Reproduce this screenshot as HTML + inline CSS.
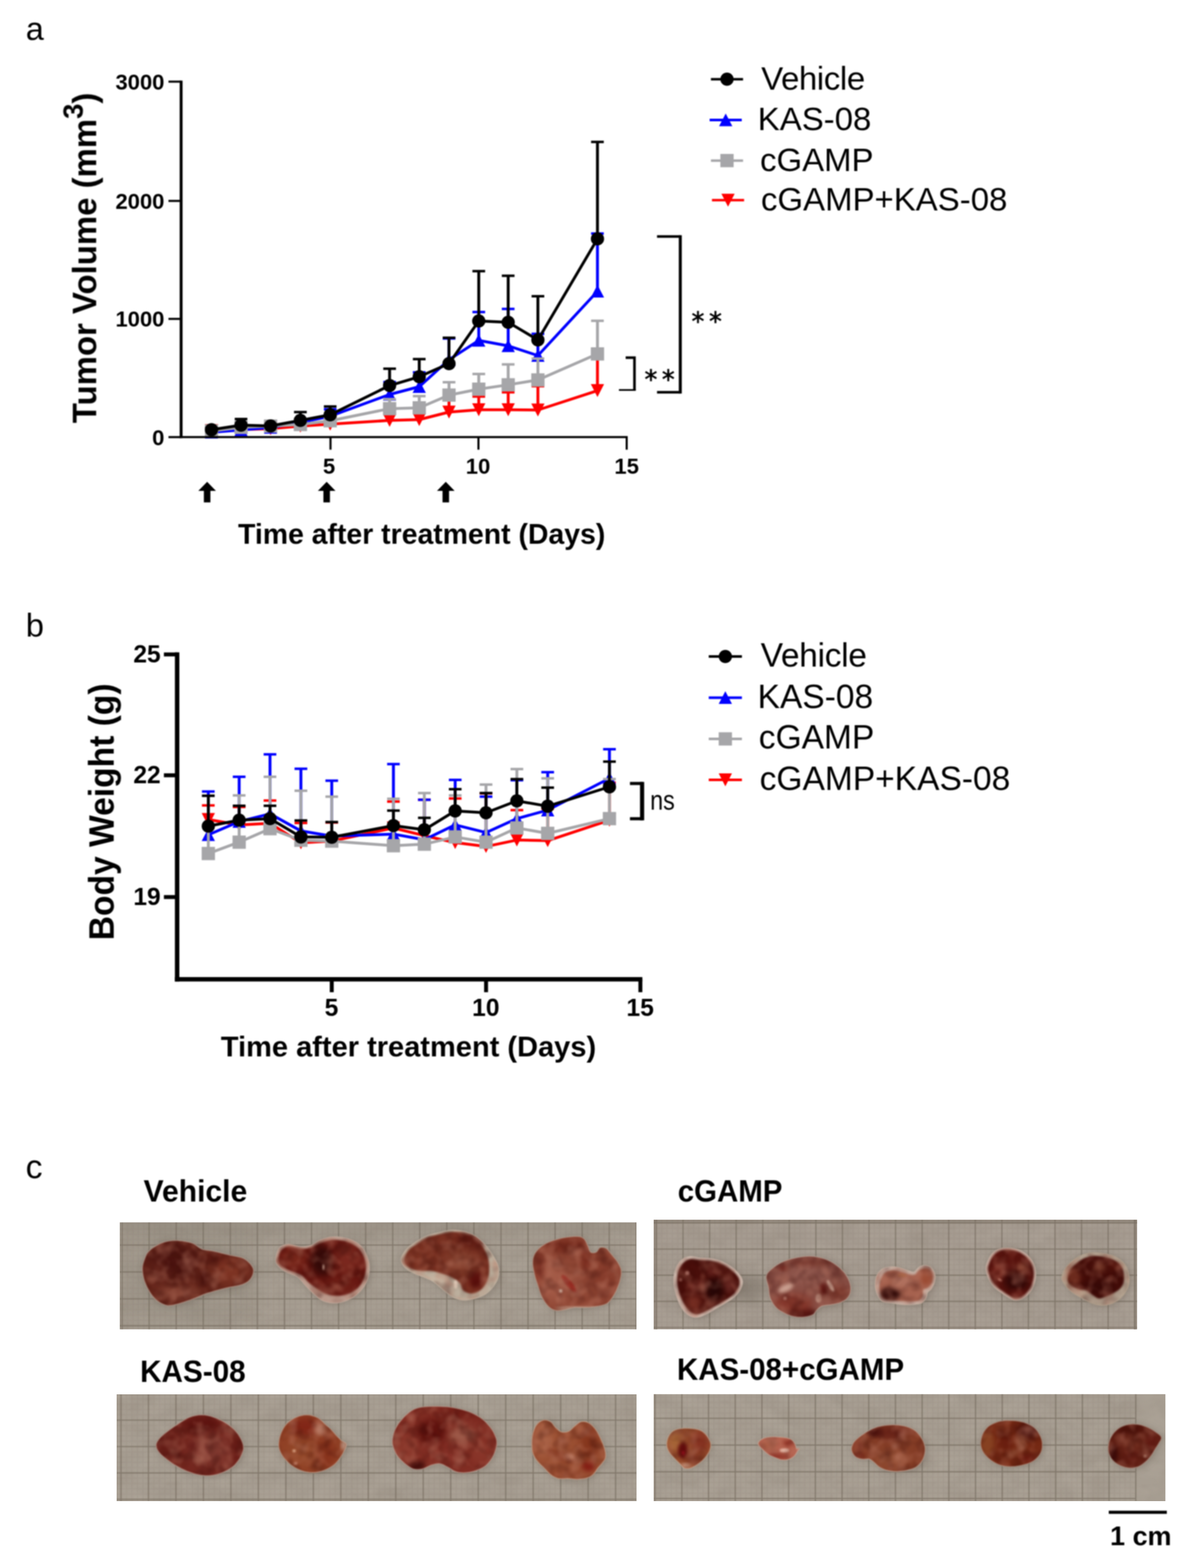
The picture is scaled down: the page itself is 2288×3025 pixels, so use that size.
<!DOCTYPE html>
<html lang="en">
<head>
<meta charset="utf-8">
<title>Figure: tumor volume, body weight and tumor images</title>
<style>
html,body{margin:0;padding:0;background:#fff;}
body{width:2288px;height:3025px;overflow:hidden;}
svg{display:block;font-family:"Liberation Sans",Arial,Helvetica,sans-serif;fill:#000;}
svg text{fill:#000;}
</style>
</head>
<body>
<svg width="2288" height="3025" viewBox="0 0 2288 3025">
<defs>
<filter id="soft" filterUnits="userSpaceOnUse" x="0" y="0" width="2288" height="3025" color-interpolation-filters="sRGB"><feGaussianBlur stdDeviation="0.9"/></filter>
<filter id="b1" color-interpolation-filters="sRGB" x="-5%" y="-5%" width="110%" height="110%"><feGaussianBlur stdDeviation="0.9"/></filter>
<filter id="b15" color-interpolation-filters="sRGB" x="-5%" y="-5%" width="110%" height="110%"><feGaussianBlur stdDeviation="1.4"/></filter>
<filter id="b2" color-interpolation-filters="sRGB" x="-10%" y="-10%" width="120%" height="120%"><feGaussianBlur stdDeviation="1.8"/></filter>
<filter id="b3" color-interpolation-filters="sRGB" x="-20%" y="-20%" width="140%" height="140%"><feGaussianBlur stdDeviation="3"/></filter>
<filter id="b4" color-interpolation-filters="sRGB" x="-30%" y="-30%" width="160%" height="160%"><feGaussianBlur stdDeviation="4.5"/></filter>
<filter id="b6" color-interpolation-filters="sRGB" x="-40%" y="-40%" width="180%" height="180%"><feGaussianBlur stdDeviation="7"/></filter>
<filter id="b10" color-interpolation-filters="sRGB" x="-60%" y="-60%" width="220%" height="220%"><feGaussianBlur stdDeviation="11"/></filter>
<filter id="b30" color-interpolation-filters="sRGB" x="-60%" y="-60%" width="220%" height="220%"><feGaussianBlur stdDeviation="30"/></filter>
<filter id="tex" x="-8%" y="-8%" width="116%" height="116%" color-interpolation-filters="sRGB">
<feTurbulence type="fractalNoise" baseFrequency="0.04" numOctaves="2" seed="7" result="n"/>
<feColorMatrix in="n" type="matrix" values="0 0 0 0 0.2  0 0 0 0 0.03  0 0 0 0 0.02  0.9 0 0 0 -0.38" result="dk"/>
<feColorMatrix in="n" type="matrix" values="0 0 0 0 0.74  0 0 0 0 0.48  0 0 0 0 0.4  0 1.1 0 0 -0.48" result="lt"/>
<feComposite in="dk" in2="SourceGraphic" operator="in" result="dk2"/>
<feComposite in="lt" in2="SourceGraphic" operator="in" result="lt2"/>
<feMerge result="m"><feMergeNode in="SourceGraphic"/><feMergeNode in="dk2"/><feMergeNode in="lt2"/></feMerge>
<feGaussianBlur in="m" stdDeviation="1.5"/>
</filter>
<filter id="paper" x="0" y="0" width="100%" height="100%" color-interpolation-filters="sRGB">
<feTurbulence type="fractalNoise" baseFrequency="0.02 0.03" numOctaves="3" seed="11" result="n"/>
<feColorMatrix in="n" type="matrix" values="0 0 0 0 0.5  0 0 0 0 0.45  0 0 0 0 0.4  1.6 0 0 0 -0.62" result="dk"/>
<feColorMatrix in="n" type="matrix" values="0 0 0 0 0.8  0 0 0 0 0.76  0 0 0 0 0.71  0 1.6 0 0 -0.62" result="lt"/>
<feMerge><feMergeNode in="dk"/><feMergeNode in="lt"/></feMerge>
</filter>
<clipPath id="pc1"><rect x="231" y="2358.3" width="996.5" height="206.19999999999982"/></clipPath>
<clipPath id="tc2"><path d="M275.0 2448.9C274.8 2440.5 277.8 2433.3 280.0 2427.3C282.3 2421.4 283.4 2417.8 288.6 2413.0C293.9 2408.2 303.2 2401.9 311.6 2398.6C320.0 2395.4 329.1 2393.6 338.9 2393.6C348.7 2393.6 362.1 2395.9 370.4 2398.6C378.8 2401.4 381.9 2407.5 389.1 2410.1C396.2 2412.8 404.6 2412.5 413.5 2414.4C422.3 2416.3 432.6 2419.2 442.1 2421.6C451.7 2424.0 463.2 2424.5 470.8 2428.8C478.5 2433.1 485.9 2441.2 488.1 2447.4C490.2 2453.6 487.1 2461.1 483.7 2466.1C480.4 2471.1 476.1 2474.4 468.0 2477.5C459.8 2480.7 446.4 2481.9 435.0 2484.7C423.5 2487.6 409.9 2491.2 399.1 2494.8C388.4 2498.4 380.5 2502.7 370.4 2506.2C360.4 2509.8 347.2 2514.4 338.9 2516.3C330.5 2518.2 326.9 2519.6 320.2 2517.7C313.5 2515.8 305.1 2511.5 298.7 2504.8C292.2 2498.1 285.4 2486.9 281.5 2477.5C277.5 2468.2 275.3 2457.2 275.0 2448.9Z"/></clipPath>
<clipPath id="tc3"><path d="M532.2 2430.3C532.4 2424.8 534.7 2413.6 538.6 2408.7C542.6 2403.8 548.9 2401.3 555.9 2400.8C562.8 2400.4 572.8 2405.5 580.3 2405.9C587.7 2406.2 594.1 2405.1 600.3 2403.0C606.6 2400.8 610.6 2395.7 617.5 2393.0C624.5 2390.2 633.1 2387.0 641.9 2386.5C650.8 2386.0 661.8 2387.3 670.6 2390.1C679.5 2392.8 688.8 2397.3 695.0 2403.0C701.2 2408.7 705.1 2417.1 707.9 2424.5C710.8 2431.9 712.5 2439.3 712.2 2447.5C712.0 2455.6 709.8 2465.6 706.5 2473.3C703.1 2480.9 698.1 2487.6 692.1 2493.4C686.2 2499.1 678.3 2504.4 670.6 2507.7C663.0 2511.1 654.1 2513.2 646.2 2513.5C638.4 2513.7 630.0 2512.0 623.3 2509.2C616.6 2506.3 611.8 2501.3 606.1 2496.2C600.3 2491.2 594.1 2484.5 588.9 2479.0C583.6 2473.5 580.7 2467.5 574.5 2463.2C568.3 2458.9 557.8 2456.8 551.6 2453.2C545.3 2449.6 540.4 2445.6 537.2 2441.7C534.0 2437.9 532.0 2435.8 532.2 2430.3Z"/></clipPath>
<clipPath id="tc4"><path d="M774.3 2428.9C775.1 2423.4 779.6 2415.7 784.4 2410.2C789.2 2404.7 796.3 2400.2 803.0 2395.9C809.7 2391.6 817.4 2387.3 824.6 2384.4C831.7 2381.5 838.2 2380.4 846.1 2378.6C854.0 2376.9 863.5 2374.0 871.9 2373.6C880.3 2373.3 888.6 2374.5 896.3 2376.5C903.9 2378.5 911.1 2381.4 917.8 2385.8C924.5 2390.2 931.0 2396.8 936.4 2403.0C941.9 2409.3 946.7 2416.4 950.8 2423.1C954.9 2429.8 959.2 2436.5 960.8 2443.2C962.5 2449.9 962.3 2457.1 960.8 2463.3C959.4 2469.5 956.3 2475.0 952.2 2480.5C948.2 2486.0 942.7 2492.2 936.4 2496.3C930.2 2500.3 922.3 2503.0 914.9 2504.9C907.5 2506.8 899.2 2508.5 892.0 2507.8C884.8 2507.0 878.4 2504.2 871.9 2500.6C865.4 2497.0 859.2 2491.0 853.2 2486.2C847.3 2481.5 842.0 2475.7 836.0 2471.9C830.1 2468.1 824.1 2466.2 817.4 2463.3C810.7 2460.4 802.1 2458.0 795.9 2454.7C789.6 2451.3 783.7 2447.5 780.1 2443.2C776.5 2438.9 773.6 2434.4 774.3 2428.9Z"/></clipPath>
<clipPath id="tc5"><path d="M1028.0 2434.6C1028.2 2427.6 1029.8 2422.6 1033.0 2417.3C1036.2 2412.1 1041.4 2407.1 1047.3 2403.0C1053.3 2398.9 1061.2 2395.6 1068.9 2393.0C1076.5 2390.3 1085.6 2388.4 1093.2 2387.2C1100.9 2386.0 1109.3 2385.3 1114.8 2385.8C1120.3 2386.3 1123.1 2387.2 1126.2 2390.1C1129.3 2393.0 1131.3 2398.7 1133.4 2403.0C1135.6 2407.3 1136.3 2413.8 1139.2 2415.9C1142.0 2418.1 1147.5 2417.3 1150.6 2415.9C1153.7 2414.5 1154.7 2408.5 1157.8 2407.3C1160.9 2406.1 1165.7 2406.6 1169.3 2408.7C1172.9 2410.9 1175.7 2415.9 1179.3 2420.2C1182.9 2424.5 1187.7 2429.5 1190.8 2434.6C1193.9 2439.6 1197.0 2444.8 1198.0 2450.3C1198.9 2455.8 1197.7 2461.8 1196.5 2467.5C1195.3 2473.3 1192.9 2479.5 1190.8 2484.8C1188.6 2490.0 1186.7 2494.3 1183.6 2499.1C1180.5 2503.9 1176.9 2510.1 1172.1 2513.5C1167.4 2516.8 1162.1 2517.8 1154.9 2519.2C1147.8 2520.6 1137.0 2521.6 1129.1 2522.1C1121.2 2522.5 1114.3 2521.3 1107.6 2522.1C1100.9 2522.8 1094.9 2525.4 1088.9 2526.4C1083.0 2527.3 1077.0 2529.0 1071.7 2527.8C1066.5 2526.6 1061.7 2523.5 1057.4 2519.2C1053.1 2514.9 1049.0 2508.2 1045.9 2502.0C1042.8 2495.8 1041.1 2489.1 1038.7 2481.9C1036.3 2474.7 1033.4 2466.8 1031.6 2458.9C1029.8 2451.1 1027.7 2441.5 1028.0 2434.6Z"/></clipPath>
<clipPath id="pc6"><rect x="225" y="2690" width="1003" height="206"/></clipPath>
<clipPath id="tc7"><path d="M301.5 2787.5C302.0 2782.7 305.8 2777.9 310.1 2773.1C314.4 2768.3 321.4 2763.3 327.3 2758.8C333.3 2754.2 339.5 2749.9 346.0 2745.9C352.4 2741.8 358.9 2737.0 366.1 2734.4C373.2 2731.8 381.4 2730.1 389.0 2730.1C396.7 2730.1 404.6 2732.0 412.0 2734.4C419.4 2736.8 426.8 2740.4 433.5 2744.4C440.2 2748.5 446.9 2753.3 452.1 2758.8C457.4 2764.3 462.2 2771.4 465.1 2777.4C467.9 2783.4 469.8 2788.7 469.4 2794.6C468.9 2800.6 465.5 2807.5 462.2 2813.3C458.8 2819.0 454.8 2824.5 449.3 2829.1C443.8 2833.6 436.4 2837.7 429.2 2840.5C422.0 2843.4 413.9 2845.6 406.2 2846.3C398.6 2847.0 390.9 2846.3 383.3 2844.8C375.6 2843.4 367.5 2840.5 360.3 2837.7C353.2 2834.8 346.7 2831.5 340.3 2827.6C333.8 2823.8 327.1 2819.0 321.6 2814.7C316.1 2810.4 310.6 2806.4 307.3 2801.8C303.9 2797.3 301.0 2792.2 301.5 2787.5Z"/></clipPath>
<clipPath id="tc8"><path d="M538.0 2787.5C538.0 2781.7 539.1 2774.1 541.6 2767.4C544.1 2760.7 548.1 2752.8 553.1 2747.3C558.1 2741.8 565.0 2737.3 571.7 2734.4C578.4 2731.5 586.3 2729.8 593.2 2730.1C600.2 2730.3 607.8 2733.0 613.3 2735.8C618.8 2738.7 622.2 2743.7 626.2 2747.3C630.3 2750.9 633.9 2753.5 637.7 2757.3C641.5 2761.2 645.8 2766.7 649.2 2770.3C652.5 2773.8 654.7 2776.2 657.8 2778.9C660.9 2781.5 666.9 2782.7 667.8 2786.0C668.8 2789.4 665.7 2794.4 663.5 2798.9C661.4 2803.5 658.3 2808.7 654.9 2813.3C651.6 2817.8 648.5 2822.4 643.5 2826.2C638.4 2830.0 631.3 2833.8 624.8 2836.2C618.4 2838.6 611.4 2840.3 604.7 2840.5C598.0 2840.8 591.1 2839.6 584.6 2837.7C578.2 2835.8 571.7 2832.9 566.0 2829.1C560.3 2825.2 554.3 2819.3 550.2 2814.7C546.1 2810.2 543.6 2806.4 541.6 2801.8C539.6 2797.3 538.0 2793.2 538.0 2787.5Z"/></clipPath>
<clipPath id="tc9"><path d="M757.2 2780.3C757.5 2774.6 758.9 2766.7 761.5 2760.3C764.1 2753.8 768.2 2747.6 773.0 2741.6C777.8 2735.6 784.2 2728.7 790.2 2724.4C796.2 2720.1 801.7 2717.6 808.9 2715.8C816.0 2714.0 824.4 2713.9 833.2 2713.6C842.1 2713.4 853.1 2713.5 861.9 2714.3C870.8 2715.2 878.4 2716.7 886.3 2718.6C894.2 2720.6 902.1 2722.7 909.3 2725.8C916.4 2728.9 923.4 2732.8 929.4 2737.3C935.3 2741.8 940.8 2747.6 945.1 2753.1C949.4 2758.6 953.0 2764.8 955.2 2770.3C957.3 2775.8 958.5 2780.1 958.1 2786.1C957.6 2792.1 955.2 2799.9 952.3 2806.2C949.4 2812.4 945.6 2818.6 940.8 2823.4C936.1 2828.2 930.3 2832.0 923.6 2834.8C916.9 2837.7 907.8 2839.9 900.7 2840.6C893.5 2841.3 886.6 2840.8 880.6 2839.2C874.6 2837.5 870.1 2833.2 864.8 2830.5C859.5 2827.9 854.5 2824.1 849.0 2823.4C843.5 2822.7 837.5 2824.6 831.8 2826.2C826.1 2827.9 820.3 2832.2 814.6 2833.4C808.9 2834.6 802.9 2835.1 797.4 2833.4C791.9 2831.7 786.6 2827.4 781.6 2823.4C776.6 2819.3 770.8 2813.8 767.3 2809.0C763.7 2804.2 761.8 2799.5 760.1 2794.7C758.4 2789.9 757.0 2786.1 757.2 2780.3Z"/></clipPath>
<clipPath id="tc10"><path d="M1026.5 2788.9C1026.4 2782.6 1026.4 2774.0 1028.0 2767.3C1029.5 2760.6 1032.4 2753.2 1035.9 2748.7C1039.3 2744.1 1044.5 2741.0 1048.8 2740.1C1053.1 2739.1 1057.9 2740.6 1061.7 2743.0C1065.5 2745.3 1068.1 2751.1 1071.7 2754.4C1075.3 2757.8 1078.9 2761.8 1083.2 2763.0C1087.5 2764.2 1093.2 2763.5 1097.5 2761.6C1101.9 2759.7 1105.0 2754.7 1109.0 2751.6C1113.1 2748.5 1117.4 2743.9 1121.9 2743.0C1126.5 2742.0 1131.7 2743.2 1136.3 2745.8C1140.8 2748.5 1145.4 2753.5 1149.2 2758.7C1153.0 2764.0 1156.4 2771.2 1159.2 2777.4C1162.1 2783.6 1165.0 2790.3 1166.4 2796.0C1167.8 2801.8 1168.8 2807.3 1167.8 2811.8C1166.9 2816.4 1163.3 2819.7 1160.7 2823.3C1158.0 2826.9 1154.7 2830.0 1152.1 2833.3C1149.4 2836.7 1148.0 2840.5 1144.9 2843.4C1141.8 2846.2 1138.4 2848.9 1133.4 2850.5C1128.4 2852.2 1121.0 2853.2 1114.8 2853.4C1108.5 2853.7 1102.3 2852.2 1096.1 2852.0C1089.9 2851.7 1083.0 2853.2 1077.5 2852.0C1072.0 2850.8 1067.7 2848.2 1063.1 2844.8C1058.6 2841.5 1054.5 2836.2 1050.2 2831.9C1045.9 2827.6 1040.9 2823.5 1037.3 2819.0C1033.7 2814.4 1030.5 2809.7 1028.7 2804.6C1026.9 2799.6 1026.7 2795.1 1026.5 2788.9Z"/></clipPath>
<clipPath id="pc11"><rect x="1261" y="2353" width="932.5" height="211.5"/></clipPath>
<clipPath id="tc12"><path d="M1300.1 2467.4C1300.5 2460.7 1302.0 2453.3 1304.4 2447.3C1306.8 2441.4 1310.2 2435.4 1314.5 2431.6C1318.8 2427.7 1324.3 2425.1 1330.3 2424.4C1336.2 2423.7 1343.2 2426.5 1350.3 2427.3C1357.5 2428.0 1366.1 2427.5 1373.3 2428.7C1380.5 2429.9 1387.2 2431.8 1393.4 2434.4C1399.6 2437.1 1405.3 2440.6 1410.6 2444.5C1415.8 2448.3 1421.3 2452.8 1424.9 2457.4C1428.5 2461.9 1431.6 2466.7 1432.1 2471.7C1432.6 2476.7 1430.4 2482.5 1427.8 2487.5C1425.2 2492.5 1421.1 2497.5 1416.3 2501.9C1411.5 2506.2 1404.8 2509.7 1399.1 2513.3C1393.4 2516.9 1387.6 2520.0 1381.9 2523.4C1376.2 2526.7 1370.4 2530.5 1364.7 2533.4C1358.9 2536.3 1352.7 2539.6 1347.5 2540.6C1342.2 2541.5 1337.9 2541.3 1333.1 2539.2C1328.3 2537.0 1322.8 2532.7 1318.8 2527.7C1314.7 2522.7 1311.5 2515.7 1308.7 2509.0C1306.0 2502.3 1303.7 2494.4 1302.3 2487.5C1300.8 2480.6 1299.8 2474.1 1300.1 2467.4Z"/></clipPath>
<clipPath id="tc13"><path d="M1478.7 2461.7C1479.9 2455.5 1485.4 2451.6 1490.2 2447.3C1494.9 2443.0 1501.2 2439.0 1507.4 2435.9C1513.6 2432.8 1520.3 2430.6 1527.5 2428.7C1534.6 2426.8 1543.0 2425.1 1550.4 2424.4C1557.8 2423.7 1564.8 2423.4 1571.9 2424.4C1579.1 2425.3 1586.8 2427.5 1593.5 2430.1C1600.1 2432.8 1606.4 2436.1 1612.1 2440.2C1617.8 2444.2 1623.6 2449.3 1627.9 2454.5C1632.2 2459.8 1635.8 2466.0 1637.9 2471.7C1640.1 2477.5 1641.3 2483.7 1640.8 2488.9C1640.3 2494.2 1638.2 2499.5 1635.1 2503.3C1631.9 2507.1 1627.2 2509.7 1622.1 2511.9C1617.1 2514.0 1610.9 2515.0 1604.9 2516.2C1599.0 2517.4 1591.1 2517.4 1586.3 2519.1C1581.5 2520.7 1579.3 2523.4 1576.2 2526.2C1573.1 2529.1 1571.9 2533.9 1567.6 2536.3C1563.3 2538.7 1556.6 2540.1 1550.4 2540.6C1544.2 2541.1 1536.8 2540.6 1530.3 2539.2C1523.9 2537.7 1517.4 2535.1 1511.7 2532.0C1505.9 2528.9 1500.2 2525.3 1495.9 2520.5C1491.6 2515.7 1488.0 2509.3 1485.9 2503.3C1483.7 2497.3 1484.2 2491.6 1483.0 2484.6C1481.8 2477.7 1477.5 2467.9 1478.7 2461.7Z"/></clipPath>
<clipPath id="tc14"><path d="M1688.7 2480.3C1688.5 2474.4 1689.4 2466.9 1691.6 2461.7C1693.7 2456.4 1697.3 2451.6 1701.6 2448.8C1705.9 2445.9 1711.9 2444.9 1717.4 2444.5C1722.9 2444.0 1728.9 2444.7 1734.6 2445.9C1740.3 2447.1 1747.0 2450.2 1751.8 2451.6C1756.6 2453.1 1759.9 2455.5 1763.3 2454.5C1766.6 2453.6 1768.5 2448.1 1771.9 2445.9C1775.2 2443.8 1779.3 2441.6 1783.4 2441.6C1787.4 2441.6 1792.9 2442.8 1796.3 2445.9C1799.6 2449.0 1802.5 2455.5 1803.5 2460.3C1804.4 2465.0 1803.2 2470.3 1802.0 2474.6C1800.8 2478.9 1798.4 2483.0 1796.3 2486.1C1794.1 2489.2 1790.8 2490.4 1789.1 2493.2C1787.4 2496.1 1788.2 2499.9 1786.2 2503.3C1784.3 2506.6 1781.9 2511.2 1777.6 2513.3C1773.3 2515.5 1766.6 2515.7 1760.4 2516.2C1754.2 2516.7 1747.0 2516.7 1740.3 2516.2C1733.6 2515.7 1726.5 2514.3 1720.3 2513.3C1714.0 2512.4 1707.6 2513.1 1703.0 2510.5C1698.5 2507.8 1695.4 2502.6 1693.0 2497.5C1690.6 2492.5 1688.9 2486.3 1688.7 2480.3Z"/></clipPath>
<clipPath id="tc15"><path d="M1902.3 2448.9C1901.8 2442.9 1903.9 2438.1 1905.9 2433.1C1907.9 2428.1 1910.9 2422.6 1914.5 2418.7C1918.1 2414.9 1922.6 2411.9 1927.4 2410.1C1932.2 2408.3 1937.7 2408.0 1943.2 2408.0C1948.7 2408.0 1954.9 2408.6 1960.4 2410.1C1965.9 2411.7 1971.4 2414.0 1976.2 2417.3C1981.0 2420.6 1985.8 2425.4 1989.1 2430.2C1992.5 2435.0 1994.8 2440.5 1996.3 2446.0C1997.7 2451.5 1998.2 2457.5 1997.7 2463.2C1997.2 2468.9 1995.6 2475.2 1993.4 2480.4C1991.3 2485.7 1988.4 2490.7 1984.8 2494.8C1981.2 2498.8 1976.4 2502.7 1971.9 2504.8C1967.4 2507.0 1962.1 2508.2 1957.5 2507.7C1953.0 2507.2 1948.9 2504.3 1944.6 2501.9C1940.3 2499.5 1936.0 2496.4 1931.7 2493.3C1927.4 2490.2 1922.6 2487.4 1918.8 2483.3C1915.0 2479.2 1911.5 2474.7 1908.8 2468.9C1906.0 2463.2 1902.8 2454.8 1902.3 2448.9Z"/></clipPath>
<clipPath id="tc16"><path d="M2048.8 2466.1C2048.3 2460.6 2051.4 2454.1 2054.5 2448.9C2057.6 2443.6 2062.4 2438.8 2067.4 2434.5C2072.4 2430.2 2078.2 2425.9 2084.6 2423.0C2091.1 2420.2 2098.7 2418.0 2106.2 2417.3C2113.6 2416.6 2121.7 2417.5 2129.1 2418.7C2136.5 2419.9 2144.2 2421.4 2150.6 2424.5C2157.1 2427.6 2163.5 2432.4 2167.8 2437.4C2172.1 2442.4 2174.8 2448.6 2176.4 2454.6C2178.1 2460.6 2178.6 2467.3 2177.9 2473.2C2177.2 2479.2 2175.0 2485.2 2172.1 2490.5C2169.3 2495.7 2165.5 2500.7 2160.7 2504.8C2155.9 2508.9 2149.4 2512.7 2143.5 2514.8C2137.5 2517.0 2131.0 2518.0 2124.8 2517.7C2118.6 2517.5 2112.1 2515.6 2106.2 2513.4C2100.2 2511.3 2094.7 2507.9 2088.9 2504.8C2083.2 2501.7 2077.0 2498.6 2071.7 2494.8C2066.5 2490.9 2061.2 2486.6 2057.4 2481.9C2053.6 2477.1 2049.3 2471.6 2048.8 2466.1Z"/></clipPath>
<clipPath id="pc17"><rect x="1261" y="2689.4" width="987.5" height="206.5999999999999"/></clipPath>
<clipPath id="tc18"><path d="M1286.5 2787.4C1286.3 2782.4 1287.9 2776.2 1290.1 2771.6C1292.4 2767.1 1295.6 2762.8 1300.2 2760.2C1304.7 2757.5 1311.4 2756.5 1317.4 2755.9C1323.4 2755.3 1330.3 2755.9 1336.0 2756.6C1341.8 2757.3 1347.3 2757.9 1351.8 2760.2C1356.4 2762.4 1360.2 2766.1 1363.3 2770.2C1366.4 2774.3 1369.5 2780.0 1370.5 2784.6C1371.4 2789.1 1370.2 2793.6 1369.0 2797.5C1367.8 2801.3 1365.7 2804.2 1363.3 2807.5C1360.9 2810.9 1358.0 2814.4 1354.7 2817.5C1351.3 2820.7 1347.0 2823.8 1343.2 2826.2C1339.4 2828.5 1335.6 2830.9 1331.7 2831.9C1327.9 2832.9 1323.6 2833.3 1320.3 2831.9C1316.9 2830.5 1314.8 2826.4 1311.6 2823.3C1308.5 2820.2 1304.9 2816.8 1301.6 2813.2C1298.3 2809.7 1294.1 2806.1 1291.6 2801.8C1289.0 2797.5 1286.8 2792.4 1286.5 2787.4Z"/></clipPath>
<clipPath id="tc19"><path d="M1463.0 2784.6C1463.5 2782.4 1465.7 2779.3 1468.8 2777.4C1471.9 2775.5 1476.9 2773.9 1481.7 2773.1C1486.5 2772.2 1492.2 2772.2 1497.5 2772.4C1502.7 2772.5 1508.5 2773.0 1513.2 2773.8C1518.0 2774.6 1522.8 2775.3 1526.2 2777.4C1529.5 2779.4 1531.7 2783.1 1533.3 2786.0C1535.0 2788.9 1534.8 2793.2 1536.2 2794.6C1537.6 2796.0 1541.7 2793.6 1541.9 2794.6C1542.2 2795.6 1539.3 2797.9 1537.6 2800.3C1536.0 2802.7 1534.5 2806.6 1531.9 2808.9C1529.3 2811.3 1525.7 2813.5 1521.9 2814.7C1518.0 2815.9 1513.2 2816.6 1508.9 2816.1C1504.6 2815.6 1500.3 2813.5 1496.0 2811.8C1491.7 2810.1 1486.9 2808.5 1483.1 2806.1C1479.3 2803.7 1475.9 2800.1 1473.1 2797.5C1470.2 2794.8 1467.6 2792.4 1465.9 2790.3C1464.2 2788.1 1462.6 2786.7 1463.0 2784.6Z"/></clipPath>
<clipPath id="tc20"><path d="M1643.0 2794.6C1643.3 2791.0 1644.9 2786.7 1647.3 2783.1C1649.7 2779.5 1653.3 2776.4 1657.4 2773.1C1661.4 2769.7 1666.5 2766.1 1671.7 2763.0C1677.0 2759.9 1682.7 2756.6 1688.9 2754.4C1695.2 2752.3 1702.3 2751.0 1709.0 2750.1C1715.7 2749.3 1722.7 2749.0 1729.1 2749.4C1735.6 2749.8 1741.8 2750.5 1747.8 2752.3C1753.7 2754.1 1760.2 2756.7 1765.0 2760.2C1769.8 2763.6 1773.3 2768.3 1776.4 2773.1C1779.6 2777.9 1782.4 2783.6 1783.6 2788.9C1784.8 2794.1 1784.6 2799.6 1783.6 2804.6C1782.7 2809.7 1780.8 2814.7 1777.9 2819.0C1775.0 2823.3 1771.2 2827.6 1766.4 2830.5C1761.6 2833.3 1755.4 2834.9 1749.2 2836.2C1743.0 2837.5 1735.3 2838.4 1729.1 2838.4C1722.9 2838.4 1717.2 2837.5 1711.9 2836.2C1706.6 2834.9 1701.9 2833.1 1697.5 2830.5C1693.2 2827.8 1689.4 2823.0 1686.1 2820.4C1682.7 2817.8 1681.1 2815.6 1677.5 2814.7C1673.9 2813.7 1668.6 2815.2 1664.6 2814.7C1660.5 2814.2 1656.2 2813.5 1653.1 2811.8C1650.0 2810.1 1647.6 2807.5 1645.9 2804.6C1644.2 2801.8 1642.8 2798.2 1643.0 2794.6Z"/></clipPath>
<clipPath id="tc21"><path d="M1892.4 2784.6C1892.5 2779.6 1893.7 2772.6 1895.9 2767.4C1898.2 2762.1 1901.7 2756.9 1906.0 2753.0C1910.3 2749.2 1916.0 2746.5 1921.8 2744.4C1927.5 2742.4 1934.0 2741.3 1940.4 2740.8C1946.9 2740.4 1954.0 2740.7 1960.5 2741.6C1967.0 2742.4 1973.4 2743.7 1979.2 2745.9C1984.9 2748.0 1990.6 2750.9 1994.9 2754.5C1999.2 2758.1 2002.5 2762.8 2005.0 2767.4C2007.5 2771.9 2009.3 2776.7 2010.0 2781.7C2010.7 2786.7 2010.6 2792.7 2009.3 2797.5C2008.0 2802.3 2005.5 2806.6 2002.1 2810.4C1998.8 2814.2 1994.2 2817.8 1989.2 2820.5C1984.2 2823.1 1978.0 2824.8 1972.0 2826.2C1966.0 2827.6 1959.5 2828.8 1953.3 2829.1C1947.1 2829.3 1940.7 2829.1 1934.7 2827.6C1928.7 2826.2 1922.7 2823.6 1917.5 2820.5C1912.2 2817.4 1906.8 2812.8 1903.1 2809.0C1899.4 2805.2 1897.0 2801.6 1895.2 2797.5C1893.4 2793.4 1892.2 2789.6 1892.4 2784.6Z"/></clipPath>
<clipPath id="tc22"><path d="M2138.3 2796.1C2138.1 2791.5 2138.6 2785.6 2140.4 2780.3C2142.2 2775.0 2145.2 2769.1 2149.0 2764.5C2152.9 2760.0 2158.1 2755.8 2163.4 2753.0C2168.6 2750.3 2174.8 2748.7 2180.6 2748.0C2186.3 2747.3 2192.1 2747.7 2197.8 2748.7C2203.5 2749.8 2209.8 2752.1 2215.0 2754.5C2220.3 2756.9 2225.2 2760.0 2229.4 2763.1C2233.5 2766.2 2239.2 2769.5 2240.1 2773.1C2241.1 2776.7 2237.1 2780.8 2235.1 2784.6C2233.1 2788.4 2230.3 2792.2 2227.9 2796.1C2225.5 2799.9 2223.6 2803.7 2220.8 2807.5C2217.9 2811.4 2214.8 2815.4 2210.7 2819.0C2206.6 2822.6 2201.6 2826.9 2196.4 2829.1C2191.1 2831.2 2184.9 2832.2 2179.2 2831.9C2173.4 2831.7 2167.0 2829.8 2161.9 2827.6C2156.9 2825.5 2152.5 2822.4 2149.0 2819.0C2145.6 2815.7 2142.9 2811.4 2141.1 2807.5C2139.3 2803.7 2138.4 2800.6 2138.3 2796.1Z"/></clipPath>
</defs>
<rect x="0" y="0" width="2288" height="3025" fill="#ffffff"/>
<g id="panel-a" filter="url(#soft)">
<line x1="408.0" y1="830.8" x2="408.0" y2="826.0" stroke="#ff0000" stroke-width="5.6" stroke-linecap="butt"/>
<line x1="395.8" y1="826.0" x2="420.2" y2="826.0" stroke="#ff0000" stroke-width="4.8" stroke-linecap="butt"/>
<line x1="465.0" y1="829.0" x2="465.0" y2="822.0" stroke="#ff0000" stroke-width="5.6" stroke-linecap="butt"/>
<line x1="452.8" y1="822.0" x2="477.2" y2="822.0" stroke="#ff0000" stroke-width="4.8" stroke-linecap="butt"/>
<line x1="522.0" y1="827.0" x2="522.0" y2="821.0" stroke="#ff0000" stroke-width="5.6" stroke-linecap="butt"/>
<line x1="509.8" y1="821.0" x2="534.2" y2="821.0" stroke="#ff0000" stroke-width="4.8" stroke-linecap="butt"/>
<line x1="579.5" y1="822.0" x2="579.5" y2="816.0" stroke="#ff0000" stroke-width="5.6" stroke-linecap="butt"/>
<line x1="567.2" y1="816.0" x2="591.8" y2="816.0" stroke="#ff0000" stroke-width="4.8" stroke-linecap="butt"/>
<line x1="637.0" y1="818.3" x2="637.0" y2="810.0" stroke="#ff0000" stroke-width="5.6" stroke-linecap="butt"/>
<line x1="624.8" y1="810.0" x2="649.2" y2="810.0" stroke="#ff0000" stroke-width="4.8" stroke-linecap="butt"/>
<line x1="751.6" y1="811.0" x2="751.6" y2="795.0" stroke="#ff0000" stroke-width="5.6" stroke-linecap="butt"/>
<line x1="739.4" y1="795.0" x2="763.9" y2="795.0" stroke="#ff0000" stroke-width="4.8" stroke-linecap="butt"/>
<line x1="808.8" y1="809.5" x2="808.8" y2="790.0" stroke="#ff0000" stroke-width="5.6" stroke-linecap="butt"/>
<line x1="796.5" y1="790.0" x2="821.0" y2="790.0" stroke="#ff0000" stroke-width="4.8" stroke-linecap="butt"/>
<line x1="866.2" y1="795.0" x2="866.2" y2="772.0" stroke="#ff0000" stroke-width="5.6" stroke-linecap="butt"/>
<line x1="854.0" y1="772.0" x2="878.5" y2="772.0" stroke="#ff0000" stroke-width="4.8" stroke-linecap="butt"/>
<line x1="923.6" y1="790.5" x2="923.6" y2="765.0" stroke="#ff0000" stroke-width="5.6" stroke-linecap="butt"/>
<line x1="911.4" y1="765.0" x2="935.9" y2="765.0" stroke="#ff0000" stroke-width="4.8" stroke-linecap="butt"/>
<line x1="980.4" y1="790.5" x2="980.4" y2="756.8" stroke="#ff0000" stroke-width="5.6" stroke-linecap="butt"/>
<line x1="968.1" y1="756.8" x2="992.6" y2="756.8" stroke="#ff0000" stroke-width="4.8" stroke-linecap="butt"/>
<line x1="1037.7" y1="791.0" x2="1037.7" y2="745.0" stroke="#ff0000" stroke-width="5.6" stroke-linecap="butt"/>
<line x1="1025.5" y1="745.0" x2="1050.0" y2="745.0" stroke="#ff0000" stroke-width="4.8" stroke-linecap="butt"/>
<line x1="1152.6" y1="753.6" x2="1152.6" y2="690.0" stroke="#ff0000" stroke-width="5.6" stroke-linecap="butt"/>
<line x1="1140.3" y1="690.0" x2="1164.8" y2="690.0" stroke="#ff0000" stroke-width="4.8" stroke-linecap="butt"/>
<polyline points="408.0,830.8 465.0,829.0 522.0,827.0 579.5,822.0 637.0,818.3 751.6,811.0 808.8,809.5 866.2,795.0 923.6,790.5 980.4,790.5 1037.7,791.0 1152.6,753.6" fill="none" stroke="#ff0000" stroke-width="5.5" stroke-linejoin="round"/>
<path d="M408.0 843.3 L420.8 818.3 L395.2 818.3 Z" fill="#ff0000"/>
<path d="M465.0 841.5 L477.8 816.5 L452.2 816.5 Z" fill="#ff0000"/>
<path d="M522.0 839.5 L534.8 814.5 L509.2 814.5 Z" fill="#ff0000"/>
<path d="M579.5 834.5 L592.3 809.5 L566.7 809.5 Z" fill="#ff0000"/>
<path d="M637.0 830.8 L649.8 805.8 L624.2 805.8 Z" fill="#ff0000"/>
<path d="M751.6 823.5 L764.4 798.5 L738.8 798.5 Z" fill="#ff0000"/>
<path d="M808.8 822.0 L821.6 797.0 L796.0 797.0 Z" fill="#ff0000"/>
<path d="M866.2 807.5 L879.0 782.5 L853.4 782.5 Z" fill="#ff0000"/>
<path d="M923.6 803.0 L936.4 778.0 L910.8 778.0 Z" fill="#ff0000"/>
<path d="M980.4 803.0 L993.2 778.0 L967.6 778.0 Z" fill="#ff0000"/>
<path d="M1037.7 803.5 L1050.5 778.5 L1024.9 778.5 Z" fill="#ff0000"/>
<path d="M1152.6 766.1 L1165.4 741.1 L1139.8 741.1 Z" fill="#ff0000"/>
<line x1="408.0" y1="834.0" x2="408.0" y2="826.0" stroke="#0000ff" stroke-width="5.6" stroke-linecap="butt"/>
<line x1="395.8" y1="826.0" x2="420.2" y2="826.0" stroke="#0000ff" stroke-width="4.8" stroke-linecap="butt"/>
<line x1="465.0" y1="829.5" x2="465.0" y2="820.0" stroke="#0000ff" stroke-width="5.6" stroke-linecap="butt"/>
<line x1="452.8" y1="820.0" x2="477.2" y2="820.0" stroke="#0000ff" stroke-width="4.8" stroke-linecap="butt"/>
<line x1="522.0" y1="824.7" x2="522.0" y2="819.0" stroke="#0000ff" stroke-width="5.6" stroke-linecap="butt"/>
<line x1="509.8" y1="819.0" x2="534.2" y2="819.0" stroke="#0000ff" stroke-width="4.8" stroke-linecap="butt"/>
<line x1="579.5" y1="815.0" x2="579.5" y2="809.0" stroke="#0000ff" stroke-width="5.6" stroke-linecap="butt"/>
<line x1="567.2" y1="809.0" x2="591.8" y2="809.0" stroke="#0000ff" stroke-width="4.8" stroke-linecap="butt"/>
<line x1="637.0" y1="803.0" x2="637.0" y2="789.6" stroke="#0000ff" stroke-width="5.6" stroke-linecap="butt"/>
<line x1="624.8" y1="789.6" x2="649.2" y2="789.6" stroke="#0000ff" stroke-width="4.8" stroke-linecap="butt"/>
<line x1="751.6" y1="761.0" x2="751.6" y2="737.0" stroke="#0000ff" stroke-width="5.6" stroke-linecap="butt"/>
<line x1="739.4" y1="737.0" x2="763.9" y2="737.0" stroke="#0000ff" stroke-width="4.8" stroke-linecap="butt"/>
<line x1="808.8" y1="746.0" x2="808.8" y2="718.3" stroke="#0000ff" stroke-width="5.6" stroke-linecap="butt"/>
<line x1="796.5" y1="718.3" x2="821.0" y2="718.3" stroke="#0000ff" stroke-width="4.8" stroke-linecap="butt"/>
<line x1="866.2" y1="694.0" x2="866.2" y2="653.0" stroke="#0000ff" stroke-width="5.6" stroke-linecap="butt"/>
<line x1="854.0" y1="653.0" x2="878.5" y2="653.0" stroke="#0000ff" stroke-width="4.8" stroke-linecap="butt"/>
<line x1="923.6" y1="656.7" x2="923.6" y2="602.0" stroke="#0000ff" stroke-width="5.6" stroke-linecap="butt"/>
<line x1="911.4" y1="602.0" x2="935.9" y2="602.0" stroke="#0000ff" stroke-width="4.8" stroke-linecap="butt"/>
<line x1="980.4" y1="667.2" x2="980.4" y2="596.0" stroke="#0000ff" stroke-width="5.6" stroke-linecap="butt"/>
<line x1="968.1" y1="596.0" x2="992.6" y2="596.0" stroke="#0000ff" stroke-width="4.8" stroke-linecap="butt"/>
<line x1="1037.7" y1="686.0" x2="1037.7" y2="644.0" stroke="#0000ff" stroke-width="5.6" stroke-linecap="butt"/>
<line x1="1025.5" y1="644.0" x2="1050.0" y2="644.0" stroke="#0000ff" stroke-width="4.8" stroke-linecap="butt"/>
<line x1="1152.6" y1="562.0" x2="1152.6" y2="450.5" stroke="#0000ff" stroke-width="5.6" stroke-linecap="butt"/>
<line x1="1140.3" y1="450.5" x2="1164.8" y2="450.5" stroke="#0000ff" stroke-width="4.8" stroke-linecap="butt"/>
<polyline points="408.0,834.0 465.0,829.5 522.0,824.7 579.5,815.0 637.0,803.0 751.6,761.0 808.8,746.0 866.2,694.0 923.6,656.7 980.4,667.2 1037.7,686.0 1152.6,562.0" fill="none" stroke="#0000ff" stroke-width="5.5" stroke-linejoin="round"/>
<path d="M408.0 821.5 L420.8 846.0 L395.2 846.0 Z" fill="#0000ff"/>
<path d="M465.0 817.0 L477.8 841.5 L452.2 841.5 Z" fill="#0000ff"/>
<path d="M522.0 812.2 L534.8 836.7 L509.2 836.7 Z" fill="#0000ff"/>
<path d="M579.5 802.5 L592.3 827.0 L566.7 827.0 Z" fill="#0000ff"/>
<path d="M637.0 790.5 L649.8 815.0 L624.2 815.0 Z" fill="#0000ff"/>
<path d="M751.6 748.5 L764.4 773.0 L738.8 773.0 Z" fill="#0000ff"/>
<path d="M808.8 733.5 L821.6 758.0 L796.0 758.0 Z" fill="#0000ff"/>
<path d="M866.2 681.5 L879.0 706.0 L853.4 706.0 Z" fill="#0000ff"/>
<path d="M923.6 644.2 L936.4 668.7 L910.8 668.7 Z" fill="#0000ff"/>
<path d="M980.4 654.7 L993.2 679.2 L967.6 679.2 Z" fill="#0000ff"/>
<path d="M1037.7 673.5 L1050.5 698.0 L1024.9 698.0 Z" fill="#0000ff"/>
<path d="M1152.6 549.5 L1165.4 574.0 L1139.8 574.0 Z" fill="#0000ff"/>
<line x1="408.0" y1="831.5" x2="408.0" y2="825.0" stroke="#a6a6a9" stroke-width="5.6" stroke-linecap="butt"/>
<line x1="395.8" y1="825.0" x2="420.2" y2="825.0" stroke="#a6a6a9" stroke-width="4.8" stroke-linecap="butt"/>
<line x1="465.0" y1="824.5" x2="465.0" y2="820.0" stroke="#a6a6a9" stroke-width="5.6" stroke-linecap="butt"/>
<line x1="452.8" y1="820.0" x2="477.2" y2="820.0" stroke="#a6a6a9" stroke-width="4.8" stroke-linecap="butt"/>
<line x1="522.0" y1="822.0" x2="522.0" y2="818.0" stroke="#a6a6a9" stroke-width="5.6" stroke-linecap="butt"/>
<line x1="509.8" y1="818.0" x2="534.2" y2="818.0" stroke="#a6a6a9" stroke-width="4.8" stroke-linecap="butt"/>
<line x1="579.5" y1="818.9" x2="579.5" y2="810.0" stroke="#a6a6a9" stroke-width="5.6" stroke-linecap="butt"/>
<line x1="567.2" y1="810.0" x2="591.8" y2="810.0" stroke="#a6a6a9" stroke-width="4.8" stroke-linecap="butt"/>
<line x1="637.0" y1="811.7" x2="637.0" y2="801.0" stroke="#a6a6a9" stroke-width="5.6" stroke-linecap="butt"/>
<line x1="624.8" y1="801.0" x2="649.2" y2="801.0" stroke="#a6a6a9" stroke-width="4.8" stroke-linecap="butt"/>
<line x1="751.6" y1="788.4" x2="751.6" y2="770.0" stroke="#a6a6a9" stroke-width="5.6" stroke-linecap="butt"/>
<line x1="739.4" y1="770.0" x2="763.9" y2="770.0" stroke="#a6a6a9" stroke-width="4.8" stroke-linecap="butt"/>
<line x1="808.8" y1="786.8" x2="808.8" y2="764.2" stroke="#a6a6a9" stroke-width="5.6" stroke-linecap="butt"/>
<line x1="796.5" y1="764.2" x2="821.0" y2="764.2" stroke="#a6a6a9" stroke-width="4.8" stroke-linecap="butt"/>
<line x1="866.2" y1="762.2" x2="866.2" y2="737.4" stroke="#a6a6a9" stroke-width="5.6" stroke-linecap="butt"/>
<line x1="854.0" y1="737.4" x2="878.5" y2="737.4" stroke="#a6a6a9" stroke-width="4.8" stroke-linecap="butt"/>
<line x1="923.6" y1="750.8" x2="923.6" y2="721.5" stroke="#a6a6a9" stroke-width="5.6" stroke-linecap="butt"/>
<line x1="911.4" y1="721.5" x2="935.9" y2="721.5" stroke="#a6a6a9" stroke-width="4.8" stroke-linecap="butt"/>
<line x1="980.4" y1="742.4" x2="980.4" y2="703.0" stroke="#a6a6a9" stroke-width="5.6" stroke-linecap="butt"/>
<line x1="968.1" y1="703.0" x2="992.6" y2="703.0" stroke="#a6a6a9" stroke-width="4.8" stroke-linecap="butt"/>
<line x1="1037.7" y1="733.0" x2="1037.7" y2="691.8" stroke="#a6a6a9" stroke-width="5.6" stroke-linecap="butt"/>
<line x1="1025.5" y1="691.8" x2="1050.0" y2="691.8" stroke="#a6a6a9" stroke-width="4.8" stroke-linecap="butt"/>
<line x1="1152.6" y1="682.8" x2="1152.6" y2="618.9" stroke="#a6a6a9" stroke-width="5.6" stroke-linecap="butt"/>
<line x1="1140.3" y1="618.9" x2="1164.8" y2="618.9" stroke="#a6a6a9" stroke-width="4.8" stroke-linecap="butt"/>
<polyline points="408.0,831.5 465.0,824.5 522.0,822.0 579.5,818.9 637.0,811.7 751.6,788.4 808.8,786.8 866.2,762.2 923.6,750.8 980.4,742.4 1037.7,733.0 1152.6,682.8" fill="none" stroke="#a6a6a9" stroke-width="5.5" stroke-linejoin="round"/>
<rect x="395.2" y="818.7" width="25.6" height="25.6" fill="#a6a6a9"/>
<rect x="452.2" y="811.7" width="25.6" height="25.6" fill="#a6a6a9"/>
<rect x="509.2" y="809.2" width="25.6" height="25.6" fill="#a6a6a9"/>
<rect x="566.7" y="806.1" width="25.6" height="25.6" fill="#a6a6a9"/>
<rect x="624.2" y="798.9" width="25.6" height="25.6" fill="#a6a6a9"/>
<rect x="738.8" y="775.6" width="25.6" height="25.6" fill="#a6a6a9"/>
<rect x="796.0" y="774.0" width="25.6" height="25.6" fill="#a6a6a9"/>
<rect x="853.4" y="749.4" width="25.6" height="25.6" fill="#a6a6a9"/>
<rect x="910.8" y="738.0" width="25.6" height="25.6" fill="#a6a6a9"/>
<rect x="967.6" y="729.6" width="25.6" height="25.6" fill="#a6a6a9"/>
<rect x="1024.9" y="720.2" width="25.6" height="25.6" fill="#a6a6a9"/>
<rect x="1139.8" y="670.0" width="25.6" height="25.6" fill="#a6a6a9"/>
<line x1="408.0" y1="829.0" x2="408.0" y2="826.0" stroke="#000000" stroke-width="5.6" stroke-linecap="butt"/>
<line x1="395.8" y1="826.0" x2="420.2" y2="826.0" stroke="#000000" stroke-width="4.8" stroke-linecap="butt"/>
<line x1="465.0" y1="820.3" x2="465.0" y2="808.4" stroke="#000000" stroke-width="5.6" stroke-linecap="butt"/>
<line x1="452.8" y1="808.4" x2="477.2" y2="808.4" stroke="#000000" stroke-width="4.8" stroke-linecap="butt"/>
<line x1="522.0" y1="821.7" x2="522.0" y2="819.0" stroke="#000000" stroke-width="5.6" stroke-linecap="butt"/>
<line x1="509.8" y1="819.0" x2="534.2" y2="819.0" stroke="#000000" stroke-width="4.8" stroke-linecap="butt"/>
<line x1="579.5" y1="811.0" x2="579.5" y2="795.0" stroke="#000000" stroke-width="5.6" stroke-linecap="butt"/>
<line x1="567.2" y1="795.0" x2="591.8" y2="795.0" stroke="#000000" stroke-width="4.8" stroke-linecap="butt"/>
<line x1="637.0" y1="800.2" x2="637.0" y2="784.2" stroke="#000000" stroke-width="5.6" stroke-linecap="butt"/>
<line x1="624.8" y1="784.2" x2="649.2" y2="784.2" stroke="#000000" stroke-width="4.8" stroke-linecap="butt"/>
<line x1="751.6" y1="743.8" x2="751.6" y2="711.3" stroke="#000000" stroke-width="5.6" stroke-linecap="butt"/>
<line x1="739.4" y1="711.3" x2="763.9" y2="711.3" stroke="#000000" stroke-width="4.8" stroke-linecap="butt"/>
<line x1="808.8" y1="726.8" x2="808.8" y2="692.8" stroke="#000000" stroke-width="5.6" stroke-linecap="butt"/>
<line x1="796.5" y1="692.8" x2="821.0" y2="692.8" stroke="#000000" stroke-width="4.8" stroke-linecap="butt"/>
<line x1="866.2" y1="701.5" x2="866.2" y2="651.6" stroke="#000000" stroke-width="5.6" stroke-linecap="butt"/>
<line x1="854.0" y1="651.6" x2="878.5" y2="651.6" stroke="#000000" stroke-width="4.8" stroke-linecap="butt"/>
<line x1="923.6" y1="619.3" x2="923.6" y2="523.1" stroke="#000000" stroke-width="5.6" stroke-linecap="butt"/>
<line x1="911.4" y1="523.1" x2="935.9" y2="523.1" stroke="#000000" stroke-width="4.8" stroke-linecap="butt"/>
<line x1="980.4" y1="621.7" x2="980.4" y2="532.0" stroke="#000000" stroke-width="5.6" stroke-linecap="butt"/>
<line x1="968.1" y1="532.0" x2="992.6" y2="532.0" stroke="#000000" stroke-width="4.8" stroke-linecap="butt"/>
<line x1="1037.7" y1="655.8" x2="1037.7" y2="571.5" stroke="#000000" stroke-width="5.6" stroke-linecap="butt"/>
<line x1="1025.5" y1="571.5" x2="1050.0" y2="571.5" stroke="#000000" stroke-width="4.8" stroke-linecap="butt"/>
<line x1="1152.6" y1="460.8" x2="1152.6" y2="273.8" stroke="#000000" stroke-width="5.6" stroke-linecap="butt"/>
<line x1="1140.3" y1="273.8" x2="1164.8" y2="273.8" stroke="#000000" stroke-width="4.8" stroke-linecap="butt"/>
<polyline points="408.0,829.0 465.0,820.3 522.0,821.7 579.5,811.0 637.0,800.2 751.6,743.8 808.8,726.8 866.2,701.5 923.6,619.3 980.4,621.7 1037.7,655.8 1152.6,460.8" fill="none" stroke="#000000" stroke-width="5.5" stroke-linejoin="round"/>
<circle cx="408.0" cy="829.0" r="12.8" fill="#000000"/>
<circle cx="465.0" cy="820.3" r="12.8" fill="#000000"/>
<circle cx="522.0" cy="821.7" r="12.8" fill="#000000"/>
<circle cx="579.5" cy="811.0" r="12.8" fill="#000000"/>
<circle cx="637.0" cy="800.2" r="12.8" fill="#000000"/>
<circle cx="751.6" cy="743.8" r="12.8" fill="#000000"/>
<circle cx="808.8" cy="726.8" r="12.8" fill="#000000"/>
<circle cx="866.2" cy="701.5" r="12.8" fill="#000000"/>
<circle cx="923.6" cy="619.3" r="12.8" fill="#000000"/>
<circle cx="980.4" cy="621.7" r="12.8" fill="#000000"/>
<circle cx="1037.7" cy="655.8" r="12.8" fill="#000000"/>
<circle cx="1152.6" cy="460.8" r="12.8" fill="#000000"/>
<line x1="349.4" y1="155.6" x2="349.4" y2="845.3" stroke="#000" stroke-width="5.6" stroke-linecap="butt"/>
<line x1="346.6" y1="843.3" x2="1211.0" y2="843.3" stroke="#000" stroke-width="4" stroke-linecap="butt"/>
<line x1="325.0" y1="157.5" x2="349.0" y2="157.5" stroke="#000" stroke-width="4" stroke-linecap="butt"/>
<text x="317.2" y="172.7" font-size="42.5" font-weight="bold" text-anchor="end" >3000</text>
<line x1="325.0" y1="387.6" x2="349.0" y2="387.6" stroke="#000" stroke-width="4" stroke-linecap="butt"/>
<text x="317.2" y="402.8" font-size="42.5" font-weight="bold" text-anchor="end" >2000</text>
<line x1="325.0" y1="615.2" x2="349.0" y2="615.2" stroke="#000" stroke-width="4" stroke-linecap="butt"/>
<text x="317.2" y="630.4" font-size="42.5" font-weight="bold" text-anchor="end" >1000</text>
<line x1="325.0" y1="843.3" x2="349.0" y2="843.3" stroke="#000" stroke-width="4" stroke-linecap="butt"/>
<text x="317.2" y="858.5" font-size="42.5" font-weight="bold" text-anchor="end" >0</text>
<line x1="637.6" y1="843.0" x2="637.6" y2="867.5" stroke="#000" stroke-width="4" stroke-linecap="butt"/>
<text x="634.8" y="913.6" font-size="42.5" font-weight="bold" text-anchor="middle" >5</text>
<line x1="923.0" y1="843.0" x2="923.0" y2="867.5" stroke="#000" stroke-width="4" stroke-linecap="butt"/>
<text x="922.2" y="913.6" font-size="42.5" font-weight="bold" text-anchor="middle" >10</text>
<line x1="1209.0" y1="843.0" x2="1209.0" y2="867.5" stroke="#000" stroke-width="4" stroke-linecap="butt"/>
<text x="1209.0" y="913.6" font-size="42.5" font-weight="bold" text-anchor="middle" >15</text>
<path d="M399.6 929.6 L416.6 947 L405.90000000000003 947 L405.90000000000003 969.3 L393.3 969.3 L393.3 947 L382.6 947 Z" fill="#000"/>
<path d="M630.2 929.6 L647.2 947 L636.5 947 L636.5 969.3 L623.9000000000001 969.3 L623.9000000000001 947 L613.2 947 Z" fill="#000"/>
<path d="M860 929.6 L877 947 L866.3 947 L866.3 969.3 L853.7 969.3 L853.7 947 L843 947 Z" fill="#000"/>
<text x="813.5" y="1048.8" font-size="54.8" font-weight="bold" text-anchor="middle" >Time after treatment (Days)</text>
<text transform="translate(185.5,497.5) rotate(-90) scale(0.985,1)" font-size="64.5" font-weight="bold" text-anchor="middle">Tumor Volume (mm<tspan dy="-26" font-size="54">3</tspan><tspan dy="26">)</tspan></text>
<line x1="1371.5" y1="152.8" x2="1433.5" y2="152.8" stroke="#000000" stroke-width="4.8" stroke-linecap="butt"/>
<circle cx="1402.5" cy="152.8" r="12.8" fill="#000000"/>
<text x="1468.5" y="172.8" font-size="63.6" font-weight="normal" text-anchor="start" textLength="200.5" lengthAdjust="spacing">Vehicle</text>
<line x1="1369.0" y1="231.5" x2="1431.0" y2="231.5" stroke="#0000ff" stroke-width="4.8" stroke-linecap="butt"/>
<path d="M1400.0 219.0 L1412.8 243.5 L1387.2 243.5 Z" fill="#0000ff"/>
<text x="1461.8" y="251.2" font-size="63.6" font-weight="normal" text-anchor="start" >KAS-08</text>
<line x1="1371.5" y1="309.8" x2="1433.5" y2="309.8" stroke="#a6a6a9" stroke-width="4.8" stroke-linecap="butt"/>
<rect x="1389.7" y="297.0" width="25.6" height="25.6" fill="#a6a6a9"/>
<text x="1466.2" y="329.6" font-size="63.6" font-weight="normal" text-anchor="start" >cGAMP</text>
<line x1="1373.5" y1="386.2" x2="1435.5" y2="386.2" stroke="#ff0000" stroke-width="4.8" stroke-linecap="butt"/>
<path d="M1404.5 398.7 L1417.3 373.7 L1391.7 373.7 Z" fill="#ff0000"/>
<text x="1468.0" y="406.2" font-size="63.6" font-weight="normal" text-anchor="start" >cGAMP+KAS-08</text>
<path d="M1267.5 456.3 H1312.5" fill="none" stroke="#000" stroke-width="5"/>
<path d="M1267.5 756.7 H1312.5" fill="none" stroke="#000" stroke-width="5"/>
<path d="M1312.4 453.8 V759.2" fill="none" stroke="#000" stroke-width="5.8"/>
<path d="M1207 690 H1224 V752.7" fill="none" stroke="#000" stroke-width="5"/>
<line x1="1194.0" y1="752.4" x2="1226.5" y2="752.4" stroke="#000" stroke-width="3.4" stroke-linecap="butt"/>
<text x="1334.2" y="636.5" font-size="49" font-weight="normal" text-anchor="start" font-family="DejaVu Sans, sans-serif" letter-spacing="9.2" stroke="#000" stroke-width="1.1">**</text>
<text x="1243.4" y="749.2" font-size="49" font-weight="normal" text-anchor="start" font-family="DejaVu Sans, sans-serif" letter-spacing="9.2" stroke="#000" stroke-width="1.1">**</text>
<text x="49.8" y="76.5" font-size="62.5" font-weight="normal" text-anchor="start" >a</text>
</g>
<g id="panel-b" filter="url(#soft)">
<line x1="401.9" y1="1581.0" x2="401.9" y2="1553.8" stroke="#ff0000" stroke-width="5.6" stroke-linecap="butt"/>
<line x1="389.6" y1="1553.8" x2="414.1" y2="1553.8" stroke="#ff0000" stroke-width="4.8" stroke-linecap="butt"/>
<line x1="461.4" y1="1591.5" x2="461.4" y2="1556.8" stroke="#ff0000" stroke-width="5.6" stroke-linecap="butt"/>
<line x1="449.1" y1="1556.8" x2="473.6" y2="1556.8" stroke="#ff0000" stroke-width="4.8" stroke-linecap="butt"/>
<line x1="520.9" y1="1588.3" x2="520.9" y2="1544.4" stroke="#ff0000" stroke-width="5.6" stroke-linecap="butt"/>
<line x1="508.6" y1="1544.4" x2="533.1" y2="1544.4" stroke="#ff0000" stroke-width="4.8" stroke-linecap="butt"/>
<line x1="580.5" y1="1626.0" x2="580.5" y2="1587.7" stroke="#ff0000" stroke-width="5.6" stroke-linecap="butt"/>
<line x1="568.2" y1="1587.7" x2="592.8" y2="1587.7" stroke="#ff0000" stroke-width="4.8" stroke-linecap="butt"/>
<line x1="640.0" y1="1622.5" x2="640.0" y2="1586.8" stroke="#ff0000" stroke-width="5.6" stroke-linecap="butt"/>
<line x1="627.8" y1="1586.8" x2="652.2" y2="1586.8" stroke="#ff0000" stroke-width="4.8" stroke-linecap="butt"/>
<line x1="759.0" y1="1597.3" x2="759.0" y2="1546.4" stroke="#ff0000" stroke-width="5.6" stroke-linecap="butt"/>
<line x1="746.8" y1="1546.4" x2="771.2" y2="1546.4" stroke="#ff0000" stroke-width="4.8" stroke-linecap="butt"/>
<line x1="818.6" y1="1612.2" x2="818.6" y2="1542.9" stroke="#ff0000" stroke-width="5.6" stroke-linecap="butt"/>
<line x1="806.4" y1="1542.9" x2="830.9" y2="1542.9" stroke="#ff0000" stroke-width="4.8" stroke-linecap="butt"/>
<line x1="878.1" y1="1625.6" x2="878.1" y2="1540.5" stroke="#ff0000" stroke-width="5.6" stroke-linecap="butt"/>
<line x1="865.9" y1="1540.5" x2="890.4" y2="1540.5" stroke="#ff0000" stroke-width="4.8" stroke-linecap="butt"/>
<line x1="937.6" y1="1633.1" x2="937.6" y2="1530.5" stroke="#ff0000" stroke-width="5.6" stroke-linecap="butt"/>
<line x1="925.4" y1="1530.5" x2="949.9" y2="1530.5" stroke="#ff0000" stroke-width="4.8" stroke-linecap="butt"/>
<line x1="997.1" y1="1620.6" x2="997.1" y2="1562.9" stroke="#ff0000" stroke-width="5.6" stroke-linecap="butt"/>
<line x1="984.9" y1="1562.9" x2="1009.4" y2="1562.9" stroke="#ff0000" stroke-width="4.8" stroke-linecap="butt"/>
<line x1="1056.6" y1="1621.8" x2="1056.6" y2="1560.0" stroke="#ff0000" stroke-width="5.6" stroke-linecap="butt"/>
<line x1="1044.3" y1="1560.0" x2="1068.8" y2="1560.0" stroke="#ff0000" stroke-width="4.8" stroke-linecap="butt"/>
<line x1="1175.7" y1="1582.3" x2="1175.7" y2="1510.0" stroke="#ff0000" stroke-width="5.6" stroke-linecap="butt"/>
<line x1="1163.5" y1="1510.0" x2="1188.0" y2="1510.0" stroke="#ff0000" stroke-width="4.8" stroke-linecap="butt"/>
<polyline points="401.9,1581.0 461.4,1591.5 520.9,1588.3 580.5,1626.0 640.0,1622.5 759.0,1597.3 818.6,1612.2 878.1,1625.6 937.6,1633.1 997.1,1620.6 1056.6,1621.8 1175.7,1582.3" fill="none" stroke="#ff0000" stroke-width="5.5" stroke-linejoin="round"/>
<path d="M401.9 1593.5 L414.7 1568.5 L389.1 1568.5 Z" fill="#ff0000"/>
<path d="M461.4 1604.0 L474.2 1579.0 L448.6 1579.0 Z" fill="#ff0000"/>
<path d="M520.9 1600.8 L533.7 1575.8 L508.1 1575.8 Z" fill="#ff0000"/>
<path d="M580.5 1638.5 L593.3 1613.5 L567.7 1613.5 Z" fill="#ff0000"/>
<path d="M640.0 1635.0 L652.8 1610.0 L627.2 1610.0 Z" fill="#ff0000"/>
<path d="M759.0 1609.8 L771.8 1584.8 L746.2 1584.8 Z" fill="#ff0000"/>
<path d="M818.6 1624.7 L831.4 1599.7 L805.8 1599.7 Z" fill="#ff0000"/>
<path d="M878.1 1638.1 L890.9 1613.1 L865.3 1613.1 Z" fill="#ff0000"/>
<path d="M937.6 1645.6 L950.4 1620.6 L924.8 1620.6 Z" fill="#ff0000"/>
<path d="M997.1 1633.1 L1009.9 1608.1 L984.3 1608.1 Z" fill="#ff0000"/>
<path d="M1056.6 1634.3 L1069.4 1609.3 L1043.8 1609.3 Z" fill="#ff0000"/>
<path d="M1175.7 1594.8 L1188.5 1569.8 L1162.9 1569.8 Z" fill="#ff0000"/>
<line x1="401.9" y1="1610.5" x2="401.9" y2="1527.0" stroke="#0000ff" stroke-width="5.6" stroke-linecap="butt"/>
<line x1="389.6" y1="1527.0" x2="414.1" y2="1527.0" stroke="#0000ff" stroke-width="4.8" stroke-linecap="butt"/>
<line x1="461.4" y1="1585.0" x2="461.4" y2="1498.6" stroke="#0000ff" stroke-width="5.6" stroke-linecap="butt"/>
<line x1="449.1" y1="1498.6" x2="473.6" y2="1498.6" stroke="#0000ff" stroke-width="4.8" stroke-linecap="butt"/>
<line x1="520.9" y1="1570.0" x2="520.9" y2="1455.3" stroke="#0000ff" stroke-width="5.6" stroke-linecap="butt"/>
<line x1="508.6" y1="1455.3" x2="533.1" y2="1455.3" stroke="#0000ff" stroke-width="4.8" stroke-linecap="butt"/>
<line x1="580.5" y1="1603.0" x2="580.5" y2="1483.1" stroke="#0000ff" stroke-width="5.6" stroke-linecap="butt"/>
<line x1="568.2" y1="1483.1" x2="592.8" y2="1483.1" stroke="#0000ff" stroke-width="4.8" stroke-linecap="butt"/>
<line x1="640.0" y1="1613.0" x2="640.0" y2="1506.1" stroke="#0000ff" stroke-width="5.6" stroke-linecap="butt"/>
<line x1="627.8" y1="1506.1" x2="652.2" y2="1506.1" stroke="#0000ff" stroke-width="4.8" stroke-linecap="butt"/>
<line x1="759.0" y1="1609.2" x2="759.0" y2="1474.1" stroke="#0000ff" stroke-width="5.6" stroke-linecap="butt"/>
<line x1="746.8" y1="1474.1" x2="771.2" y2="1474.1" stroke="#0000ff" stroke-width="4.8" stroke-linecap="butt"/>
<line x1="818.6" y1="1620.0" x2="818.6" y2="1542.9" stroke="#0000ff" stroke-width="5.6" stroke-linecap="butt"/>
<line x1="806.4" y1="1542.9" x2="830.9" y2="1542.9" stroke="#0000ff" stroke-width="4.8" stroke-linecap="butt"/>
<line x1="878.1" y1="1591.3" x2="878.1" y2="1504.6" stroke="#0000ff" stroke-width="5.6" stroke-linecap="butt"/>
<line x1="865.9" y1="1504.6" x2="890.4" y2="1504.6" stroke="#0000ff" stroke-width="4.8" stroke-linecap="butt"/>
<line x1="937.6" y1="1606.2" x2="937.6" y2="1536.9" stroke="#0000ff" stroke-width="5.6" stroke-linecap="butt"/>
<line x1="925.4" y1="1536.9" x2="949.9" y2="1536.9" stroke="#0000ff" stroke-width="4.8" stroke-linecap="butt"/>
<line x1="997.1" y1="1579.3" x2="997.1" y2="1505.2" stroke="#0000ff" stroke-width="5.6" stroke-linecap="butt"/>
<line x1="984.9" y1="1505.2" x2="1009.4" y2="1505.2" stroke="#0000ff" stroke-width="4.8" stroke-linecap="butt"/>
<line x1="1056.6" y1="1562.9" x2="1056.6" y2="1489.7" stroke="#0000ff" stroke-width="5.6" stroke-linecap="butt"/>
<line x1="1044.3" y1="1489.7" x2="1068.8" y2="1489.7" stroke="#0000ff" stroke-width="4.8" stroke-linecap="butt"/>
<line x1="1175.7" y1="1501.6" x2="1175.7" y2="1445.4" stroke="#0000ff" stroke-width="5.6" stroke-linecap="butt"/>
<line x1="1163.5" y1="1445.4" x2="1188.0" y2="1445.4" stroke="#0000ff" stroke-width="4.8" stroke-linecap="butt"/>
<polyline points="401.9,1610.5 461.4,1585.0 520.9,1570.0 580.5,1603.0 640.0,1613.0 759.0,1609.2 818.6,1620.0 878.1,1591.3 937.6,1606.2 997.1,1579.3 1056.6,1562.9 1175.7,1501.6" fill="none" stroke="#0000ff" stroke-width="5.5" stroke-linejoin="round"/>
<path d="M401.9 1598.0 L414.7 1622.5 L389.1 1622.5 Z" fill="#0000ff"/>
<path d="M461.4 1572.5 L474.2 1597.0 L448.6 1597.0 Z" fill="#0000ff"/>
<path d="M520.9 1557.5 L533.7 1582.0 L508.1 1582.0 Z" fill="#0000ff"/>
<path d="M580.5 1590.5 L593.3 1615.0 L567.7 1615.0 Z" fill="#0000ff"/>
<path d="M640.0 1600.5 L652.8 1625.0 L627.2 1625.0 Z" fill="#0000ff"/>
<path d="M759.0 1596.7 L771.8 1621.2 L746.2 1621.2 Z" fill="#0000ff"/>
<path d="M818.6 1607.5 L831.4 1632.0 L805.8 1632.0 Z" fill="#0000ff"/>
<path d="M878.1 1578.8 L890.9 1603.3 L865.3 1603.3 Z" fill="#0000ff"/>
<path d="M937.6 1593.7 L950.4 1618.2 L924.8 1618.2 Z" fill="#0000ff"/>
<path d="M997.1 1566.8 L1009.9 1591.3 L984.3 1591.3 Z" fill="#0000ff"/>
<path d="M1056.6 1550.4 L1069.4 1574.9 L1043.8 1574.9 Z" fill="#0000ff"/>
<path d="M1175.7 1489.1 L1188.5 1513.6 L1162.9 1513.6 Z" fill="#0000ff"/>
<line x1="401.9" y1="1646.6" x2="401.9" y2="1535.6" stroke="#a6a6a9" stroke-width="5.6" stroke-linecap="butt"/>
<line x1="389.6" y1="1535.6" x2="414.1" y2="1535.6" stroke="#a6a6a9" stroke-width="4.8" stroke-linecap="butt"/>
<line x1="461.4" y1="1624.7" x2="461.4" y2="1534.5" stroke="#a6a6a9" stroke-width="5.6" stroke-linecap="butt"/>
<line x1="449.1" y1="1534.5" x2="473.6" y2="1534.5" stroke="#a6a6a9" stroke-width="4.8" stroke-linecap="butt"/>
<line x1="520.9" y1="1598.7" x2="520.9" y2="1498.6" stroke="#a6a6a9" stroke-width="5.6" stroke-linecap="butt"/>
<line x1="508.6" y1="1498.6" x2="533.1" y2="1498.6" stroke="#a6a6a9" stroke-width="4.8" stroke-linecap="butt"/>
<line x1="580.5" y1="1621.0" x2="580.5" y2="1525.5" stroke="#a6a6a9" stroke-width="5.6" stroke-linecap="butt"/>
<line x1="568.2" y1="1525.5" x2="592.8" y2="1525.5" stroke="#a6a6a9" stroke-width="4.8" stroke-linecap="butt"/>
<line x1="640.0" y1="1622.7" x2="640.0" y2="1536.9" stroke="#a6a6a9" stroke-width="5.6" stroke-linecap="butt"/>
<line x1="627.8" y1="1536.9" x2="652.2" y2="1536.9" stroke="#a6a6a9" stroke-width="4.8" stroke-linecap="butt"/>
<line x1="759.0" y1="1631.6" x2="759.0" y2="1541.0" stroke="#a6a6a9" stroke-width="5.6" stroke-linecap="butt"/>
<line x1="746.8" y1="1541.0" x2="771.2" y2="1541.0" stroke="#a6a6a9" stroke-width="4.8" stroke-linecap="butt"/>
<line x1="818.6" y1="1628.6" x2="818.6" y2="1530.0" stroke="#a6a6a9" stroke-width="5.6" stroke-linecap="butt"/>
<line x1="806.4" y1="1530.0" x2="830.9" y2="1530.0" stroke="#a6a6a9" stroke-width="4.8" stroke-linecap="butt"/>
<line x1="878.1" y1="1614.6" x2="878.1" y2="1534.5" stroke="#a6a6a9" stroke-width="5.6" stroke-linecap="butt"/>
<line x1="865.9" y1="1534.5" x2="890.4" y2="1534.5" stroke="#a6a6a9" stroke-width="4.8" stroke-linecap="butt"/>
<line x1="937.6" y1="1624.7" x2="937.6" y2="1513.6" stroke="#a6a6a9" stroke-width="5.6" stroke-linecap="butt"/>
<line x1="925.4" y1="1513.6" x2="949.9" y2="1513.6" stroke="#a6a6a9" stroke-width="4.8" stroke-linecap="butt"/>
<line x1="997.1" y1="1597.3" x2="997.1" y2="1483.7" stroke="#a6a6a9" stroke-width="5.6" stroke-linecap="butt"/>
<line x1="984.9" y1="1483.7" x2="1009.4" y2="1483.7" stroke="#a6a6a9" stroke-width="4.8" stroke-linecap="butt"/>
<line x1="1056.6" y1="1607.7" x2="1056.6" y2="1501.6" stroke="#a6a6a9" stroke-width="5.6" stroke-linecap="butt"/>
<line x1="1044.3" y1="1501.6" x2="1068.8" y2="1501.6" stroke="#a6a6a9" stroke-width="4.8" stroke-linecap="butt"/>
<line x1="1175.7" y1="1579.3" x2="1175.7" y2="1503.0" stroke="#a6a6a9" stroke-width="5.6" stroke-linecap="butt"/>
<line x1="1163.5" y1="1503.0" x2="1188.0" y2="1503.0" stroke="#a6a6a9" stroke-width="4.8" stroke-linecap="butt"/>
<polyline points="401.9,1646.6 461.4,1624.7 520.9,1598.7 580.5,1621.0 640.0,1622.7 759.0,1631.6 818.6,1628.6 878.1,1614.6 937.6,1624.7 997.1,1597.3 1056.6,1607.7 1175.7,1579.3" fill="none" stroke="#a6a6a9" stroke-width="5.5" stroke-linejoin="round"/>
<rect x="389.1" y="1633.8" width="25.6" height="25.6" fill="#a6a6a9"/>
<rect x="448.6" y="1611.9" width="25.6" height="25.6" fill="#a6a6a9"/>
<rect x="508.1" y="1585.9" width="25.6" height="25.6" fill="#a6a6a9"/>
<rect x="567.7" y="1608.2" width="25.6" height="25.6" fill="#a6a6a9"/>
<rect x="627.2" y="1609.9" width="25.6" height="25.6" fill="#a6a6a9"/>
<rect x="746.2" y="1618.8" width="25.6" height="25.6" fill="#a6a6a9"/>
<rect x="805.8" y="1615.8" width="25.6" height="25.6" fill="#a6a6a9"/>
<rect x="865.3" y="1601.8" width="25.6" height="25.6" fill="#a6a6a9"/>
<rect x="924.8" y="1611.9" width="25.6" height="25.6" fill="#a6a6a9"/>
<rect x="984.3" y="1584.5" width="25.6" height="25.6" fill="#a6a6a9"/>
<rect x="1043.8" y="1594.9" width="25.6" height="25.6" fill="#a6a6a9"/>
<rect x="1162.9" y="1566.5" width="25.6" height="25.6" fill="#a6a6a9"/>
<line x1="401.9" y1="1593.7" x2="401.9" y2="1535.1" stroke="#000000" stroke-width="5.6" stroke-linecap="butt"/>
<line x1="389.6" y1="1535.1" x2="414.1" y2="1535.1" stroke="#000000" stroke-width="4.8" stroke-linecap="butt"/>
<line x1="461.4" y1="1582.3" x2="461.4" y2="1554.5" stroke="#000000" stroke-width="5.6" stroke-linecap="butt"/>
<line x1="449.1" y1="1554.5" x2="473.6" y2="1554.5" stroke="#000000" stroke-width="4.8" stroke-linecap="butt"/>
<line x1="520.9" y1="1579.3" x2="520.9" y2="1554.5" stroke="#000000" stroke-width="5.6" stroke-linecap="butt"/>
<line x1="508.6" y1="1554.5" x2="533.1" y2="1554.5" stroke="#000000" stroke-width="4.8" stroke-linecap="butt"/>
<line x1="580.5" y1="1614.6" x2="580.5" y2="1582.9" stroke="#000000" stroke-width="5.6" stroke-linecap="butt"/>
<line x1="568.2" y1="1582.9" x2="592.8" y2="1582.9" stroke="#000000" stroke-width="4.8" stroke-linecap="butt"/>
<line x1="640.0" y1="1615.2" x2="640.0" y2="1585.9" stroke="#000000" stroke-width="5.6" stroke-linecap="butt"/>
<line x1="627.8" y1="1585.9" x2="652.2" y2="1585.9" stroke="#000000" stroke-width="4.8" stroke-linecap="butt"/>
<line x1="759.0" y1="1592.8" x2="759.0" y2="1563.8" stroke="#000000" stroke-width="5.6" stroke-linecap="butt"/>
<line x1="746.8" y1="1563.8" x2="771.2" y2="1563.8" stroke="#000000" stroke-width="4.8" stroke-linecap="butt"/>
<line x1="818.6" y1="1600.8" x2="818.6" y2="1577.8" stroke="#000000" stroke-width="5.6" stroke-linecap="butt"/>
<line x1="806.4" y1="1577.8" x2="830.9" y2="1577.8" stroke="#000000" stroke-width="4.8" stroke-linecap="butt"/>
<line x1="878.1" y1="1564.4" x2="878.1" y2="1522.5" stroke="#000000" stroke-width="5.6" stroke-linecap="butt"/>
<line x1="865.9" y1="1522.5" x2="890.4" y2="1522.5" stroke="#000000" stroke-width="4.8" stroke-linecap="butt"/>
<line x1="937.6" y1="1568.0" x2="937.6" y2="1530.0" stroke="#000000" stroke-width="5.6" stroke-linecap="butt"/>
<line x1="925.4" y1="1530.0" x2="949.9" y2="1530.0" stroke="#000000" stroke-width="4.8" stroke-linecap="butt"/>
<line x1="997.1" y1="1545.0" x2="997.1" y2="1503.1" stroke="#000000" stroke-width="5.6" stroke-linecap="butt"/>
<line x1="984.9" y1="1503.1" x2="1009.4" y2="1503.1" stroke="#000000" stroke-width="4.8" stroke-linecap="butt"/>
<line x1="1056.6" y1="1555.4" x2="1056.6" y2="1519.5" stroke="#000000" stroke-width="5.6" stroke-linecap="butt"/>
<line x1="1044.3" y1="1519.5" x2="1068.8" y2="1519.5" stroke="#000000" stroke-width="4.8" stroke-linecap="butt"/>
<line x1="1175.7" y1="1518.0" x2="1175.7" y2="1469.3" stroke="#000000" stroke-width="5.6" stroke-linecap="butt"/>
<line x1="1163.5" y1="1469.3" x2="1188.0" y2="1469.3" stroke="#000000" stroke-width="4.8" stroke-linecap="butt"/>
<polyline points="401.9,1593.7 461.4,1582.3 520.9,1579.3 580.5,1614.6 640.0,1615.2 759.0,1592.8 818.6,1600.8 878.1,1564.4 937.6,1568.0 997.1,1545.0 1056.6,1555.4 1175.7,1518.0" fill="none" stroke="#000000" stroke-width="5.5" stroke-linejoin="round"/>
<circle cx="401.9" cy="1593.7" r="12.8" fill="#000000"/>
<circle cx="461.4" cy="1582.3" r="12.8" fill="#000000"/>
<circle cx="520.9" cy="1579.3" r="12.8" fill="#000000"/>
<circle cx="580.5" cy="1614.6" r="12.8" fill="#000000"/>
<circle cx="640.0" cy="1615.2" r="12.8" fill="#000000"/>
<circle cx="759.0" cy="1592.8" r="12.8" fill="#000000"/>
<circle cx="818.6" cy="1600.8" r="12.8" fill="#000000"/>
<circle cx="878.1" cy="1564.4" r="12.8" fill="#000000"/>
<circle cx="937.6" cy="1568.0" r="12.8" fill="#000000"/>
<circle cx="997.1" cy="1545.0" r="12.8" fill="#000000"/>
<circle cx="1056.6" cy="1555.4" r="12.8" fill="#000000"/>
<circle cx="1175.7" cy="1518.0" r="12.8" fill="#000000"/>
<line x1="341.7" y1="1258.6" x2="341.7" y2="1893.5" stroke="#000" stroke-width="8.6" stroke-linecap="butt"/>
<line x1="337.4" y1="1889.2" x2="1239.2" y2="1889.2" stroke="#000" stroke-width="8.6" stroke-linecap="butt"/>
<line x1="316.2" y1="1262.5" x2="342.0" y2="1262.5" stroke="#000" stroke-width="7.6" stroke-linecap="butt"/>
<text x="310.0" y="1277.7" font-size="47.5" font-weight="bold" text-anchor="end" >25</text>
<line x1="316.2" y1="1495.7" x2="342.0" y2="1495.7" stroke="#000" stroke-width="7.6" stroke-linecap="butt"/>
<text x="310.0" y="1510.9" font-size="47.5" font-weight="bold" text-anchor="end" >22</text>
<line x1="316.2" y1="1730.6" x2="342.0" y2="1730.6" stroke="#000" stroke-width="7.6" stroke-linecap="butt"/>
<text x="310.0" y="1745.8" font-size="47.5" font-weight="bold" text-anchor="end" >19</text>
<line x1="640.0" y1="1889.0" x2="640.0" y2="1914.2" stroke="#000" stroke-width="7.6" stroke-linecap="butt"/>
<text x="639.5" y="1960.2" font-size="47.5" font-weight="bold" text-anchor="middle" >5</text>
<line x1="937.7" y1="1889.0" x2="937.7" y2="1914.2" stroke="#000" stroke-width="7.6" stroke-linecap="butt"/>
<text x="937.2" y="1960.2" font-size="47.5" font-weight="bold" text-anchor="middle" >10</text>
<line x1="1235.4" y1="1889.0" x2="1235.4" y2="1914.2" stroke="#000" stroke-width="7.6" stroke-linecap="butt"/>
<text x="1234.9" y="1960.2" font-size="47.5" font-weight="bold" text-anchor="middle" >15</text>
<text x="788.0" y="2038.0" font-size="56" font-weight="bold" text-anchor="middle" >Time after treatment (Days)</text>
<text transform="translate(219.4,1566.2) rotate(-90) scale(0.953,1)" font-size="68" font-weight="bold" text-anchor="middle">Body Weight (g)</text>
<line x1="1367.3" y1="1266.5" x2="1431.3" y2="1266.5" stroke="#000000" stroke-width="4.8" stroke-linecap="butt"/>
<circle cx="1399.3" cy="1266.5" r="12.8" fill="#000000"/>
<text x="1467.5" y="1285.6" font-size="64.7" font-weight="normal" text-anchor="start" textLength="205" lengthAdjust="spacing">Vehicle</text>
<line x1="1367.3" y1="1346.0" x2="1431.3" y2="1346.0" stroke="#0000ff" stroke-width="4.8" stroke-linecap="butt"/>
<path d="M1399.3 1333.5 L1412.1 1358.0 L1386.5 1358.0 Z" fill="#0000ff"/>
<text x="1461.5" y="1366.1" font-size="64.7" font-weight="normal" text-anchor="start" >KAS-08</text>
<line x1="1367.3" y1="1425.5" x2="1431.3" y2="1425.5" stroke="#a6a6a9" stroke-width="4.8" stroke-linecap="butt"/>
<rect x="1386.5" y="1412.7" width="25.6" height="25.6" fill="#a6a6a9"/>
<text x="1463.8" y="1444.4" font-size="64.7" font-weight="normal" text-anchor="start" >cGAMP</text>
<line x1="1367.3" y1="1504.5" x2="1431.3" y2="1504.5" stroke="#ff0000" stroke-width="4.8" stroke-linecap="butt"/>
<path d="M1399.3 1517.0 L1412.1 1492.0 L1386.5 1492.0 Z" fill="#ff0000"/>
<text x="1465.5" y="1524.4" font-size="64.7" font-weight="normal" text-anchor="start" >cGAMP+KAS-08</text>
<path d="M1215.3 1511.5 H1240 M1215.3 1579.6 H1240" fill="none" stroke="#000" stroke-width="6"/>
<path d="M1238.7 1508.5 V1582.6" fill="none" stroke="#000" stroke-width="8"/>
<text x="1254.2" y="1561.5" font-size="54" font-weight="normal" text-anchor="start" textLength="47.5" lengthAdjust="spacingAndGlyphs" fill="#1c1c1c">ns</text>
<text x="49.8" y="1227.6" font-size="63" font-weight="normal" text-anchor="start" >b</text>
</g>
<g id="panel-c">
<g id="panel-c-labels" filter="url(#soft)">
<text x="49.5" y="2273.2" font-size="65" font-weight="normal" text-anchor="start" >c</text>
<text transform="translate(277.0,2317.7) scale(0.975,1)" font-size="59.5" font-weight="bold">Vehicle</text>
<text transform="translate(270.2,2665.5) scale(0.963,1)" font-size="59.5" font-weight="bold">KAS-08</text>
<text transform="translate(1307.4,2318.3) scale(0.955,1)" font-size="59.5" font-weight="bold">cGAMP</text>
<text transform="translate(1306.0,2662.4) scale(0.957,1)" font-size="59.5" font-weight="bold">KAS-08+cGAMP</text>
<line x1="2139.0" y1="2917.4" x2="2251.0" y2="2917.4" stroke="#000" stroke-width="6" stroke-linecap="butt"/>
<text x="2200.8" y="2981.0" font-size="52" font-weight="bold" text-anchor="middle" >1 cm</text>
</g>
<g clip-path="url(#pc1)">
<rect x="231" y="2358.3" width="996.5" height="206.19999999999982" fill="#a59c90"/>
<rect x="231" y="2358.3" width="996.5" height="206.19999999999982" fill="#a59c90" filter="url(#paper)" opacity="0.18"/>
<rect x="231" y="2359" width="260" height="206" fill="#6a6256" fill-opacity="0.15" filter="url(#b30)"/>
<rect x="231" y="2340" width="1000" height="40" fill="#6a6256" fill-opacity="0.15" filter="url(#b10)"/>
<path d="M245.9 2358.3V2564.5M256.4 2358.3V2564.5M266.8 2358.3V2564.5M277.3 2358.3V2564.5M298.1 2358.3V2564.5M308.6 2358.3V2564.5M319.0 2358.3V2564.5M329.5 2358.3V2564.5M350.4 2358.3V2564.5M360.8 2358.3V2564.5M371.2 2358.3V2564.5M381.7 2358.3V2564.5M402.6 2358.3V2564.5M413.0 2358.3V2564.5M423.5 2358.3V2564.5M433.9 2358.3V2564.5M454.8 2358.3V2564.5M465.2 2358.3V2564.5M475.7 2358.3V2564.5M486.1 2358.3V2564.5M507.0 2358.3V2564.5M517.4 2358.3V2564.5M527.9 2358.3V2564.5M538.3 2358.3V2564.5M559.2 2358.3V2564.5M569.6 2358.3V2564.5M580.1 2358.3V2564.5M590.5 2358.3V2564.5M611.4 2358.3V2564.5M621.9 2358.3V2564.5M632.3 2358.3V2564.5M642.7 2358.3V2564.5M663.6 2358.3V2564.5M674.1 2358.3V2564.5M684.5 2358.3V2564.5M695.0 2358.3V2564.5M715.8 2358.3V2564.5M726.3 2358.3V2564.5M736.7 2358.3V2564.5M747.2 2358.3V2564.5M768.1 2358.3V2564.5M778.5 2358.3V2564.5M788.9 2358.3V2564.5M799.4 2358.3V2564.5M820.3 2358.3V2564.5M830.7 2358.3V2564.5M841.2 2358.3V2564.5M851.6 2358.3V2564.5M872.5 2358.3V2564.5M882.9 2358.3V2564.5M893.4 2358.3V2564.5M903.8 2358.3V2564.5M924.7 2358.3V2564.5M935.1 2358.3V2564.5M945.6 2358.3V2564.5M956.0 2358.3V2564.5M976.9 2358.3V2564.5M987.3 2358.3V2564.5M997.8 2358.3V2564.5M1008.2 2358.3V2564.5M1029.1 2358.3V2564.5M1039.6 2358.3V2564.5M1050.0 2358.3V2564.5M1060.4 2358.3V2564.5M1081.3 2358.3V2564.5M1091.8 2358.3V2564.5M1102.2 2358.3V2564.5M1112.7 2358.3V2564.5M1133.5 2358.3V2564.5M1144.0 2358.3V2564.5M1154.4 2358.3V2564.5M1164.9 2358.3V2564.5M1185.8 2358.3V2564.5M1196.2 2358.3V2564.5M1206.6 2358.3V2564.5M1217.1 2358.3V2564.5M231.0 2360.5H1227.5M231.0 2370.9H1227.5M231.0 2381.3H1227.5M231.0 2391.6H1227.5M231.0 2412.4H1227.5M231.0 2422.7H1227.5M231.0 2433.1H1227.5M231.0 2443.5H1227.5M231.0 2464.2H1227.5M231.0 2474.6H1227.5M231.0 2485.0H1227.5M231.0 2495.4H1227.5M231.0 2516.1H1227.5M231.0 2526.5H1227.5M231.0 2536.9H1227.5M231.0 2547.2H1227.5" stroke="#786e62" stroke-opacity="0.13" stroke-width="1.5" fill="none" filter="url(#b1)"/>
<path d="M235.5 2358.3V2564.5M287.7 2358.3V2564.5M339.9 2358.3V2564.5M392.1 2358.3V2564.5M444.3 2358.3V2564.5M496.5 2358.3V2564.5M548.8 2358.3V2564.5M601.0 2358.3V2564.5M653.2 2358.3V2564.5M705.4 2358.3V2564.5M757.6 2358.3V2564.5M809.8 2358.3V2564.5M862.0 2358.3V2564.5M914.2 2358.3V2564.5M966.5 2358.3V2564.5M1018.7 2358.3V2564.5M1070.9 2358.3V2564.5M1123.1 2358.3V2564.5M1175.3 2358.3V2564.5M1227.5 2358.3V2564.5M231.0 2402.0H1227.5M231.0 2453.9H1227.5M231.0 2505.7H1227.5M231.0 2557.6H1227.5" stroke="#786e62" stroke-opacity="0.8" stroke-width="2.1" fill="none" filter="url(#b1)"/>
<path d="M275.0 2448.9C274.8 2440.5 277.8 2433.3 280.0 2427.3C282.3 2421.4 283.4 2417.8 288.6 2413.0C293.9 2408.2 303.2 2401.9 311.6 2398.6C320.0 2395.4 329.1 2393.6 338.9 2393.6C348.7 2393.6 362.1 2395.9 370.4 2398.6C378.8 2401.4 381.9 2407.5 389.1 2410.1C396.2 2412.8 404.6 2412.5 413.5 2414.4C422.3 2416.3 432.6 2419.2 442.1 2421.6C451.7 2424.0 463.2 2424.5 470.8 2428.8C478.5 2433.1 485.9 2441.2 488.1 2447.4C490.2 2453.6 487.1 2461.1 483.7 2466.1C480.4 2471.1 476.1 2474.4 468.0 2477.5C459.8 2480.7 446.4 2481.9 435.0 2484.7C423.5 2487.6 409.9 2491.2 399.1 2494.8C388.4 2498.4 380.5 2502.7 370.4 2506.2C360.4 2509.8 347.2 2514.4 338.9 2516.3C330.5 2518.2 326.9 2519.6 320.2 2517.7C313.5 2515.8 305.1 2511.5 298.7 2504.8C292.2 2498.1 285.4 2486.9 281.5 2477.5C277.5 2468.2 275.3 2457.2 275.0 2448.9Z" fill="#4a3c32" fill-opacity="0.3" filter="url(#b6)" transform="translate(3,2)"/>
<path d="M275.0 2448.9C274.8 2440.5 277.8 2433.3 280.0 2427.3C282.3 2421.4 283.4 2417.8 288.6 2413.0C293.9 2408.2 303.2 2401.9 311.6 2398.6C320.0 2395.4 329.1 2393.6 338.9 2393.6C348.7 2393.6 362.1 2395.9 370.4 2398.6C378.8 2401.4 381.9 2407.5 389.1 2410.1C396.2 2412.8 404.6 2412.5 413.5 2414.4C422.3 2416.3 432.6 2419.2 442.1 2421.6C451.7 2424.0 463.2 2424.5 470.8 2428.8C478.5 2433.1 485.9 2441.2 488.1 2447.4C490.2 2453.6 487.1 2461.1 483.7 2466.1C480.4 2471.1 476.1 2474.4 468.0 2477.5C459.8 2480.7 446.4 2481.9 435.0 2484.7C423.5 2487.6 409.9 2491.2 399.1 2494.8C388.4 2498.4 380.5 2502.7 370.4 2506.2C360.4 2509.8 347.2 2514.4 338.9 2516.3C330.5 2518.2 326.9 2519.6 320.2 2517.7C313.5 2515.8 305.1 2511.5 298.7 2504.8C292.2 2498.1 285.4 2486.9 281.5 2477.5C277.5 2468.2 275.3 2457.2 275.0 2448.9Z" fill="#c3b3a6" stroke="#c3b3a6" stroke-width="3" stroke-opacity="0.5" filter="url(#b2)"/>
<g filter="url(#tex)">
<path d="M275.0 2448.9C274.8 2440.5 277.8 2433.3 280.0 2427.3C282.3 2421.4 283.4 2417.8 288.6 2413.0C293.9 2408.2 303.2 2401.9 311.6 2398.6C320.0 2395.4 329.1 2393.6 338.9 2393.6C348.7 2393.6 362.1 2395.9 370.4 2398.6C378.8 2401.4 381.9 2407.5 389.1 2410.1C396.2 2412.8 404.6 2412.5 413.5 2414.4C422.3 2416.3 432.6 2419.2 442.1 2421.6C451.7 2424.0 463.2 2424.5 470.8 2428.8C478.5 2433.1 485.9 2441.2 488.1 2447.4C490.2 2453.6 487.1 2461.1 483.7 2466.1C480.4 2471.1 476.1 2474.4 468.0 2477.5C459.8 2480.7 446.4 2481.9 435.0 2484.7C423.5 2487.6 409.9 2491.2 399.1 2494.8C388.4 2498.4 380.5 2502.7 370.4 2506.2C360.4 2509.8 347.2 2514.4 338.9 2516.3C330.5 2518.2 326.9 2519.6 320.2 2517.7C313.5 2515.8 305.1 2511.5 298.7 2504.8C292.2 2498.1 285.4 2486.9 281.5 2477.5C277.5 2468.2 275.3 2457.2 275.0 2448.9Z" fill="#67271c"/>
<g clip-path="url(#tc2)">
<ellipse cx="334.6" cy="2434.5" rx="47.3" ry="35.9" fill="#46100d" fill-opacity="0.85" filter="url(#b10)"/>
<ellipse cx="442.1" cy="2451.7" rx="37.3" ry="24.4" fill="#823624" fill-opacity="0.85" filter="url(#b10)"/>
<ellipse cx="344.6" cy="2493.3" rx="43.0" ry="11.5" fill="#955140" fill-opacity="0.7" filter="url(#b6)"/>
<ellipse cx="393.4" cy="2466.1" rx="8.6" ry="17.2" fill="#400b09" fill-opacity="0.7" filter="url(#b4)"/>
<ellipse cx="305.9" cy="2460.3" rx="17.2" ry="23.0" fill="#733025" fill-opacity="0.6" filter="url(#b6)"/>
<ellipse cx="413.5" cy="2425.9" rx="21.5" ry="8.6" fill="#51100b" fill-opacity="0.6" filter="url(#b6)"/>
</g></g>
<path d="M532.2 2430.3C532.4 2424.8 534.7 2413.6 538.6 2408.7C542.6 2403.8 548.9 2401.3 555.9 2400.8C562.8 2400.4 572.8 2405.5 580.3 2405.9C587.7 2406.2 594.1 2405.1 600.3 2403.0C606.6 2400.8 610.6 2395.7 617.5 2393.0C624.5 2390.2 633.1 2387.0 641.9 2386.5C650.8 2386.0 661.8 2387.3 670.6 2390.1C679.5 2392.8 688.8 2397.3 695.0 2403.0C701.2 2408.7 705.1 2417.1 707.9 2424.5C710.8 2431.9 712.5 2439.3 712.2 2447.5C712.0 2455.6 709.8 2465.6 706.5 2473.3C703.1 2480.9 698.1 2487.6 692.1 2493.4C686.2 2499.1 678.3 2504.4 670.6 2507.7C663.0 2511.1 654.1 2513.2 646.2 2513.5C638.4 2513.7 630.0 2512.0 623.3 2509.2C616.6 2506.3 611.8 2501.3 606.1 2496.2C600.3 2491.2 594.1 2484.5 588.9 2479.0C583.6 2473.5 580.7 2467.5 574.5 2463.2C568.3 2458.9 557.8 2456.8 551.6 2453.2C545.3 2449.6 540.4 2445.6 537.2 2441.7C534.0 2437.9 532.0 2435.8 532.2 2430.3Z" fill="#4a3c32" fill-opacity="0.3" filter="url(#b6)" transform="translate(3,2)"/>
<path d="M532.2 2430.3C532.4 2424.8 534.7 2413.6 538.6 2408.7C542.6 2403.8 548.9 2401.3 555.9 2400.8C562.8 2400.4 572.8 2405.5 580.3 2405.9C587.7 2406.2 594.1 2405.1 600.3 2403.0C606.6 2400.8 610.6 2395.7 617.5 2393.0C624.5 2390.2 633.1 2387.0 641.9 2386.5C650.8 2386.0 661.8 2387.3 670.6 2390.1C679.5 2392.8 688.8 2397.3 695.0 2403.0C701.2 2408.7 705.1 2417.1 707.9 2424.5C710.8 2431.9 712.5 2439.3 712.2 2447.5C712.0 2455.6 709.8 2465.6 706.5 2473.3C703.1 2480.9 698.1 2487.6 692.1 2493.4C686.2 2499.1 678.3 2504.4 670.6 2507.7C663.0 2511.1 654.1 2513.2 646.2 2513.5C638.4 2513.7 630.0 2512.0 623.3 2509.2C616.6 2506.3 611.8 2501.3 606.1 2496.2C600.3 2491.2 594.1 2484.5 588.9 2479.0C583.6 2473.5 580.7 2467.5 574.5 2463.2C568.3 2458.9 557.8 2456.8 551.6 2453.2C545.3 2449.6 540.4 2445.6 537.2 2441.7C534.0 2437.9 532.0 2435.8 532.2 2430.3Z" fill="#c0ada0" stroke="#c0ada0" stroke-width="3" stroke-opacity="0.5" filter="url(#b2)"/>
<g filter="url(#tex)">
<path d="M532.2 2430.3C532.4 2424.8 534.7 2413.6 538.6 2408.7C542.6 2403.8 548.9 2401.3 555.9 2400.8C562.8 2400.4 572.8 2405.5 580.3 2405.9C587.7 2406.2 594.1 2405.1 600.3 2403.0C606.6 2400.8 610.6 2395.7 617.5 2393.0C624.5 2390.2 633.1 2387.0 641.9 2386.5C650.8 2386.0 661.8 2387.3 670.6 2390.1C679.5 2392.8 688.8 2397.3 695.0 2403.0C701.2 2408.7 705.1 2417.1 707.9 2424.5C710.8 2431.9 712.5 2439.3 712.2 2447.5C712.0 2455.6 709.8 2465.6 706.5 2473.3C703.1 2480.9 698.1 2487.6 692.1 2493.4C686.2 2499.1 678.3 2504.4 670.6 2507.7C663.0 2511.1 654.1 2513.2 646.2 2513.5C638.4 2513.7 630.0 2512.0 623.3 2509.2C616.6 2506.3 611.8 2501.3 606.1 2496.2C600.3 2491.2 594.1 2484.5 588.9 2479.0C583.6 2473.5 580.7 2467.5 574.5 2463.2C568.3 2458.9 557.8 2456.8 551.6 2453.2C545.3 2449.6 540.4 2445.6 537.2 2441.7C534.0 2437.9 532.0 2435.8 532.2 2430.3Z" fill="#bb9b8d"/>
<g clip-path="url(#tc3)">
<path d="M536.5 2430.3C536.7 2425.6 538.8 2416.6 542.2 2412.3C545.7 2408.0 551.0 2404.9 557.3 2404.4C563.6 2404.0 573.1 2409.1 580.3 2409.5C587.4 2409.8 593.9 2408.6 600.3 2406.6C606.8 2404.5 612.1 2399.7 619.0 2397.3C625.9 2394.8 633.6 2392.1 641.9 2391.8C650.3 2391.5 661.1 2392.8 669.2 2395.4C677.3 2398.0 685.0 2402.3 690.7 2407.6C696.4 2412.9 700.8 2420.7 703.3 2427.4C705.9 2434.0 706.7 2440.3 706.2 2447.5C705.7 2454.6 703.6 2463.8 700.5 2470.4C697.4 2477.1 692.8 2482.9 687.6 2487.3C682.3 2491.8 675.6 2494.9 669.2 2497.0C662.8 2499.0 655.8 2500.0 649.1 2499.8C642.4 2499.6 635.1 2497.8 629.0 2495.7C622.9 2493.5 618.1 2490.5 612.5 2486.9C606.9 2483.3 600.6 2478.5 595.3 2474.0C590.1 2469.5 587.4 2464.1 581.0 2460.1C574.5 2456.1 563.3 2453.3 556.6 2450.0C549.9 2446.7 544.1 2443.6 540.8 2440.3C537.5 2437.0 536.3 2434.9 536.5 2430.3Z" fill="#671711" fill-opacity="1" filter="url(#b2)"/>
<ellipse cx="620.4" cy="2431.7" rx="21.5" ry="28.7" fill="#2b0706" fill-opacity="0.85" filter="url(#b6)"/>
<ellipse cx="670.6" cy="2427.4" rx="23.0" ry="28.7" fill="#802d23" fill-opacity="0.75" filter="url(#b6)"/>
<ellipse cx="565.9" cy="2427.4" rx="24.4" ry="18.6" fill="#802d1f" fill-opacity="0.7" filter="url(#b6)"/>
<ellipse cx="656.3" cy="2479.0" rx="28.7" ry="14.3" fill="#73251a" fill-opacity="0.6" filter="url(#b6)"/>
<ellipse cx="624.0" cy="2444.6" rx="2.0" ry="5.7" fill="#d7b5a4" fill-opacity="0.8" filter="url(#b2)"/>
</g></g>
<path d="M774.3 2428.9C775.1 2423.4 779.6 2415.7 784.4 2410.2C789.2 2404.7 796.3 2400.2 803.0 2395.9C809.7 2391.6 817.4 2387.3 824.6 2384.4C831.7 2381.5 838.2 2380.4 846.1 2378.6C854.0 2376.9 863.5 2374.0 871.9 2373.6C880.3 2373.3 888.6 2374.5 896.3 2376.5C903.9 2378.5 911.1 2381.4 917.8 2385.8C924.5 2390.2 931.0 2396.8 936.4 2403.0C941.9 2409.3 946.7 2416.4 950.8 2423.1C954.9 2429.8 959.2 2436.5 960.8 2443.2C962.5 2449.9 962.3 2457.1 960.8 2463.3C959.4 2469.5 956.3 2475.0 952.2 2480.5C948.2 2486.0 942.7 2492.2 936.4 2496.3C930.2 2500.3 922.3 2503.0 914.9 2504.9C907.5 2506.8 899.2 2508.5 892.0 2507.8C884.8 2507.0 878.4 2504.2 871.9 2500.6C865.4 2497.0 859.2 2491.0 853.2 2486.2C847.3 2481.5 842.0 2475.7 836.0 2471.9C830.1 2468.1 824.1 2466.2 817.4 2463.3C810.7 2460.4 802.1 2458.0 795.9 2454.7C789.6 2451.3 783.7 2447.5 780.1 2443.2C776.5 2438.9 773.6 2434.4 774.3 2428.9Z" fill="#4a3c32" fill-opacity="0.3" filter="url(#b6)" transform="translate(3,2)"/>
<path d="M774.3 2428.9C775.1 2423.4 779.6 2415.7 784.4 2410.2C789.2 2404.7 796.3 2400.2 803.0 2395.9C809.7 2391.6 817.4 2387.3 824.6 2384.4C831.7 2381.5 838.2 2380.4 846.1 2378.6C854.0 2376.9 863.5 2374.0 871.9 2373.6C880.3 2373.3 888.6 2374.5 896.3 2376.5C903.9 2378.5 911.1 2381.4 917.8 2385.8C924.5 2390.2 931.0 2396.8 936.4 2403.0C941.9 2409.3 946.7 2416.4 950.8 2423.1C954.9 2429.8 959.2 2436.5 960.8 2443.2C962.5 2449.9 962.3 2457.1 960.8 2463.3C959.4 2469.5 956.3 2475.0 952.2 2480.5C948.2 2486.0 942.7 2492.2 936.4 2496.3C930.2 2500.3 922.3 2503.0 914.9 2504.9C907.5 2506.8 899.2 2508.5 892.0 2507.8C884.8 2507.0 878.4 2504.2 871.9 2500.6C865.4 2497.0 859.2 2491.0 853.2 2486.2C847.3 2481.5 842.0 2475.7 836.0 2471.9C830.1 2468.1 824.1 2466.2 817.4 2463.3C810.7 2460.4 802.1 2458.0 795.9 2454.7C789.6 2451.3 783.7 2447.5 780.1 2443.2C776.5 2438.9 773.6 2434.4 774.3 2428.9Z" fill="#c2b3a4" stroke="#c2b3a4" stroke-width="3" stroke-opacity="0.5" filter="url(#b2)"/>
<g filter="url(#tex)">
<path d="M774.3 2428.9C775.1 2423.4 779.6 2415.7 784.4 2410.2C789.2 2404.7 796.3 2400.2 803.0 2395.9C809.7 2391.6 817.4 2387.3 824.6 2384.4C831.7 2381.5 838.2 2380.4 846.1 2378.6C854.0 2376.9 863.5 2374.0 871.9 2373.6C880.3 2373.3 888.6 2374.5 896.3 2376.5C903.9 2378.5 911.1 2381.4 917.8 2385.8C924.5 2390.2 931.0 2396.8 936.4 2403.0C941.9 2409.3 946.7 2416.4 950.8 2423.1C954.9 2429.8 959.2 2436.5 960.8 2443.2C962.5 2449.9 962.3 2457.1 960.8 2463.3C959.4 2469.5 956.3 2475.0 952.2 2480.5C948.2 2486.0 942.7 2492.2 936.4 2496.3C930.2 2500.3 922.3 2503.0 914.9 2504.9C907.5 2506.8 899.2 2508.5 892.0 2507.8C884.8 2507.0 878.4 2504.2 871.9 2500.6C865.4 2497.0 859.2 2491.0 853.2 2486.2C847.3 2481.5 842.0 2475.7 836.0 2471.9C830.1 2468.1 824.1 2466.2 817.4 2463.3C810.7 2460.4 802.1 2458.0 795.9 2454.7C789.6 2451.3 783.7 2447.5 780.1 2443.2C776.5 2438.9 773.6 2434.4 774.3 2428.9Z" fill="#bcaf9d"/>
<g clip-path="url(#tc4)">
<path d="M780.1 2428.9C781.0 2424.1 784.4 2416.7 788.7 2411.6C793.0 2406.6 799.9 2402.8 805.9 2398.7C811.9 2394.7 817.9 2390.1 824.6 2387.3C831.2 2384.4 838.2 2383.3 846.1 2381.5C854.0 2379.7 863.8 2376.9 871.9 2376.5C880.0 2376.1 887.7 2377.3 894.8 2379.4C902.0 2381.4 909.0 2384.5 914.9 2388.7C920.9 2392.9 926.4 2398.5 930.7 2404.5C935.0 2410.4 938.6 2417.6 940.8 2424.6C943.0 2431.5 943.9 2438.9 943.9 2446.1C944.0 2453.2 943.4 2460.9 941.0 2467.6C938.7 2474.3 934.9 2481.6 930.0 2486.2C925.0 2490.9 917.3 2495.0 911.3 2495.6C905.4 2496.2 898.2 2493.3 894.1 2489.8C890.1 2486.4 891.0 2479.2 887.0 2474.8C882.9 2470.3 875.5 2466.2 869.7 2463.3C864.0 2460.4 858.7 2459.2 852.5 2457.3C846.3 2455.3 838.3 2452.7 832.4 2451.8C826.6 2450.9 823.2 2452.3 817.4 2451.8C811.5 2451.3 803.0 2450.9 797.3 2448.9C791.6 2447.0 785.8 2443.7 783.0 2440.3C780.1 2437.0 779.1 2433.6 780.1 2428.9Z" fill="#783021" fill-opacity="1" filter="url(#b2)"/>
<ellipse cx="910.6" cy="2393.0" rx="31.6" ry="15.8" fill="#5e1912" fill-opacity="0.8" filter="url(#b6)"/>
<ellipse cx="917.8" cy="2469.0" rx="12.9" ry="15.8" fill="#560b09" fill-opacity="0.85" filter="url(#b4)"/>
<ellipse cx="889.1" cy="2434.6" rx="28.7" ry="23.0" fill="#864530" fill-opacity="0.7" filter="url(#b10)"/>
<ellipse cx="807.3" cy="2428.9" rx="24.4" ry="17.2" fill="#803625" fill-opacity="0.6" filter="url(#b6)"/>
<ellipse cx="879.1" cy="2477.6" rx="3.7" ry="8.6" fill="#ecd6c4" fill-opacity="0.9" filter="url(#b2)"/>
<ellipse cx="840.3" cy="2469.0" rx="21.5" ry="7.2" fill="#cfb7a4" fill-opacity="0.6" filter="url(#b4)"/>
</g></g>
<path d="M1028.0 2434.6C1028.2 2427.6 1029.8 2422.6 1033.0 2417.3C1036.2 2412.1 1041.4 2407.1 1047.3 2403.0C1053.3 2398.9 1061.2 2395.6 1068.9 2393.0C1076.5 2390.3 1085.6 2388.4 1093.2 2387.2C1100.9 2386.0 1109.3 2385.3 1114.8 2385.8C1120.3 2386.3 1123.1 2387.2 1126.2 2390.1C1129.3 2393.0 1131.3 2398.7 1133.4 2403.0C1135.6 2407.3 1136.3 2413.8 1139.2 2415.9C1142.0 2418.1 1147.5 2417.3 1150.6 2415.9C1153.7 2414.5 1154.7 2408.5 1157.8 2407.3C1160.9 2406.1 1165.7 2406.6 1169.3 2408.7C1172.9 2410.9 1175.7 2415.9 1179.3 2420.2C1182.9 2424.5 1187.7 2429.5 1190.8 2434.6C1193.9 2439.6 1197.0 2444.8 1198.0 2450.3C1198.9 2455.8 1197.7 2461.8 1196.5 2467.5C1195.3 2473.3 1192.9 2479.5 1190.8 2484.8C1188.6 2490.0 1186.7 2494.3 1183.6 2499.1C1180.5 2503.9 1176.9 2510.1 1172.1 2513.5C1167.4 2516.8 1162.1 2517.8 1154.9 2519.2C1147.8 2520.6 1137.0 2521.6 1129.1 2522.1C1121.2 2522.5 1114.3 2521.3 1107.6 2522.1C1100.9 2522.8 1094.9 2525.4 1088.9 2526.4C1083.0 2527.3 1077.0 2529.0 1071.7 2527.8C1066.5 2526.6 1061.7 2523.5 1057.4 2519.2C1053.1 2514.9 1049.0 2508.2 1045.9 2502.0C1042.8 2495.8 1041.1 2489.1 1038.7 2481.9C1036.3 2474.7 1033.4 2466.8 1031.6 2458.9C1029.8 2451.1 1027.7 2441.5 1028.0 2434.6Z" fill="#4a3c32" fill-opacity="0.3" filter="url(#b6)" transform="translate(3,2)"/>
<path d="M1028.0 2434.6C1028.2 2427.6 1029.8 2422.6 1033.0 2417.3C1036.2 2412.1 1041.4 2407.1 1047.3 2403.0C1053.3 2398.9 1061.2 2395.6 1068.9 2393.0C1076.5 2390.3 1085.6 2388.4 1093.2 2387.2C1100.9 2386.0 1109.3 2385.3 1114.8 2385.8C1120.3 2386.3 1123.1 2387.2 1126.2 2390.1C1129.3 2393.0 1131.3 2398.7 1133.4 2403.0C1135.6 2407.3 1136.3 2413.8 1139.2 2415.9C1142.0 2418.1 1147.5 2417.3 1150.6 2415.9C1153.7 2414.5 1154.7 2408.5 1157.8 2407.3C1160.9 2406.1 1165.7 2406.6 1169.3 2408.7C1172.9 2410.9 1175.7 2415.9 1179.3 2420.2C1182.9 2424.5 1187.7 2429.5 1190.8 2434.6C1193.9 2439.6 1197.0 2444.8 1198.0 2450.3C1198.9 2455.8 1197.7 2461.8 1196.5 2467.5C1195.3 2473.3 1192.9 2479.5 1190.8 2484.8C1188.6 2490.0 1186.7 2494.3 1183.6 2499.1C1180.5 2503.9 1176.9 2510.1 1172.1 2513.5C1167.4 2516.8 1162.1 2517.8 1154.9 2519.2C1147.8 2520.6 1137.0 2521.6 1129.1 2522.1C1121.2 2522.5 1114.3 2521.3 1107.6 2522.1C1100.9 2522.8 1094.9 2525.4 1088.9 2526.4C1083.0 2527.3 1077.0 2529.0 1071.7 2527.8C1066.5 2526.6 1061.7 2523.5 1057.4 2519.2C1053.1 2514.9 1049.0 2508.2 1045.9 2502.0C1042.8 2495.8 1041.1 2489.1 1038.7 2481.9C1036.3 2474.7 1033.4 2466.8 1031.6 2458.9C1029.8 2451.1 1027.7 2441.5 1028.0 2434.6Z" fill="#bead9e" stroke="#bead9e" stroke-width="3" stroke-opacity="0.5" filter="url(#b2)"/>
<g filter="url(#tex)">
<path d="M1028.0 2434.6C1028.2 2427.6 1029.8 2422.6 1033.0 2417.3C1036.2 2412.1 1041.4 2407.1 1047.3 2403.0C1053.3 2398.9 1061.2 2395.6 1068.9 2393.0C1076.5 2390.3 1085.6 2388.4 1093.2 2387.2C1100.9 2386.0 1109.3 2385.3 1114.8 2385.8C1120.3 2386.3 1123.1 2387.2 1126.2 2390.1C1129.3 2393.0 1131.3 2398.7 1133.4 2403.0C1135.6 2407.3 1136.3 2413.8 1139.2 2415.9C1142.0 2418.1 1147.5 2417.3 1150.6 2415.9C1153.7 2414.5 1154.7 2408.5 1157.8 2407.3C1160.9 2406.1 1165.7 2406.6 1169.3 2408.7C1172.9 2410.9 1175.7 2415.9 1179.3 2420.2C1182.9 2424.5 1187.7 2429.5 1190.8 2434.6C1193.9 2439.6 1197.0 2444.8 1198.0 2450.3C1198.9 2455.8 1197.7 2461.8 1196.5 2467.5C1195.3 2473.3 1192.9 2479.5 1190.8 2484.8C1188.6 2490.0 1186.7 2494.3 1183.6 2499.1C1180.5 2503.9 1176.9 2510.1 1172.1 2513.5C1167.4 2516.8 1162.1 2517.8 1154.9 2519.2C1147.8 2520.6 1137.0 2521.6 1129.1 2522.1C1121.2 2522.5 1114.3 2521.3 1107.6 2522.1C1100.9 2522.8 1094.9 2525.4 1088.9 2526.4C1083.0 2527.3 1077.0 2529.0 1071.7 2527.8C1066.5 2526.6 1061.7 2523.5 1057.4 2519.2C1053.1 2514.9 1049.0 2508.2 1045.9 2502.0C1042.8 2495.8 1041.1 2489.1 1038.7 2481.9C1036.3 2474.7 1033.4 2466.8 1031.6 2458.9C1029.8 2451.1 1027.7 2441.5 1028.0 2434.6Z" fill="#904735"/>
<g clip-path="url(#tc5)">
<ellipse cx="1093.2" cy="2403.0" rx="43.0" ry="12.9" fill="#712418" fill-opacity="0.8" filter="url(#b6)"/>
<ellipse cx="1068.9" cy="2473.3" rx="28.7" ry="37.3" fill="#a85f4b" fill-opacity="0.8" filter="url(#b10)"/>
<ellipse cx="1165.0" cy="2456.1" rx="25.8" ry="45.9" fill="#843a29" fill-opacity="0.8" filter="url(#b10)"/>
<ellipse cx="1097.5" cy="2476.2" rx="5.7" ry="21.5" fill="#951a14" fill-opacity="0.7" filter="url(#b2)" transform="rotate(-40 1097.5 2476.2)"/>
<ellipse cx="1129.1" cy="2427.4" rx="8.6" ry="23.0" fill="#732116" fill-opacity="0.6" filter="url(#b4)"/>
<ellipse cx="1081.8" cy="2490.5" rx="3.2" ry="3.2" fill="#f0d8c8" fill-opacity="0.9" filter="url(#b2)"/>
<ellipse cx="1114.8" cy="2524.2" rx="43.0" ry="3.6" fill="#cab3a0" fill-opacity="0.8" filter="url(#b3)"/>
<ellipse cx="1040.2" cy="2441.7" rx="8.6" ry="28.7" fill="#823023" fill-opacity="0.6" filter="url(#b4)"/>
</g></g>
</g>
<g clip-path="url(#pc6)">
<rect x="225" y="2690" width="1003" height="206" fill="#a69d91"/>
<rect x="225" y="2690" width="1003" height="206" fill="#a69d91" filter="url(#paper)" opacity="0.18"/>
<path d="M244.0 2690.0V2896.0M254.6 2690.0V2896.0M265.2 2690.0V2896.0M275.8 2690.0V2896.0M297.0 2690.0V2896.0M307.6 2690.0V2896.0M318.2 2690.0V2896.0M328.8 2690.0V2896.0M350.0 2690.0V2896.0M360.6 2690.0V2896.0M371.2 2690.0V2896.0M381.8 2690.0V2896.0M403.0 2690.0V2896.0M413.6 2690.0V2896.0M424.2 2690.0V2896.0M434.8 2690.0V2896.0M456.0 2690.0V2896.0M466.6 2690.0V2896.0M477.2 2690.0V2896.0M487.8 2690.0V2896.0M509.1 2690.0V2896.0M519.7 2690.0V2896.0M530.3 2690.0V2896.0M540.9 2690.0V2896.0M562.1 2690.0V2896.0M572.7 2690.0V2896.0M583.3 2690.0V2896.0M593.9 2690.0V2896.0M615.1 2690.0V2896.0M625.7 2690.0V2896.0M636.3 2690.0V2896.0M646.9 2690.0V2896.0M668.1 2690.0V2896.0M678.7 2690.0V2896.0M689.3 2690.0V2896.0M699.9 2690.0V2896.0M721.1 2690.0V2896.0M731.7 2690.0V2896.0M742.3 2690.0V2896.0M752.9 2690.0V2896.0M774.1 2690.0V2896.0M784.7 2690.0V2896.0M795.3 2690.0V2896.0M805.9 2690.0V2896.0M827.1 2690.0V2896.0M837.7 2690.0V2896.0M848.3 2690.0V2896.0M858.9 2690.0V2896.0M880.1 2690.0V2896.0M890.7 2690.0V2896.0M901.3 2690.0V2896.0M911.9 2690.0V2896.0M933.2 2690.0V2896.0M943.8 2690.0V2896.0M954.4 2690.0V2896.0M965.0 2690.0V2896.0M986.2 2690.0V2896.0M996.8 2690.0V2896.0M1007.4 2690.0V2896.0M1018.0 2690.0V2896.0M1039.2 2690.0V2896.0M1049.8 2690.0V2896.0M1060.4 2690.0V2896.0M1071.0 2690.0V2896.0M1092.2 2690.0V2896.0M1102.8 2690.0V2896.0M1113.4 2690.0V2896.0M1124.0 2690.0V2896.0M1145.2 2690.0V2896.0M1155.8 2690.0V2896.0M1166.4 2690.0V2896.0M1177.0 2690.0V2896.0M1198.2 2690.0V2896.0M1208.8 2690.0V2896.0M1219.4 2690.0V2896.0M225.0 2698.9H1228.0M225.0 2709.1H1228.0M225.0 2719.3H1228.0M225.0 2729.5H1228.0M225.0 2749.9H1228.0M225.0 2760.1H1228.0M225.0 2770.3H1228.0M225.0 2780.5H1228.0M225.0 2800.9H1228.0M225.0 2811.1H1228.0M225.0 2821.2H1228.0M225.0 2831.4H1228.0M225.0 2851.8H1228.0M225.0 2862.0H1228.0M225.0 2872.2H1228.0M225.0 2882.4H1228.0" stroke="#786e62" stroke-opacity="0.13" stroke-width="1.5" fill="none" filter="url(#b1)"/>
<path d="M233.4 2690.0V2896.0M286.4 2690.0V2896.0M339.4 2690.0V2896.0M392.4 2690.0V2896.0M445.4 2690.0V2896.0M498.4 2690.0V2896.0M551.5 2690.0V2896.0M604.5 2690.0V2896.0M657.5 2690.0V2896.0M710.5 2690.0V2896.0M763.5 2690.0V2896.0M816.5 2690.0V2896.0M869.5 2690.0V2896.0M922.6 2690.0V2896.0M975.6 2690.0V2896.0M1028.6 2690.0V2896.0M1081.6 2690.0V2896.0M1134.6 2690.0V2896.0M1187.6 2690.0V2896.0M225.0 2688.7H1228.0M225.0 2739.7H1228.0M225.0 2790.7H1228.0M225.0 2841.6H1228.0M225.0 2892.6H1228.0" stroke="#786e62" stroke-opacity="0.8" stroke-width="2.1" fill="none" filter="url(#b1)"/>
<path d="M301.5 2787.5C302.0 2782.7 305.8 2777.9 310.1 2773.1C314.4 2768.3 321.4 2763.3 327.3 2758.8C333.3 2754.2 339.5 2749.9 346.0 2745.9C352.4 2741.8 358.9 2737.0 366.1 2734.4C373.2 2731.8 381.4 2730.1 389.0 2730.1C396.7 2730.1 404.6 2732.0 412.0 2734.4C419.4 2736.8 426.8 2740.4 433.5 2744.4C440.2 2748.5 446.9 2753.3 452.1 2758.8C457.4 2764.3 462.2 2771.4 465.1 2777.4C467.9 2783.4 469.8 2788.7 469.4 2794.6C468.9 2800.6 465.5 2807.5 462.2 2813.3C458.8 2819.0 454.8 2824.5 449.3 2829.1C443.8 2833.6 436.4 2837.7 429.2 2840.5C422.0 2843.4 413.9 2845.6 406.2 2846.3C398.6 2847.0 390.9 2846.3 383.3 2844.8C375.6 2843.4 367.5 2840.5 360.3 2837.7C353.2 2834.8 346.7 2831.5 340.3 2827.6C333.8 2823.8 327.1 2819.0 321.6 2814.7C316.1 2810.4 310.6 2806.4 307.3 2801.8C303.9 2797.3 301.0 2792.2 301.5 2787.5Z" fill="#4a3c32" fill-opacity="0.3" filter="url(#b6)" transform="translate(3,2)"/>
<path d="M301.5 2787.5C302.0 2782.7 305.8 2777.9 310.1 2773.1C314.4 2768.3 321.4 2763.3 327.3 2758.8C333.3 2754.2 339.5 2749.9 346.0 2745.9C352.4 2741.8 358.9 2737.0 366.1 2734.4C373.2 2731.8 381.4 2730.1 389.0 2730.1C396.7 2730.1 404.6 2732.0 412.0 2734.4C419.4 2736.8 426.8 2740.4 433.5 2744.4C440.2 2748.5 446.9 2753.3 452.1 2758.8C457.4 2764.3 462.2 2771.4 465.1 2777.4C467.9 2783.4 469.8 2788.7 469.4 2794.6C468.9 2800.6 465.5 2807.5 462.2 2813.3C458.8 2819.0 454.8 2824.5 449.3 2829.1C443.8 2833.6 436.4 2837.7 429.2 2840.5C422.0 2843.4 413.9 2845.6 406.2 2846.3C398.6 2847.0 390.9 2846.3 383.3 2844.8C375.6 2843.4 367.5 2840.5 360.3 2837.7C353.2 2834.8 346.7 2831.5 340.3 2827.6C333.8 2823.8 327.1 2819.0 321.6 2814.7C316.1 2810.4 310.6 2806.4 307.3 2801.8C303.9 2797.3 301.0 2792.2 301.5 2787.5Z" fill="#c3b3a6" stroke="#c3b3a6" stroke-width="3" stroke-opacity="0.5" filter="url(#b2)"/>
<g filter="url(#tex)">
<path d="M301.5 2787.5C302.0 2782.7 305.8 2777.9 310.1 2773.1C314.4 2768.3 321.4 2763.3 327.3 2758.8C333.3 2754.2 339.5 2749.9 346.0 2745.9C352.4 2741.8 358.9 2737.0 366.1 2734.4C373.2 2731.8 381.4 2730.1 389.0 2730.1C396.7 2730.1 404.6 2732.0 412.0 2734.4C419.4 2736.8 426.8 2740.4 433.5 2744.4C440.2 2748.5 446.9 2753.3 452.1 2758.8C457.4 2764.3 462.2 2771.4 465.1 2777.4C467.9 2783.4 469.8 2788.7 469.4 2794.6C468.9 2800.6 465.5 2807.5 462.2 2813.3C458.8 2819.0 454.8 2824.5 449.3 2829.1C443.8 2833.6 436.4 2837.7 429.2 2840.5C422.0 2843.4 413.9 2845.6 406.2 2846.3C398.6 2847.0 390.9 2846.3 383.3 2844.8C375.6 2843.4 367.5 2840.5 360.3 2837.7C353.2 2834.8 346.7 2831.5 340.3 2827.6C333.8 2823.8 327.1 2819.0 321.6 2814.7C316.1 2810.4 310.6 2806.4 307.3 2801.8C303.9 2797.3 301.0 2792.2 301.5 2787.5Z" fill="#74271f"/>
<g clip-path="url(#tc7)">
<ellipse cx="389.0" cy="2747.3" rx="37.3" ry="15.8" fill="#5a120e" fill-opacity="0.85" filter="url(#b6)"/>
<ellipse cx="406.2" cy="2796.1" rx="37.3" ry="28.7" fill="#894338" fill-opacity="0.75" filter="url(#b10)"/>
<ellipse cx="327.3" cy="2790.3" rx="20.1" ry="28.7" fill="#601a14" fill-opacity="0.7" filter="url(#b6)"/>
<ellipse cx="373.2" cy="2790.3" rx="11.5" ry="8.6" fill="#5a1210" fill-opacity="0.6" filter="url(#b4)"/>
<ellipse cx="456.4" cy="2796.1" rx="10.0" ry="23.0" fill="#621610" fill-opacity="0.6" filter="url(#b4)"/>
</g></g>
<path d="M538.0 2787.5C538.0 2781.7 539.1 2774.1 541.6 2767.4C544.1 2760.7 548.1 2752.8 553.1 2747.3C558.1 2741.8 565.0 2737.3 571.7 2734.4C578.4 2731.5 586.3 2729.8 593.2 2730.1C600.2 2730.3 607.8 2733.0 613.3 2735.8C618.8 2738.7 622.2 2743.7 626.2 2747.3C630.3 2750.9 633.9 2753.5 637.7 2757.3C641.5 2761.2 645.8 2766.7 649.2 2770.3C652.5 2773.8 654.7 2776.2 657.8 2778.9C660.9 2781.5 666.9 2782.7 667.8 2786.0C668.8 2789.4 665.7 2794.4 663.5 2798.9C661.4 2803.5 658.3 2808.7 654.9 2813.3C651.6 2817.8 648.5 2822.4 643.5 2826.2C638.4 2830.0 631.3 2833.8 624.8 2836.2C618.4 2838.6 611.4 2840.3 604.7 2840.5C598.0 2840.8 591.1 2839.6 584.6 2837.7C578.2 2835.8 571.7 2832.9 566.0 2829.1C560.3 2825.2 554.3 2819.3 550.2 2814.7C546.1 2810.2 543.6 2806.4 541.6 2801.8C539.6 2797.3 538.0 2793.2 538.0 2787.5Z" fill="#4a3c32" fill-opacity="0.3" filter="url(#b6)" transform="translate(3,2)"/>
<path d="M538.0 2787.5C538.0 2781.7 539.1 2774.1 541.6 2767.4C544.1 2760.7 548.1 2752.8 553.1 2747.3C558.1 2741.8 565.0 2737.3 571.7 2734.4C578.4 2731.5 586.3 2729.8 593.2 2730.1C600.2 2730.3 607.8 2733.0 613.3 2735.8C618.8 2738.7 622.2 2743.7 626.2 2747.3C630.3 2750.9 633.9 2753.5 637.7 2757.3C641.5 2761.2 645.8 2766.7 649.2 2770.3C652.5 2773.8 654.7 2776.2 657.8 2778.9C660.9 2781.5 666.9 2782.7 667.8 2786.0C668.8 2789.4 665.7 2794.4 663.5 2798.9C661.4 2803.5 658.3 2808.7 654.9 2813.3C651.6 2817.8 648.5 2822.4 643.5 2826.2C638.4 2830.0 631.3 2833.8 624.8 2836.2C618.4 2838.6 611.4 2840.3 604.7 2840.5C598.0 2840.8 591.1 2839.6 584.6 2837.7C578.2 2835.8 571.7 2832.9 566.0 2829.1C560.3 2825.2 554.3 2819.3 550.2 2814.7C546.1 2810.2 543.6 2806.4 541.6 2801.8C539.6 2797.3 538.0 2793.2 538.0 2787.5Z" fill="#c2afa0" stroke="#c2afa0" stroke-width="3" stroke-opacity="0.5" filter="url(#b2)"/>
<g filter="url(#tex)">
<path d="M538.0 2787.5C538.0 2781.7 539.1 2774.1 541.6 2767.4C544.1 2760.7 548.1 2752.8 553.1 2747.3C558.1 2741.8 565.0 2737.3 571.7 2734.4C578.4 2731.5 586.3 2729.8 593.2 2730.1C600.2 2730.3 607.8 2733.0 613.3 2735.8C618.8 2738.7 622.2 2743.7 626.2 2747.3C630.3 2750.9 633.9 2753.5 637.7 2757.3C641.5 2761.2 645.8 2766.7 649.2 2770.3C652.5 2773.8 654.7 2776.2 657.8 2778.9C660.9 2781.5 666.9 2782.7 667.8 2786.0C668.8 2789.4 665.7 2794.4 663.5 2798.9C661.4 2803.5 658.3 2808.7 654.9 2813.3C651.6 2817.8 648.5 2822.4 643.5 2826.2C638.4 2830.0 631.3 2833.8 624.8 2836.2C618.4 2838.6 611.4 2840.3 604.7 2840.5C598.0 2840.8 591.1 2839.6 584.6 2837.7C578.2 2835.8 571.7 2832.9 566.0 2829.1C560.3 2825.2 554.3 2819.3 550.2 2814.7C546.1 2810.2 543.6 2806.4 541.6 2801.8C539.6 2797.3 538.0 2793.2 538.0 2787.5Z" fill="#904025"/>
<g clip-path="url(#tc8)">
<ellipse cx="587.5" cy="2753.0" rx="24.4" ry="18.6" fill="#7e2114" fill-opacity="0.8" filter="url(#b6)"/>
<ellipse cx="617.6" cy="2757.3" rx="10.0" ry="11.5" fill="#be8973" fill-opacity="0.8" filter="url(#b4)"/>
<ellipse cx="629.1" cy="2801.8" rx="18.6" ry="28.7" fill="#842b18" fill-opacity="0.6" filter="url(#b6)"/>
<ellipse cx="580.3" cy="2801.8" rx="28.7" ry="25.8" fill="#954d2b" fill-opacity="0.6" filter="url(#b10)"/>
<ellipse cx="663.5" cy="2788.2" rx="5.7" ry="10.0" fill="#baa08f" fill-opacity="0.85" filter="url(#b3)"/>
<ellipse cx="567.4" cy="2798.9" rx="3.2" ry="3.2" fill="#e8b597" fill-opacity="0.8" filter="url(#b2)"/>
<ellipse cx="570.3" cy="2823.3" rx="3.7" ry="2.9" fill="#d79a82" fill-opacity="0.7" filter="url(#b2)"/>
</g></g>
<path d="M757.2 2780.3C757.5 2774.6 758.9 2766.7 761.5 2760.3C764.1 2753.8 768.2 2747.6 773.0 2741.6C777.8 2735.6 784.2 2728.7 790.2 2724.4C796.2 2720.1 801.7 2717.6 808.9 2715.8C816.0 2714.0 824.4 2713.9 833.2 2713.6C842.1 2713.4 853.1 2713.5 861.9 2714.3C870.8 2715.2 878.4 2716.7 886.3 2718.6C894.2 2720.6 902.1 2722.7 909.3 2725.8C916.4 2728.9 923.4 2732.8 929.4 2737.3C935.3 2741.8 940.8 2747.6 945.1 2753.1C949.4 2758.6 953.0 2764.8 955.2 2770.3C957.3 2775.8 958.5 2780.1 958.1 2786.1C957.6 2792.1 955.2 2799.9 952.3 2806.2C949.4 2812.4 945.6 2818.6 940.8 2823.4C936.1 2828.2 930.3 2832.0 923.6 2834.8C916.9 2837.7 907.8 2839.9 900.7 2840.6C893.5 2841.3 886.6 2840.8 880.6 2839.2C874.6 2837.5 870.1 2833.2 864.8 2830.5C859.5 2827.9 854.5 2824.1 849.0 2823.4C843.5 2822.7 837.5 2824.6 831.8 2826.2C826.1 2827.9 820.3 2832.2 814.6 2833.4C808.9 2834.6 802.9 2835.1 797.4 2833.4C791.9 2831.7 786.6 2827.4 781.6 2823.4C776.6 2819.3 770.8 2813.8 767.3 2809.0C763.7 2804.2 761.8 2799.5 760.1 2794.7C758.4 2789.9 757.0 2786.1 757.2 2780.3Z" fill="#4a3c32" fill-opacity="0.3" filter="url(#b6)" transform="translate(3,2)"/>
<path d="M757.2 2780.3C757.5 2774.6 758.9 2766.7 761.5 2760.3C764.1 2753.8 768.2 2747.6 773.0 2741.6C777.8 2735.6 784.2 2728.7 790.2 2724.4C796.2 2720.1 801.7 2717.6 808.9 2715.8C816.0 2714.0 824.4 2713.9 833.2 2713.6C842.1 2713.4 853.1 2713.5 861.9 2714.3C870.8 2715.2 878.4 2716.7 886.3 2718.6C894.2 2720.6 902.1 2722.7 909.3 2725.8C916.4 2728.9 923.4 2732.8 929.4 2737.3C935.3 2741.8 940.8 2747.6 945.1 2753.1C949.4 2758.6 953.0 2764.8 955.2 2770.3C957.3 2775.8 958.5 2780.1 958.1 2786.1C957.6 2792.1 955.2 2799.9 952.3 2806.2C949.4 2812.4 945.6 2818.6 940.8 2823.4C936.1 2828.2 930.3 2832.0 923.6 2834.8C916.9 2837.7 907.8 2839.9 900.7 2840.6C893.5 2841.3 886.6 2840.8 880.6 2839.2C874.6 2837.5 870.1 2833.2 864.8 2830.5C859.5 2827.9 854.5 2824.1 849.0 2823.4C843.5 2822.7 837.5 2824.6 831.8 2826.2C826.1 2827.9 820.3 2832.2 814.6 2833.4C808.9 2834.6 802.9 2835.1 797.4 2833.4C791.9 2831.7 786.6 2827.4 781.6 2823.4C776.6 2819.3 770.8 2813.8 767.3 2809.0C763.7 2804.2 761.8 2799.5 760.1 2794.7C758.4 2789.9 757.0 2786.1 757.2 2780.3Z" fill="#c3b3a6" stroke="#c3b3a6" stroke-width="3" stroke-opacity="0.5" filter="url(#b2)"/>
<g filter="url(#tex)">
<path d="M757.2 2780.3C757.5 2774.6 758.9 2766.7 761.5 2760.3C764.1 2753.8 768.2 2747.6 773.0 2741.6C777.8 2735.6 784.2 2728.7 790.2 2724.4C796.2 2720.1 801.7 2717.6 808.9 2715.8C816.0 2714.0 824.4 2713.9 833.2 2713.6C842.1 2713.4 853.1 2713.5 861.9 2714.3C870.8 2715.2 878.4 2716.7 886.3 2718.6C894.2 2720.6 902.1 2722.7 909.3 2725.8C916.4 2728.9 923.4 2732.8 929.4 2737.3C935.3 2741.8 940.8 2747.6 945.1 2753.1C949.4 2758.6 953.0 2764.8 955.2 2770.3C957.3 2775.8 958.5 2780.1 958.1 2786.1C957.6 2792.1 955.2 2799.9 952.3 2806.2C949.4 2812.4 945.6 2818.6 940.8 2823.4C936.1 2828.2 930.3 2832.0 923.6 2834.8C916.9 2837.7 907.8 2839.9 900.7 2840.6C893.5 2841.3 886.6 2840.8 880.6 2839.2C874.6 2837.5 870.1 2833.2 864.8 2830.5C859.5 2827.9 854.5 2824.1 849.0 2823.4C843.5 2822.7 837.5 2824.6 831.8 2826.2C826.1 2827.9 820.3 2832.2 814.6 2833.4C808.9 2834.6 802.9 2835.1 797.4 2833.4C791.9 2831.7 786.6 2827.4 781.6 2823.4C776.6 2819.3 770.8 2813.8 767.3 2809.0C763.7 2804.2 761.8 2799.5 760.1 2794.7C758.4 2789.9 757.0 2786.1 757.2 2780.3Z" fill="#812d23"/>
<g clip-path="url(#tc9)">
<ellipse cx="833.2" cy="2763.1" rx="28.7" ry="25.8" fill="#5a0e0b" fill-opacity="0.85" filter="url(#b6)"/>
<ellipse cx="892.1" cy="2768.9" rx="28.7" ry="17.2" fill="#955443" fill-opacity="0.8" filter="url(#b6)"/>
<ellipse cx="803.1" cy="2827.7" rx="15.8" ry="8.6" fill="#3c0908" fill-opacity="0.85" filter="url(#b4)"/>
<ellipse cx="785.9" cy="2791.8" rx="23.0" ry="23.0" fill="#954334" fill-opacity="0.6" filter="url(#b6)"/>
<ellipse cx="883.5" cy="2725.8" rx="43.0" ry="10.0" fill="#671610" fill-opacity="0.7" filter="url(#b6)"/>
<ellipse cx="926.5" cy="2800.4" rx="21.5" ry="23.0" fill="#8d3a2d" fill-opacity="0.6" filter="url(#b6)"/>
<ellipse cx="869.1" cy="2811.9" rx="28.7" ry="14.3" fill="#89362b" fill-opacity="0.5" filter="url(#b6)"/>
</g></g>
<path d="M1026.5 2788.9C1026.4 2782.6 1026.4 2774.0 1028.0 2767.3C1029.5 2760.6 1032.4 2753.2 1035.9 2748.7C1039.3 2744.1 1044.5 2741.0 1048.8 2740.1C1053.1 2739.1 1057.9 2740.6 1061.7 2743.0C1065.5 2745.3 1068.1 2751.1 1071.7 2754.4C1075.3 2757.8 1078.9 2761.8 1083.2 2763.0C1087.5 2764.2 1093.2 2763.5 1097.5 2761.6C1101.9 2759.7 1105.0 2754.7 1109.0 2751.6C1113.1 2748.5 1117.4 2743.9 1121.9 2743.0C1126.5 2742.0 1131.7 2743.2 1136.3 2745.8C1140.8 2748.5 1145.4 2753.5 1149.2 2758.7C1153.0 2764.0 1156.4 2771.2 1159.2 2777.4C1162.1 2783.6 1165.0 2790.3 1166.4 2796.0C1167.8 2801.8 1168.8 2807.3 1167.8 2811.8C1166.9 2816.4 1163.3 2819.7 1160.7 2823.3C1158.0 2826.9 1154.7 2830.0 1152.1 2833.3C1149.4 2836.7 1148.0 2840.5 1144.9 2843.4C1141.8 2846.2 1138.4 2848.9 1133.4 2850.5C1128.4 2852.2 1121.0 2853.2 1114.8 2853.4C1108.5 2853.7 1102.3 2852.2 1096.1 2852.0C1089.9 2851.7 1083.0 2853.2 1077.5 2852.0C1072.0 2850.8 1067.7 2848.2 1063.1 2844.8C1058.6 2841.5 1054.5 2836.2 1050.2 2831.9C1045.9 2827.6 1040.9 2823.5 1037.3 2819.0C1033.7 2814.4 1030.5 2809.7 1028.7 2804.6C1026.9 2799.6 1026.7 2795.1 1026.5 2788.9Z" fill="#4a3c32" fill-opacity="0.3" filter="url(#b6)" transform="translate(3,2)"/>
<path d="M1026.5 2788.9C1026.4 2782.6 1026.4 2774.0 1028.0 2767.3C1029.5 2760.6 1032.4 2753.2 1035.9 2748.7C1039.3 2744.1 1044.5 2741.0 1048.8 2740.1C1053.1 2739.1 1057.9 2740.6 1061.7 2743.0C1065.5 2745.3 1068.1 2751.1 1071.7 2754.4C1075.3 2757.8 1078.9 2761.8 1083.2 2763.0C1087.5 2764.2 1093.2 2763.5 1097.5 2761.6C1101.9 2759.7 1105.0 2754.7 1109.0 2751.6C1113.1 2748.5 1117.4 2743.9 1121.9 2743.0C1126.5 2742.0 1131.7 2743.2 1136.3 2745.8C1140.8 2748.5 1145.4 2753.5 1149.2 2758.7C1153.0 2764.0 1156.4 2771.2 1159.2 2777.4C1162.1 2783.6 1165.0 2790.3 1166.4 2796.0C1167.8 2801.8 1168.8 2807.3 1167.8 2811.8C1166.9 2816.4 1163.3 2819.7 1160.7 2823.3C1158.0 2826.9 1154.7 2830.0 1152.1 2833.3C1149.4 2836.7 1148.0 2840.5 1144.9 2843.4C1141.8 2846.2 1138.4 2848.9 1133.4 2850.5C1128.4 2852.2 1121.0 2853.2 1114.8 2853.4C1108.5 2853.7 1102.3 2852.2 1096.1 2852.0C1089.9 2851.7 1083.0 2853.2 1077.5 2852.0C1072.0 2850.8 1067.7 2848.2 1063.1 2844.8C1058.6 2841.5 1054.5 2836.2 1050.2 2831.9C1045.9 2827.6 1040.9 2823.5 1037.3 2819.0C1033.7 2814.4 1030.5 2809.7 1028.7 2804.6C1026.9 2799.6 1026.7 2795.1 1026.5 2788.9Z" fill="#cab3a0" stroke="#cab3a0" stroke-width="3" stroke-opacity="0.5" filter="url(#b2)"/>
<g filter="url(#tex)">
<path d="M1026.5 2788.9C1026.4 2782.6 1026.4 2774.0 1028.0 2767.3C1029.5 2760.6 1032.4 2753.2 1035.9 2748.7C1039.3 2744.1 1044.5 2741.0 1048.8 2740.1C1053.1 2739.1 1057.9 2740.6 1061.7 2743.0C1065.5 2745.3 1068.1 2751.1 1071.7 2754.4C1075.3 2757.8 1078.9 2761.8 1083.2 2763.0C1087.5 2764.2 1093.2 2763.5 1097.5 2761.6C1101.9 2759.7 1105.0 2754.7 1109.0 2751.6C1113.1 2748.5 1117.4 2743.9 1121.9 2743.0C1126.5 2742.0 1131.7 2743.2 1136.3 2745.8C1140.8 2748.5 1145.4 2753.5 1149.2 2758.7C1153.0 2764.0 1156.4 2771.2 1159.2 2777.4C1162.1 2783.6 1165.0 2790.3 1166.4 2796.0C1167.8 2801.8 1168.8 2807.3 1167.8 2811.8C1166.9 2816.4 1163.3 2819.7 1160.7 2823.3C1158.0 2826.9 1154.7 2830.0 1152.1 2833.3C1149.4 2836.7 1148.0 2840.5 1144.9 2843.4C1141.8 2846.2 1138.4 2848.9 1133.4 2850.5C1128.4 2852.2 1121.0 2853.2 1114.8 2853.4C1108.5 2853.7 1102.3 2852.2 1096.1 2852.0C1089.9 2851.7 1083.0 2853.2 1077.5 2852.0C1072.0 2850.8 1067.7 2848.2 1063.1 2844.8C1058.6 2841.5 1054.5 2836.2 1050.2 2831.9C1045.9 2827.6 1040.9 2823.5 1037.3 2819.0C1033.7 2814.4 1030.5 2809.7 1028.7 2804.6C1026.9 2799.6 1026.7 2795.1 1026.5 2788.9Z" fill="#9a4f32"/>
<g clip-path="url(#tc10)">
<ellipse cx="1137.7" cy="2784.6" rx="18.6" ry="34.4" fill="#7f3018" fill-opacity="0.8" filter="url(#b6)"/>
<ellipse cx="1134.8" cy="2829.0" rx="12.9" ry="10.0" fill="#7e140e" fill-opacity="0.8" filter="url(#b4)"/>
<ellipse cx="1047.3" cy="2777.4" rx="18.6" ry="33.0" fill="#ad6549" fill-opacity="0.7" filter="url(#b6)"/>
<ellipse cx="1097.5" cy="2811.8" rx="10.0" ry="5.7" fill="#d39c82" fill-opacity="0.8" filter="url(#b3)"/>
<ellipse cx="1080.3" cy="2808.9" rx="28.7" ry="8.6" fill="#782916" fill-opacity="0.5" filter="url(#b3)" transform="rotate(25 1080.3 2808.9)"/>
<ellipse cx="1093.2" cy="2841.9" rx="35.9" ry="10.0" fill="#95472d" fill-opacity="0.6" filter="url(#b4)"/>
</g></g>
</g>
<g clip-path="url(#pc11)">
<rect x="1261" y="2353" width="932.5" height="211.5" fill="#a59b90"/>
<rect x="1261" y="2353" width="932.5" height="211.5" fill="#a59b90" filter="url(#paper)" opacity="0.18"/>
<rect x="1261" y="2353" width="932.5" height="7" fill="#7a6e62" fill-opacity="0.38" filter="url(#b1)"/>
<rect x="1261" y="2353" width="6" height="212" fill="#7a6e62" fill-opacity="0.3" filter="url(#b1)"/>
<rect x="2187.5" y="2353" width="6" height="212" fill="#7a6e62" fill-opacity="0.4" filter="url(#b1)"/>
<path d="M1276.7 2353.0V2564.5M1286.9 2353.0V2564.5M1297.2 2353.0V2564.5M1307.4 2353.0V2564.5M1328.0 2353.0V2564.5M1338.2 2353.0V2564.5M1348.5 2353.0V2564.5M1358.7 2353.0V2564.5M1379.2 2353.0V2564.5M1389.5 2353.0V2564.5M1399.7 2353.0V2564.5M1410.0 2353.0V2564.5M1430.5 2353.0V2564.5M1440.7 2353.0V2564.5M1451.0 2353.0V2564.5M1461.2 2353.0V2564.5M1481.7 2353.0V2564.5M1492.0 2353.0V2564.5M1502.2 2353.0V2564.5M1512.5 2353.0V2564.5M1533.0 2353.0V2564.5M1543.2 2353.0V2564.5M1553.5 2353.0V2564.5M1563.7 2353.0V2564.5M1584.2 2353.0V2564.5M1594.5 2353.0V2564.5M1604.7 2353.0V2564.5M1615.0 2353.0V2564.5M1635.5 2353.0V2564.5M1645.7 2353.0V2564.5M1656.0 2353.0V2564.5M1666.2 2353.0V2564.5M1686.7 2353.0V2564.5M1697.0 2353.0V2564.5M1707.2 2353.0V2564.5M1717.5 2353.0V2564.5M1738.0 2353.0V2564.5M1748.2 2353.0V2564.5M1758.5 2353.0V2564.5M1768.7 2353.0V2564.5M1789.3 2353.0V2564.5M1799.5 2353.0V2564.5M1809.8 2353.0V2564.5M1820.0 2353.0V2564.5M1840.5 2353.0V2564.5M1850.8 2353.0V2564.5M1861.0 2353.0V2564.5M1871.3 2353.0V2564.5M1891.8 2353.0V2564.5M1902.0 2353.0V2564.5M1912.3 2353.0V2564.5M1922.5 2353.0V2564.5M1943.0 2353.0V2564.5M1953.3 2353.0V2564.5M1963.5 2353.0V2564.5M1973.8 2353.0V2564.5M1994.3 2353.0V2564.5M2004.5 2353.0V2564.5M2014.8 2353.0V2564.5M2025.0 2353.0V2564.5M2045.5 2353.0V2564.5M2055.8 2353.0V2564.5M2066.0 2353.0V2564.5M2076.3 2353.0V2564.5M2096.8 2353.0V2564.5M2107.0 2353.0V2564.5M2117.3 2353.0V2564.5M2127.5 2353.0V2564.5M2148.0 2353.0V2564.5M2158.3 2353.0V2564.5M2168.5 2353.0V2564.5M2178.8 2353.0V2564.5M1261.0 2369.4H2193.5M1261.0 2379.4H2193.5M1261.0 2389.5H2193.5M1261.0 2399.6H2193.5M1261.0 2419.8H2193.5M1261.0 2429.9H2193.5M1261.0 2440.0H2193.5M1261.0 2450.0H2193.5M1261.0 2470.2H2193.5M1261.0 2480.3H2193.5M1261.0 2490.4H2193.5M1261.0 2500.5H2193.5M1261.0 2520.7H2193.5M1261.0 2530.7H2193.5M1261.0 2540.8H2193.5M1261.0 2550.9H2193.5" stroke="#786e62" stroke-opacity="0.13" stroke-width="1.5" fill="none" filter="url(#b1)"/>
<path d="M1266.4 2353.0V2564.5M1317.7 2353.0V2564.5M1369.0 2353.0V2564.5M1420.2 2353.0V2564.5M1471.5 2353.0V2564.5M1522.7 2353.0V2564.5M1574.0 2353.0V2564.5M1625.2 2353.0V2564.5M1676.5 2353.0V2564.5M1727.7 2353.0V2564.5M1779.0 2353.0V2564.5M1830.3 2353.0V2564.5M1881.5 2353.0V2564.5M1932.8 2353.0V2564.5M1984.0 2353.0V2564.5M2035.3 2353.0V2564.5M2086.5 2353.0V2564.5M2137.8 2353.0V2564.5M2189.0 2353.0V2564.5M1261.0 2359.3H2193.5M1261.0 2409.7H2193.5M1261.0 2460.1H2193.5M1261.0 2510.6H2193.5M1261.0 2561.0H2193.5" stroke="#786e62" stroke-opacity="0.8" stroke-width="2.1" fill="none" filter="url(#b1)"/>
<ellipse cx="1449.3" cy="2486.1" rx="28.7" ry="27.3" fill="#62584d" fill-opacity="0.35" filter="url(#b10)"/>
<path d="M1300.1 2467.4C1300.5 2460.7 1302.0 2453.3 1304.4 2447.3C1306.8 2441.4 1310.2 2435.4 1314.5 2431.6C1318.8 2427.7 1324.3 2425.1 1330.3 2424.4C1336.2 2423.7 1343.2 2426.5 1350.3 2427.3C1357.5 2428.0 1366.1 2427.5 1373.3 2428.7C1380.5 2429.9 1387.2 2431.8 1393.4 2434.4C1399.6 2437.1 1405.3 2440.6 1410.6 2444.5C1415.8 2448.3 1421.3 2452.8 1424.9 2457.4C1428.5 2461.9 1431.6 2466.7 1432.1 2471.7C1432.6 2476.7 1430.4 2482.5 1427.8 2487.5C1425.2 2492.5 1421.1 2497.5 1416.3 2501.9C1411.5 2506.2 1404.8 2509.7 1399.1 2513.3C1393.4 2516.9 1387.6 2520.0 1381.9 2523.4C1376.2 2526.7 1370.4 2530.5 1364.7 2533.4C1358.9 2536.3 1352.7 2539.6 1347.5 2540.6C1342.2 2541.5 1337.9 2541.3 1333.1 2539.2C1328.3 2537.0 1322.8 2532.7 1318.8 2527.7C1314.7 2522.7 1311.5 2515.7 1308.7 2509.0C1306.0 2502.3 1303.7 2494.4 1302.3 2487.5C1300.8 2480.6 1299.8 2474.1 1300.1 2467.4Z" fill="#4a3c32" fill-opacity="0.3" filter="url(#b6)" transform="translate(3,2)"/>
<path d="M1300.1 2467.4C1300.5 2460.7 1302.0 2453.3 1304.4 2447.3C1306.8 2441.4 1310.2 2435.4 1314.5 2431.6C1318.8 2427.7 1324.3 2425.1 1330.3 2424.4C1336.2 2423.7 1343.2 2426.5 1350.3 2427.3C1357.5 2428.0 1366.1 2427.5 1373.3 2428.7C1380.5 2429.9 1387.2 2431.8 1393.4 2434.4C1399.6 2437.1 1405.3 2440.6 1410.6 2444.5C1415.8 2448.3 1421.3 2452.8 1424.9 2457.4C1428.5 2461.9 1431.6 2466.7 1432.1 2471.7C1432.6 2476.7 1430.4 2482.5 1427.8 2487.5C1425.2 2492.5 1421.1 2497.5 1416.3 2501.9C1411.5 2506.2 1404.8 2509.7 1399.1 2513.3C1393.4 2516.9 1387.6 2520.0 1381.9 2523.4C1376.2 2526.7 1370.4 2530.5 1364.7 2533.4C1358.9 2536.3 1352.7 2539.6 1347.5 2540.6C1342.2 2541.5 1337.9 2541.3 1333.1 2539.2C1328.3 2537.0 1322.8 2532.7 1318.8 2527.7C1314.7 2522.7 1311.5 2515.7 1308.7 2509.0C1306.0 2502.3 1303.7 2494.4 1302.3 2487.5C1300.8 2480.6 1299.8 2474.1 1300.1 2467.4Z" fill="#c2b0a4" stroke="#c2b0a4" stroke-width="3" stroke-opacity="0.5" filter="url(#b2)"/>
<g filter="url(#tex)">
<path d="M1300.1 2467.4C1300.5 2460.7 1302.0 2453.3 1304.4 2447.3C1306.8 2441.4 1310.2 2435.4 1314.5 2431.6C1318.8 2427.7 1324.3 2425.1 1330.3 2424.4C1336.2 2423.7 1343.2 2426.5 1350.3 2427.3C1357.5 2428.0 1366.1 2427.5 1373.3 2428.7C1380.5 2429.9 1387.2 2431.8 1393.4 2434.4C1399.6 2437.1 1405.3 2440.6 1410.6 2444.5C1415.8 2448.3 1421.3 2452.8 1424.9 2457.4C1428.5 2461.9 1431.6 2466.7 1432.1 2471.7C1432.6 2476.7 1430.4 2482.5 1427.8 2487.5C1425.2 2492.5 1421.1 2497.5 1416.3 2501.9C1411.5 2506.2 1404.8 2509.7 1399.1 2513.3C1393.4 2516.9 1387.6 2520.0 1381.9 2523.4C1376.2 2526.7 1370.4 2530.5 1364.7 2533.4C1358.9 2536.3 1352.7 2539.6 1347.5 2540.6C1342.2 2541.5 1337.9 2541.3 1333.1 2539.2C1328.3 2537.0 1322.8 2532.7 1318.8 2527.7C1314.7 2522.7 1311.5 2515.7 1308.7 2509.0C1306.0 2502.3 1303.7 2494.4 1302.3 2487.5C1300.8 2480.6 1299.8 2474.1 1300.1 2467.4Z" fill="#cbb6aa"/>
<g clip-path="url(#tc12)">
<path d="M1306.2 2467.4C1306.4 2461.0 1307.6 2454.4 1309.7 2449.1C1311.8 2443.8 1315.1 2438.9 1318.8 2435.6C1322.4 2432.3 1326.4 2429.9 1331.7 2429.1C1336.9 2428.4 1343.4 2430.6 1350.3 2431.1C1357.3 2431.7 1366.4 2431.4 1373.3 2432.6C1380.2 2433.7 1386.2 2435.4 1391.9 2437.9C1397.7 2440.4 1402.9 2444.1 1407.7 2447.6C1412.5 2451.2 1417.4 2455.1 1420.6 2459.1C1423.8 2463.1 1426.4 2467.2 1426.8 2471.7C1427.2 2476.2 1425.5 2481.5 1423.2 2486.1C1420.9 2490.6 1417.7 2494.9 1413.2 2499.0C1408.7 2503.0 1401.9 2506.9 1396.2 2510.5C1390.5 2514.0 1384.5 2517.2 1379.0 2520.2C1373.5 2523.3 1368.4 2526.3 1363.2 2528.8C1358.1 2531.3 1352.4 2534.2 1348.2 2535.1C1343.9 2536.0 1341.4 2536.0 1337.7 2534.3C1334.1 2532.5 1329.9 2529.0 1326.2 2524.5C1322.5 2520.1 1318.5 2513.8 1315.5 2507.6C1312.5 2501.4 1309.9 2494.2 1308.3 2487.5C1306.7 2480.8 1305.9 2473.8 1306.2 2467.4Z" fill="#490e0a" fill-opacity="1" filter="url(#b2)"/>
<ellipse cx="1379.0" cy="2487.5" rx="18.6" ry="21.5" fill="#210505" fill-opacity="0.9" filter="url(#b6)"/>
<ellipse cx="1341.7" cy="2480.3" rx="17.2" ry="11.5" fill="#753027" fill-opacity="0.8" filter="url(#b4)"/>
<ellipse cx="1337.4" cy="2514.8" rx="15.8" ry="15.8" fill="#84382b" fill-opacity="0.8" filter="url(#b6)"/>
<ellipse cx="1407.7" cy="2480.3" rx="11.5" ry="14.3" fill="#733029" fill-opacity="0.8" filter="url(#b4)"/>
<ellipse cx="1373.3" cy="2453.1" rx="11.5" ry="8.6" fill="#6f2b25" fill-opacity="0.7" filter="url(#b4)"/>
<ellipse cx="1325.9" cy="2455.9" rx="4.0" ry="4.0" fill="#cf958b" fill-opacity="0.7" filter="url(#b2)"/>
<ellipse cx="1313.0" cy="2468.9" rx="2.6" ry="3.4" fill="#be847a" fill-opacity="0.6" filter="url(#b2)"/>
</g></g>
<path d="M1478.7 2461.7C1479.9 2455.5 1485.4 2451.6 1490.2 2447.3C1494.9 2443.0 1501.2 2439.0 1507.4 2435.9C1513.6 2432.8 1520.3 2430.6 1527.5 2428.7C1534.6 2426.8 1543.0 2425.1 1550.4 2424.4C1557.8 2423.7 1564.8 2423.4 1571.9 2424.4C1579.1 2425.3 1586.8 2427.5 1593.5 2430.1C1600.1 2432.8 1606.4 2436.1 1612.1 2440.2C1617.8 2444.2 1623.6 2449.3 1627.9 2454.5C1632.2 2459.8 1635.8 2466.0 1637.9 2471.7C1640.1 2477.5 1641.3 2483.7 1640.8 2488.9C1640.3 2494.2 1638.2 2499.5 1635.1 2503.3C1631.9 2507.1 1627.2 2509.7 1622.1 2511.9C1617.1 2514.0 1610.9 2515.0 1604.9 2516.2C1599.0 2517.4 1591.1 2517.4 1586.3 2519.1C1581.5 2520.7 1579.3 2523.4 1576.2 2526.2C1573.1 2529.1 1571.9 2533.9 1567.6 2536.3C1563.3 2538.7 1556.6 2540.1 1550.4 2540.6C1544.2 2541.1 1536.8 2540.6 1530.3 2539.2C1523.9 2537.7 1517.4 2535.1 1511.7 2532.0C1505.9 2528.9 1500.2 2525.3 1495.9 2520.5C1491.6 2515.7 1488.0 2509.3 1485.9 2503.3C1483.7 2497.3 1484.2 2491.6 1483.0 2484.6C1481.8 2477.7 1477.5 2467.9 1478.7 2461.7Z" fill="#4a3c32" fill-opacity="0.3" filter="url(#b6)" transform="translate(3,2)"/>
<path d="M1478.7 2461.7C1479.9 2455.5 1485.4 2451.6 1490.2 2447.3C1494.9 2443.0 1501.2 2439.0 1507.4 2435.9C1513.6 2432.8 1520.3 2430.6 1527.5 2428.7C1534.6 2426.8 1543.0 2425.1 1550.4 2424.4C1557.8 2423.7 1564.8 2423.4 1571.9 2424.4C1579.1 2425.3 1586.8 2427.5 1593.5 2430.1C1600.1 2432.8 1606.4 2436.1 1612.1 2440.2C1617.8 2444.2 1623.6 2449.3 1627.9 2454.5C1632.2 2459.8 1635.8 2466.0 1637.9 2471.7C1640.1 2477.5 1641.3 2483.7 1640.8 2488.9C1640.3 2494.2 1638.2 2499.5 1635.1 2503.3C1631.9 2507.1 1627.2 2509.7 1622.1 2511.9C1617.1 2514.0 1610.9 2515.0 1604.9 2516.2C1599.0 2517.4 1591.1 2517.4 1586.3 2519.1C1581.5 2520.7 1579.3 2523.4 1576.2 2526.2C1573.1 2529.1 1571.9 2533.9 1567.6 2536.3C1563.3 2538.7 1556.6 2540.1 1550.4 2540.6C1544.2 2541.1 1536.8 2540.6 1530.3 2539.2C1523.9 2537.7 1517.4 2535.1 1511.7 2532.0C1505.9 2528.9 1500.2 2525.3 1495.9 2520.5C1491.6 2515.7 1488.0 2509.3 1485.9 2503.3C1483.7 2497.3 1484.2 2491.6 1483.0 2484.6C1481.8 2477.7 1477.5 2467.9 1478.7 2461.7Z" fill="#c2b1a4" stroke="#c2b1a4" stroke-width="3" stroke-opacity="0.5" filter="url(#b2)"/>
<g filter="url(#tex)">
<path d="M1478.7 2461.7C1479.9 2455.5 1485.4 2451.6 1490.2 2447.3C1494.9 2443.0 1501.2 2439.0 1507.4 2435.9C1513.6 2432.8 1520.3 2430.6 1527.5 2428.7C1534.6 2426.8 1543.0 2425.1 1550.4 2424.4C1557.8 2423.7 1564.8 2423.4 1571.9 2424.4C1579.1 2425.3 1586.8 2427.5 1593.5 2430.1C1600.1 2432.8 1606.4 2436.1 1612.1 2440.2C1617.8 2444.2 1623.6 2449.3 1627.9 2454.5C1632.2 2459.8 1635.8 2466.0 1637.9 2471.7C1640.1 2477.5 1641.3 2483.7 1640.8 2488.9C1640.3 2494.2 1638.2 2499.5 1635.1 2503.3C1631.9 2507.1 1627.2 2509.7 1622.1 2511.9C1617.1 2514.0 1610.9 2515.0 1604.9 2516.2C1599.0 2517.4 1591.1 2517.4 1586.3 2519.1C1581.5 2520.7 1579.3 2523.4 1576.2 2526.2C1573.1 2529.1 1571.9 2533.9 1567.6 2536.3C1563.3 2538.7 1556.6 2540.1 1550.4 2540.6C1544.2 2541.1 1536.8 2540.6 1530.3 2539.2C1523.9 2537.7 1517.4 2535.1 1511.7 2532.0C1505.9 2528.9 1500.2 2525.3 1495.9 2520.5C1491.6 2515.7 1488.0 2509.3 1485.9 2503.3C1483.7 2497.3 1484.2 2491.6 1483.0 2484.6C1481.8 2477.7 1477.5 2467.9 1478.7 2461.7Z" fill="#894f45"/>
<g clip-path="url(#tc13)">
<ellipse cx="1543.2" cy="2532.0" rx="28.7" ry="11.5" fill="#4b0a08" fill-opacity="0.9" filter="url(#b4)"/>
<ellipse cx="1530.3" cy="2514.8" rx="37.3" ry="18.6" fill="#843227" fill-opacity="0.85" filter="url(#b6)"/>
<ellipse cx="1516.0" cy="2484.6" rx="15.8" ry="7.2" fill="#d6ae9e" fill-opacity="0.85" filter="url(#b3)" transform="rotate(-25 1516.0 2484.6)"/>
<ellipse cx="1616.4" cy="2494.7" rx="21.5" ry="15.8" fill="#753227" fill-opacity="0.85" filter="url(#b6)"/>
<ellipse cx="1588.4" cy="2487.5" rx="7.2" ry="12.9" fill="#5e120e" fill-opacity="0.85" filter="url(#b3)"/>
<ellipse cx="1602.1" cy="2480.3" rx="3.7" ry="12.9" fill="#d3b1a0" fill-opacity="0.8" filter="url(#b2)" transform="rotate(-30 1602.1 2480.3)"/>
<ellipse cx="1579.1" cy="2504.7" rx="5.7" ry="8.6" fill="#cfa695" fill-opacity="0.7" filter="url(#b2)"/>
<ellipse cx="1564.8" cy="2435.9" rx="43.0" ry="7.2" fill="#733027" fill-opacity="0.7" filter="url(#b4)"/>
<ellipse cx="1511.7" cy="2445.9" rx="10.0" ry="5.7" fill="#78251c" fill-opacity="0.7" filter="url(#b3)"/>
<ellipse cx="1559.0" cy="2461.7" rx="37.3" ry="15.8" fill="#955e54" fill-opacity="0.6" filter="url(#b6)"/>
<ellipse cx="1514.6" cy="2504.7" rx="3.2" ry="3.2" fill="#e8ad9c" fill-opacity="0.7" filter="url(#b2)"/>
</g></g>
<path d="M1688.7 2480.3C1688.5 2474.4 1689.4 2466.9 1691.6 2461.7C1693.7 2456.4 1697.3 2451.6 1701.6 2448.8C1705.9 2445.9 1711.9 2444.9 1717.4 2444.5C1722.9 2444.0 1728.9 2444.7 1734.6 2445.9C1740.3 2447.1 1747.0 2450.2 1751.8 2451.6C1756.6 2453.1 1759.9 2455.5 1763.3 2454.5C1766.6 2453.6 1768.5 2448.1 1771.9 2445.9C1775.2 2443.8 1779.3 2441.6 1783.4 2441.6C1787.4 2441.6 1792.9 2442.8 1796.3 2445.9C1799.6 2449.0 1802.5 2455.5 1803.5 2460.3C1804.4 2465.0 1803.2 2470.3 1802.0 2474.6C1800.8 2478.9 1798.4 2483.0 1796.3 2486.1C1794.1 2489.2 1790.8 2490.4 1789.1 2493.2C1787.4 2496.1 1788.2 2499.9 1786.2 2503.3C1784.3 2506.6 1781.9 2511.2 1777.6 2513.3C1773.3 2515.5 1766.6 2515.7 1760.4 2516.2C1754.2 2516.7 1747.0 2516.7 1740.3 2516.2C1733.6 2515.7 1726.5 2514.3 1720.3 2513.3C1714.0 2512.4 1707.6 2513.1 1703.0 2510.5C1698.5 2507.8 1695.4 2502.6 1693.0 2497.5C1690.6 2492.5 1688.9 2486.3 1688.7 2480.3Z" fill="#4a3c32" fill-opacity="0.3" filter="url(#b6)" transform="translate(3,2)"/>
<path d="M1688.7 2480.3C1688.5 2474.4 1689.4 2466.9 1691.6 2461.7C1693.7 2456.4 1697.3 2451.6 1701.6 2448.8C1705.9 2445.9 1711.9 2444.9 1717.4 2444.5C1722.9 2444.0 1728.9 2444.7 1734.6 2445.9C1740.3 2447.1 1747.0 2450.2 1751.8 2451.6C1756.6 2453.1 1759.9 2455.5 1763.3 2454.5C1766.6 2453.6 1768.5 2448.1 1771.9 2445.9C1775.2 2443.8 1779.3 2441.6 1783.4 2441.6C1787.4 2441.6 1792.9 2442.8 1796.3 2445.9C1799.6 2449.0 1802.5 2455.5 1803.5 2460.3C1804.4 2465.0 1803.2 2470.3 1802.0 2474.6C1800.8 2478.9 1798.4 2483.0 1796.3 2486.1C1794.1 2489.2 1790.8 2490.4 1789.1 2493.2C1787.4 2496.1 1788.2 2499.9 1786.2 2503.3C1784.3 2506.6 1781.9 2511.2 1777.6 2513.3C1773.3 2515.5 1766.6 2515.7 1760.4 2516.2C1754.2 2516.7 1747.0 2516.7 1740.3 2516.2C1733.6 2515.7 1726.5 2514.3 1720.3 2513.3C1714.0 2512.4 1707.6 2513.1 1703.0 2510.5C1698.5 2507.8 1695.4 2502.6 1693.0 2497.5C1690.6 2492.5 1688.9 2486.3 1688.7 2480.3Z" fill="#c2b1a2" stroke="#c2b1a2" stroke-width="3" stroke-opacity="0.5" filter="url(#b2)"/>
<g filter="url(#tex)">
<path d="M1688.7 2480.3C1688.5 2474.4 1689.4 2466.9 1691.6 2461.7C1693.7 2456.4 1697.3 2451.6 1701.6 2448.8C1705.9 2445.9 1711.9 2444.9 1717.4 2444.5C1722.9 2444.0 1728.9 2444.7 1734.6 2445.9C1740.3 2447.1 1747.0 2450.2 1751.8 2451.6C1756.6 2453.1 1759.9 2455.5 1763.3 2454.5C1766.6 2453.6 1768.5 2448.1 1771.9 2445.9C1775.2 2443.8 1779.3 2441.6 1783.4 2441.6C1787.4 2441.6 1792.9 2442.8 1796.3 2445.9C1799.6 2449.0 1802.5 2455.5 1803.5 2460.3C1804.4 2465.0 1803.2 2470.3 1802.0 2474.6C1800.8 2478.9 1798.4 2483.0 1796.3 2486.1C1794.1 2489.2 1790.8 2490.4 1789.1 2493.2C1787.4 2496.1 1788.2 2499.9 1786.2 2503.3C1784.3 2506.6 1781.9 2511.2 1777.6 2513.3C1773.3 2515.5 1766.6 2515.7 1760.4 2516.2C1754.2 2516.7 1747.0 2516.7 1740.3 2516.2C1733.6 2515.7 1726.5 2514.3 1720.3 2513.3C1714.0 2512.4 1707.6 2513.1 1703.0 2510.5C1698.5 2507.8 1695.4 2502.6 1693.0 2497.5C1690.6 2492.5 1688.9 2486.3 1688.7 2480.3Z" fill="#c4ab9f"/>
<g clip-path="url(#tc14)">
<path d="M1696.2 2480.3C1696.5 2475.4 1698.5 2469.1 1700.5 2464.8C1702.4 2460.6 1704.3 2457.2 1707.6 2454.8C1710.9 2452.4 1715.8 2451.0 1720.3 2450.5C1724.7 2450.0 1729.3 2450.7 1734.6 2451.9C1739.9 2453.1 1746.8 2456.5 1751.8 2457.7C1756.8 2458.9 1761.1 2460.3 1764.7 2459.1C1768.3 2457.9 1770.0 2452.5 1773.3 2450.5C1776.7 2448.5 1781.2 2446.9 1784.8 2446.9C1788.4 2446.9 1792.4 2448.0 1794.8 2450.5C1797.3 2453.0 1799.0 2457.7 1799.6 2461.7C1800.1 2465.7 1799.5 2471.0 1798.1 2474.6C1796.8 2478.2 1794.4 2480.8 1791.7 2483.2C1789.0 2485.6 1783.8 2486.4 1781.9 2489.2C1780.0 2492.1 1781.7 2497.1 1780.2 2500.4C1778.7 2503.7 1776.6 2507.3 1773.0 2509.0C1769.5 2510.8 1764.4 2510.7 1759.0 2510.9C1753.5 2511.1 1746.6 2510.5 1740.3 2510.2C1734.1 2509.8 1727.4 2509.5 1721.7 2508.7C1716.0 2508.0 1710.1 2508.2 1706.2 2505.9C1702.3 2503.5 1700.0 2498.9 1698.3 2494.7C1696.6 2490.4 1695.8 2485.3 1696.2 2480.3Z" fill="#a6624f" fill-opacity="1" filter="url(#b2)"/>
<ellipse cx="1717.4" cy="2496.1" rx="20.1" ry="12.9" fill="#2b0706" fill-opacity="0.9" filter="url(#b4)"/>
<ellipse cx="1786.2" cy="2463.1" rx="11.5" ry="15.8" fill="#954027" fill-opacity="0.7" filter="url(#b4)"/>
<ellipse cx="1740.3" cy="2471.7" rx="20.1" ry="11.5" fill="#b57a67" fill-opacity="0.6" filter="url(#b4)"/>
<ellipse cx="1740.3" cy="2460.3" rx="8.6" ry="3.6" fill="#a66236" fill-opacity="0.5" filter="url(#b2)"/>
<ellipse cx="1783.4" cy="2491.8" rx="2.9" ry="5.7" fill="#d0a898" fill-opacity="0.7" filter="url(#b2)"/>
</g></g>
<path d="M1902.3 2448.9C1901.8 2442.9 1903.9 2438.1 1905.9 2433.1C1907.9 2428.1 1910.9 2422.6 1914.5 2418.7C1918.1 2414.9 1922.6 2411.9 1927.4 2410.1C1932.2 2408.3 1937.7 2408.0 1943.2 2408.0C1948.7 2408.0 1954.9 2408.6 1960.4 2410.1C1965.9 2411.7 1971.4 2414.0 1976.2 2417.3C1981.0 2420.6 1985.8 2425.4 1989.1 2430.2C1992.5 2435.0 1994.8 2440.5 1996.3 2446.0C1997.7 2451.5 1998.2 2457.5 1997.7 2463.2C1997.2 2468.9 1995.6 2475.2 1993.4 2480.4C1991.3 2485.7 1988.4 2490.7 1984.8 2494.8C1981.2 2498.8 1976.4 2502.7 1971.9 2504.8C1967.4 2507.0 1962.1 2508.2 1957.5 2507.7C1953.0 2507.2 1948.9 2504.3 1944.6 2501.9C1940.3 2499.5 1936.0 2496.4 1931.7 2493.3C1927.4 2490.2 1922.6 2487.4 1918.8 2483.3C1915.0 2479.2 1911.5 2474.7 1908.8 2468.9C1906.0 2463.2 1902.8 2454.8 1902.3 2448.9Z" fill="#4a3c32" fill-opacity="0.3" filter="url(#b6)" transform="translate(3,2)"/>
<path d="M1902.3 2448.9C1901.8 2442.9 1903.9 2438.1 1905.9 2433.1C1907.9 2428.1 1910.9 2422.6 1914.5 2418.7C1918.1 2414.9 1922.6 2411.9 1927.4 2410.1C1932.2 2408.3 1937.7 2408.0 1943.2 2408.0C1948.7 2408.0 1954.9 2408.6 1960.4 2410.1C1965.9 2411.7 1971.4 2414.0 1976.2 2417.3C1981.0 2420.6 1985.8 2425.4 1989.1 2430.2C1992.5 2435.0 1994.8 2440.5 1996.3 2446.0C1997.7 2451.5 1998.2 2457.5 1997.7 2463.2C1997.2 2468.9 1995.6 2475.2 1993.4 2480.4C1991.3 2485.7 1988.4 2490.7 1984.8 2494.8C1981.2 2498.8 1976.4 2502.7 1971.9 2504.8C1967.4 2507.0 1962.1 2508.2 1957.5 2507.7C1953.0 2507.2 1948.9 2504.3 1944.6 2501.9C1940.3 2499.5 1936.0 2496.4 1931.7 2493.3C1927.4 2490.2 1922.6 2487.4 1918.8 2483.3C1915.0 2479.2 1911.5 2474.7 1908.8 2468.9C1906.0 2463.2 1902.8 2454.8 1902.3 2448.9Z" fill="#beada0" stroke="#beada0" stroke-width="3" stroke-opacity="0.5" filter="url(#b2)"/>
<g filter="url(#tex)">
<path d="M1902.3 2448.9C1901.8 2442.9 1903.9 2438.1 1905.9 2433.1C1907.9 2428.1 1910.9 2422.6 1914.5 2418.7C1918.1 2414.9 1922.6 2411.9 1927.4 2410.1C1932.2 2408.3 1937.7 2408.0 1943.2 2408.0C1948.7 2408.0 1954.9 2408.6 1960.4 2410.1C1965.9 2411.7 1971.4 2414.0 1976.2 2417.3C1981.0 2420.6 1985.8 2425.4 1989.1 2430.2C1992.5 2435.0 1994.8 2440.5 1996.3 2446.0C1997.7 2451.5 1998.2 2457.5 1997.7 2463.2C1997.2 2468.9 1995.6 2475.2 1993.4 2480.4C1991.3 2485.7 1988.4 2490.7 1984.8 2494.8C1981.2 2498.8 1976.4 2502.7 1971.9 2504.8C1967.4 2507.0 1962.1 2508.2 1957.5 2507.7C1953.0 2507.2 1948.9 2504.3 1944.6 2501.9C1940.3 2499.5 1936.0 2496.4 1931.7 2493.3C1927.4 2490.2 1922.6 2487.4 1918.8 2483.3C1915.0 2479.2 1911.5 2474.7 1908.8 2468.9C1906.0 2463.2 1902.8 2454.8 1902.3 2448.9Z" fill="#c2a69a"/>
<g clip-path="url(#tc15)">
<path d="M1906.2 2448.9C1905.7 2443.3 1907.6 2438.8 1909.5 2434.2C1911.4 2429.6 1914.2 2424.8 1917.4 2421.3C1920.6 2417.8 1924.6 2415.1 1928.9 2413.4C1933.2 2411.8 1938.1 2411.3 1943.2 2411.3C1948.3 2411.2 1954.6 2411.8 1959.7 2413.3C1964.8 2414.8 1969.6 2417.1 1974.0 2420.2C1978.5 2423.3 1983.1 2427.5 1986.2 2431.9C1989.3 2436.4 1991.4 2441.5 1992.7 2446.7C1994.0 2451.9 1994.6 2457.8 1994.1 2463.2C1993.7 2468.6 1992.0 2474.4 1990.0 2479.3C1987.9 2484.2 1985.2 2488.9 1981.9 2492.6C1978.7 2496.3 1974.5 2499.7 1970.5 2501.6C1966.4 2503.6 1961.9 2504.7 1957.8 2504.2C1953.8 2503.8 1950.4 2501.3 1946.4 2499.1C1942.4 2496.8 1938.0 2493.7 1933.9 2490.7C1929.8 2487.8 1925.3 2485.0 1921.7 2481.1C1918.1 2477.3 1914.8 2473.2 1912.2 2467.8C1909.6 2462.4 1906.6 2454.5 1906.2 2448.9Z" fill="#58130e" fill-opacity="1" filter="url(#b2)"/>
<ellipse cx="1960.4" cy="2471.8" rx="23.0" ry="20.1" fill="#290606" fill-opacity="0.85" filter="url(#b6)"/>
<ellipse cx="1971.9" cy="2444.6" rx="11.5" ry="8.6" fill="#975440" fill-opacity="0.85" filter="url(#b4)"/>
<ellipse cx="1924.6" cy="2454.6" rx="10.0" ry="15.8" fill="#843429" fill-opacity="0.7" filter="url(#b4)"/>
<ellipse cx="1940.3" cy="2423.0" rx="20.1" ry="10.0" fill="#621810" fill-opacity="0.6" filter="url(#b4)"/>
<ellipse cx="1928.9" cy="2468.9" rx="4.3" ry="2.0" fill="#df9c8b" fill-opacity="0.7" filter="url(#b2)" transform="rotate(30 1928.9 2468.9)"/>
<ellipse cx="1963.3" cy="2494.8" rx="12.9" ry="7.2" fill="#73211a" fill-opacity="0.6" filter="url(#b4)"/>
</g></g>
<path d="M2048.8 2466.1C2048.3 2460.6 2051.4 2454.1 2054.5 2448.9C2057.6 2443.6 2062.4 2438.8 2067.4 2434.5C2072.4 2430.2 2078.2 2425.9 2084.6 2423.0C2091.1 2420.2 2098.7 2418.0 2106.2 2417.3C2113.6 2416.6 2121.7 2417.5 2129.1 2418.7C2136.5 2419.9 2144.2 2421.4 2150.6 2424.5C2157.1 2427.6 2163.5 2432.4 2167.8 2437.4C2172.1 2442.4 2174.8 2448.6 2176.4 2454.6C2178.1 2460.6 2178.6 2467.3 2177.9 2473.2C2177.2 2479.2 2175.0 2485.2 2172.1 2490.5C2169.3 2495.7 2165.5 2500.7 2160.7 2504.8C2155.9 2508.9 2149.4 2512.7 2143.5 2514.8C2137.5 2517.0 2131.0 2518.0 2124.8 2517.7C2118.6 2517.5 2112.1 2515.6 2106.2 2513.4C2100.2 2511.3 2094.7 2507.9 2088.9 2504.8C2083.2 2501.7 2077.0 2498.6 2071.7 2494.8C2066.5 2490.9 2061.2 2486.6 2057.4 2481.9C2053.6 2477.1 2049.3 2471.6 2048.8 2466.1Z" fill="#4a3c32" fill-opacity="0.3" filter="url(#b6)" transform="translate(3,2)"/>
<path d="M2048.8 2466.1C2048.3 2460.6 2051.4 2454.1 2054.5 2448.9C2057.6 2443.6 2062.4 2438.8 2067.4 2434.5C2072.4 2430.2 2078.2 2425.9 2084.6 2423.0C2091.1 2420.2 2098.7 2418.0 2106.2 2417.3C2113.6 2416.6 2121.7 2417.5 2129.1 2418.7C2136.5 2419.9 2144.2 2421.4 2150.6 2424.5C2157.1 2427.6 2163.5 2432.4 2167.8 2437.4C2172.1 2442.4 2174.8 2448.6 2176.4 2454.6C2178.1 2460.6 2178.6 2467.3 2177.9 2473.2C2177.2 2479.2 2175.0 2485.2 2172.1 2490.5C2169.3 2495.7 2165.5 2500.7 2160.7 2504.8C2155.9 2508.9 2149.4 2512.7 2143.5 2514.8C2137.5 2517.0 2131.0 2518.0 2124.8 2517.7C2118.6 2517.5 2112.1 2515.6 2106.2 2513.4C2100.2 2511.3 2094.7 2507.9 2088.9 2504.8C2083.2 2501.7 2077.0 2498.6 2071.7 2494.8C2066.5 2490.9 2061.2 2486.6 2057.4 2481.9C2053.6 2477.1 2049.3 2471.6 2048.8 2466.1Z" fill="#b1a28e" stroke="#b1a28e" stroke-width="3" stroke-opacity="0.5" filter="url(#b2)"/>
<g filter="url(#tex)">
<path d="M2048.8 2466.1C2048.3 2460.6 2051.4 2454.1 2054.5 2448.9C2057.6 2443.6 2062.4 2438.8 2067.4 2434.5C2072.4 2430.2 2078.2 2425.9 2084.6 2423.0C2091.1 2420.2 2098.7 2418.0 2106.2 2417.3C2113.6 2416.6 2121.7 2417.5 2129.1 2418.7C2136.5 2419.9 2144.2 2421.4 2150.6 2424.5C2157.1 2427.6 2163.5 2432.4 2167.8 2437.4C2172.1 2442.4 2174.8 2448.6 2176.4 2454.6C2178.1 2460.6 2178.6 2467.3 2177.9 2473.2C2177.2 2479.2 2175.0 2485.2 2172.1 2490.5C2169.3 2495.7 2165.5 2500.7 2160.7 2504.8C2155.9 2508.9 2149.4 2512.7 2143.5 2514.8C2137.5 2517.0 2131.0 2518.0 2124.8 2517.7C2118.6 2517.5 2112.1 2515.6 2106.2 2513.4C2100.2 2511.3 2094.7 2507.9 2088.9 2504.8C2083.2 2501.7 2077.0 2498.6 2071.7 2494.8C2066.5 2490.9 2061.2 2486.6 2057.4 2481.9C2053.6 2477.1 2049.3 2471.6 2048.8 2466.1Z" fill="#b2a18f"/>
<g clip-path="url(#tc16)">
<path d="M2060.3 2464.6C2060.7 2460.6 2062.2 2454.6 2064.6 2450.3C2066.9 2446.0 2070.5 2442.4 2074.6 2438.8C2078.7 2435.2 2083.4 2431.4 2088.9 2428.8C2094.4 2426.1 2100.9 2423.8 2107.6 2423.0C2114.3 2422.3 2122.4 2423.3 2129.1 2424.5C2135.8 2425.7 2142.3 2427.3 2147.8 2430.2C2153.3 2433.1 2158.8 2437.4 2162.1 2441.7C2165.5 2446.0 2166.9 2450.8 2167.8 2456.0C2168.8 2461.3 2169.0 2468.2 2167.8 2473.2C2166.6 2478.3 2164.0 2482.6 2160.7 2486.2C2157.3 2489.7 2152.5 2492.1 2147.8 2494.8C2143.0 2497.4 2136.8 2500.3 2132.0 2501.9C2127.2 2503.6 2122.9 2505.3 2119.1 2504.8C2115.2 2504.3 2112.6 2501.5 2109.0 2499.1C2105.4 2496.7 2101.4 2492.1 2097.5 2490.5C2093.7 2488.8 2090.4 2490.2 2086.1 2489.0C2081.8 2487.8 2075.8 2485.7 2071.7 2483.3C2067.7 2480.9 2063.6 2477.8 2061.7 2474.7C2059.8 2471.6 2059.8 2468.7 2060.3 2464.6Z" fill="#450d09" fill-opacity="1" filter="url(#b2)"/>
<ellipse cx="2071.7" cy="2463.2" rx="12.9" ry="18.6" fill="#733021" fill-opacity="0.85" filter="url(#b4)"/>
<ellipse cx="2121.9" cy="2444.6" rx="11.5" ry="10.0" fill="#733625" fill-opacity="0.8" filter="url(#b4)"/>
<ellipse cx="2121.9" cy="2483.3" rx="28.7" ry="14.3" fill="#300706" fill-opacity="0.7" filter="url(#b6)"/>
<ellipse cx="2150.6" cy="2441.7" rx="11.5" ry="8.6" fill="#5a160b" fill-opacity="0.6" filter="url(#b4)"/>
<ellipse cx="2088.9" cy="2494.8" rx="8.6" ry="5.7" fill="#bea68f" fill-opacity="0.6" filter="url(#b3)"/>
</g></g>
</g>
<g clip-path="url(#pc17)">
<rect x="1261" y="2689.4" width="987.5" height="206.5999999999999" fill="#a79e92"/>
<rect x="1261" y="2689.4" width="987.5" height="206.5999999999999" fill="#a79e92" filter="url(#paper)" opacity="0.18"/>
<path d="M1274.2 2689.4V2896.0M1284.5 2689.4V2896.0M1294.8 2689.4V2896.0M1305.1 2689.4V2896.0M1325.7 2689.4V2896.0M1336.0 2689.4V2896.0M1346.3 2689.4V2896.0M1356.6 2689.4V2896.0M1377.2 2689.4V2896.0M1387.5 2689.4V2896.0M1397.8 2689.4V2896.0M1408.1 2689.4V2896.0M1428.7 2689.4V2896.0M1439.0 2689.4V2896.0M1449.3 2689.4V2896.0M1459.6 2689.4V2896.0M1480.2 2689.4V2896.0M1490.5 2689.4V2896.0M1500.8 2689.4V2896.0M1511.1 2689.4V2896.0M1531.7 2689.4V2896.0M1542.0 2689.4V2896.0M1552.4 2689.4V2896.0M1562.7 2689.4V2896.0M1583.3 2689.4V2896.0M1593.6 2689.4V2896.0M1603.9 2689.4V2896.0M1614.2 2689.4V2896.0M1634.8 2689.4V2896.0M1645.1 2689.4V2896.0M1655.4 2689.4V2896.0M1665.7 2689.4V2896.0M1686.3 2689.4V2896.0M1696.6 2689.4V2896.0M1706.9 2689.4V2896.0M1717.2 2689.4V2896.0M1737.8 2689.4V2896.0M1748.1 2689.4V2896.0M1758.4 2689.4V2896.0M1768.7 2689.4V2896.0M1789.3 2689.4V2896.0M1799.6 2689.4V2896.0M1809.9 2689.4V2896.0M1820.2 2689.4V2896.0M1840.8 2689.4V2896.0M1851.1 2689.4V2896.0M1861.4 2689.4V2896.0M1871.7 2689.4V2896.0M1892.3 2689.4V2896.0M1902.6 2689.4V2896.0M1912.9 2689.4V2896.0M1923.2 2689.4V2896.0M1943.8 2689.4V2896.0M1954.1 2689.4V2896.0M1964.4 2689.4V2896.0M1974.7 2689.4V2896.0M1995.3 2689.4V2896.0M2005.6 2689.4V2896.0M2016.0 2689.4V2896.0M2026.3 2689.4V2896.0M2046.9 2689.4V2896.0M2057.2 2689.4V2896.0M2067.5 2689.4V2896.0M2077.8 2689.4V2896.0M2098.4 2689.4V2896.0M2108.7 2689.4V2896.0M2119.0 2689.4V2896.0M2129.3 2689.4V2896.0M2149.9 2689.4V2896.0M2160.2 2689.4V2896.0M2170.5 2689.4V2896.0M2180.8 2689.4V2896.0M1261.0 2695.0H2191.0M1261.0 2705.4H2191.0M1261.0 2715.7H2191.0M1261.0 2726.0H2191.0M1261.0 2746.6H2191.0M1261.0 2756.9H2191.0M1261.0 2767.2H2191.0M1261.0 2777.6H2191.0M1261.0 2798.2H2191.0M1261.0 2808.5H2191.0M1261.0 2818.8H2191.0M1261.0 2829.1H2191.0M1261.0 2849.7H2191.0M1261.0 2860.1H2191.0M1261.0 2870.4H2191.0M1261.0 2880.7H2191.0" stroke="#786e62" stroke-opacity="0.13" stroke-width="1.5" fill="none" filter="url(#b1)"/>
<path d="M1263.9 2689.4V2896.0M1315.4 2689.4V2896.0M1366.9 2689.4V2896.0M1418.4 2689.4V2896.0M1469.9 2689.4V2896.0M1521.4 2689.4V2896.0M1573.0 2689.4V2896.0M1624.5 2689.4V2896.0M1676.0 2689.4V2896.0M1727.5 2689.4V2896.0M1779.0 2689.4V2896.0M1830.5 2689.4V2896.0M1882.0 2689.4V2896.0M1933.5 2689.4V2896.0M1985.0 2689.4V2896.0M2036.6 2689.4V2896.0M2088.1 2689.4V2896.0M2139.6 2689.4V2896.0M2191.1 2689.4V2896.0M1261.0 2736.3H2191.0M1261.0 2787.9H2191.0M1261.0 2839.4H2191.0M1261.0 2891.0H2191.0" stroke="#786e62" stroke-opacity="0.8" stroke-width="2.1" fill="none" filter="url(#b1)"/>
<path d="M1286.5 2787.4C1286.3 2782.4 1287.9 2776.2 1290.1 2771.6C1292.4 2767.1 1295.6 2762.8 1300.2 2760.2C1304.7 2757.5 1311.4 2756.5 1317.4 2755.9C1323.4 2755.3 1330.3 2755.9 1336.0 2756.6C1341.8 2757.3 1347.3 2757.9 1351.8 2760.2C1356.4 2762.4 1360.2 2766.1 1363.3 2770.2C1366.4 2774.3 1369.5 2780.0 1370.5 2784.6C1371.4 2789.1 1370.2 2793.6 1369.0 2797.5C1367.8 2801.3 1365.7 2804.2 1363.3 2807.5C1360.9 2810.9 1358.0 2814.4 1354.7 2817.5C1351.3 2820.7 1347.0 2823.8 1343.2 2826.2C1339.4 2828.5 1335.6 2830.9 1331.7 2831.9C1327.9 2832.9 1323.6 2833.3 1320.3 2831.9C1316.9 2830.5 1314.8 2826.4 1311.6 2823.3C1308.5 2820.2 1304.9 2816.8 1301.6 2813.2C1298.3 2809.7 1294.1 2806.1 1291.6 2801.8C1289.0 2797.5 1286.8 2792.4 1286.5 2787.4Z" fill="#4a3c32" fill-opacity="0.2" filter="url(#b6)" transform="translate(3,2)"/>
<path d="M1286.5 2787.4C1286.3 2782.4 1287.9 2776.2 1290.1 2771.6C1292.4 2767.1 1295.6 2762.8 1300.2 2760.2C1304.7 2757.5 1311.4 2756.5 1317.4 2755.9C1323.4 2755.3 1330.3 2755.9 1336.0 2756.6C1341.8 2757.3 1347.3 2757.9 1351.8 2760.2C1356.4 2762.4 1360.2 2766.1 1363.3 2770.2C1366.4 2774.3 1369.5 2780.0 1370.5 2784.6C1371.4 2789.1 1370.2 2793.6 1369.0 2797.5C1367.8 2801.3 1365.7 2804.2 1363.3 2807.5C1360.9 2810.9 1358.0 2814.4 1354.7 2817.5C1351.3 2820.7 1347.0 2823.8 1343.2 2826.2C1339.4 2828.5 1335.6 2830.9 1331.7 2831.9C1327.9 2832.9 1323.6 2833.3 1320.3 2831.9C1316.9 2830.5 1314.8 2826.4 1311.6 2823.3C1308.5 2820.2 1304.9 2816.8 1301.6 2813.2C1298.3 2809.7 1294.1 2806.1 1291.6 2801.8C1289.0 2797.5 1286.8 2792.4 1286.5 2787.4Z" fill="#cab7a4" stroke="#cab7a4" stroke-width="3" stroke-opacity="0.5" filter="url(#b2)"/>
<g filter="url(#tex)">
<path d="M1286.5 2787.4C1286.3 2782.4 1287.9 2776.2 1290.1 2771.6C1292.4 2767.1 1295.6 2762.8 1300.2 2760.2C1304.7 2757.5 1311.4 2756.5 1317.4 2755.9C1323.4 2755.3 1330.3 2755.9 1336.0 2756.6C1341.8 2757.3 1347.3 2757.9 1351.8 2760.2C1356.4 2762.4 1360.2 2766.1 1363.3 2770.2C1366.4 2774.3 1369.5 2780.0 1370.5 2784.6C1371.4 2789.1 1370.2 2793.6 1369.0 2797.5C1367.8 2801.3 1365.7 2804.2 1363.3 2807.5C1360.9 2810.9 1358.0 2814.4 1354.7 2817.5C1351.3 2820.7 1347.0 2823.8 1343.2 2826.2C1339.4 2828.5 1335.6 2830.9 1331.7 2831.9C1327.9 2832.9 1323.6 2833.3 1320.3 2831.9C1316.9 2830.5 1314.8 2826.4 1311.6 2823.3C1308.5 2820.2 1304.9 2816.8 1301.6 2813.2C1298.3 2809.7 1294.1 2806.1 1291.6 2801.8C1289.0 2797.5 1286.8 2792.4 1286.5 2787.4Z" fill="#954b2b"/>
<g clip-path="url(#tc18)">
<ellipse cx="1301.6" cy="2780.3" rx="12.9" ry="18.6" fill="#a86738" fill-opacity="0.85" filter="url(#b4)"/>
<ellipse cx="1350.4" cy="2781.7" rx="17.2" ry="21.5" fill="#822d1f" fill-opacity="0.85" filter="url(#b6)"/>
<ellipse cx="1317.4" cy="2798.2" rx="9.3" ry="15.8" fill="#5e070b" fill-opacity="0.95" filter="url(#b3)"/>
<ellipse cx="1318.1" cy="2803.2" rx="3.2" ry="4.3" fill="#8b101a" fill-opacity="0.9" filter="url(#b2)"/>
<ellipse cx="1323.1" cy="2826.9" rx="10.0" ry="4.0" fill="#d3aa97" fill-opacity="0.85" filter="url(#b3)"/>
<ellipse cx="1340.3" cy="2813.2" rx="12.9" ry="10.0" fill="#843423" fill-opacity="0.7" filter="url(#b4)"/>
</g></g>
<path d="M1463.0 2784.6C1463.5 2782.4 1465.7 2779.3 1468.8 2777.4C1471.9 2775.5 1476.9 2773.9 1481.7 2773.1C1486.5 2772.2 1492.2 2772.2 1497.5 2772.4C1502.7 2772.5 1508.5 2773.0 1513.2 2773.8C1518.0 2774.6 1522.8 2775.3 1526.2 2777.4C1529.5 2779.4 1531.7 2783.1 1533.3 2786.0C1535.0 2788.9 1534.8 2793.2 1536.2 2794.6C1537.6 2796.0 1541.7 2793.6 1541.9 2794.6C1542.2 2795.6 1539.3 2797.9 1537.6 2800.3C1536.0 2802.7 1534.5 2806.6 1531.9 2808.9C1529.3 2811.3 1525.7 2813.5 1521.9 2814.7C1518.0 2815.9 1513.2 2816.6 1508.9 2816.1C1504.6 2815.6 1500.3 2813.5 1496.0 2811.8C1491.7 2810.1 1486.9 2808.5 1483.1 2806.1C1479.3 2803.7 1475.9 2800.1 1473.1 2797.5C1470.2 2794.8 1467.6 2792.4 1465.9 2790.3C1464.2 2788.1 1462.6 2786.7 1463.0 2784.6Z" fill="#4a3c32" fill-opacity="0.15" filter="url(#b6)" transform="translate(3,2)"/>
<path d="M1463.0 2784.6C1463.5 2782.4 1465.7 2779.3 1468.8 2777.4C1471.9 2775.5 1476.9 2773.9 1481.7 2773.1C1486.5 2772.2 1492.2 2772.2 1497.5 2772.4C1502.7 2772.5 1508.5 2773.0 1513.2 2773.8C1518.0 2774.6 1522.8 2775.3 1526.2 2777.4C1529.5 2779.4 1531.7 2783.1 1533.3 2786.0C1535.0 2788.9 1534.8 2793.2 1536.2 2794.6C1537.6 2796.0 1541.7 2793.6 1541.9 2794.6C1542.2 2795.6 1539.3 2797.9 1537.6 2800.3C1536.0 2802.7 1534.5 2806.6 1531.9 2808.9C1529.3 2811.3 1525.7 2813.5 1521.9 2814.7C1518.0 2815.9 1513.2 2816.6 1508.9 2816.1C1504.6 2815.6 1500.3 2813.5 1496.0 2811.8C1491.7 2810.1 1486.9 2808.5 1483.1 2806.1C1479.3 2803.7 1475.9 2800.1 1473.1 2797.5C1470.2 2794.8 1467.6 2792.4 1465.9 2790.3C1464.2 2788.1 1462.6 2786.7 1463.0 2784.6Z" fill="#c6b3a4" stroke="#c6b3a4" stroke-width="3" stroke-opacity="0.5" filter="url(#b2)"/>
<g filter="url(#tex)">
<path d="M1463.0 2784.6C1463.5 2782.4 1465.7 2779.3 1468.8 2777.4C1471.9 2775.5 1476.9 2773.9 1481.7 2773.1C1486.5 2772.2 1492.2 2772.2 1497.5 2772.4C1502.7 2772.5 1508.5 2773.0 1513.2 2773.8C1518.0 2774.6 1522.8 2775.3 1526.2 2777.4C1529.5 2779.4 1531.7 2783.1 1533.3 2786.0C1535.0 2788.9 1534.8 2793.2 1536.2 2794.6C1537.6 2796.0 1541.7 2793.6 1541.9 2794.6C1542.2 2795.6 1539.3 2797.9 1537.6 2800.3C1536.0 2802.7 1534.5 2806.6 1531.9 2808.9C1529.3 2811.3 1525.7 2813.5 1521.9 2814.7C1518.0 2815.9 1513.2 2816.6 1508.9 2816.1C1504.6 2815.6 1500.3 2813.5 1496.0 2811.8C1491.7 2810.1 1486.9 2808.5 1483.1 2806.1C1479.3 2803.7 1475.9 2800.1 1473.1 2797.5C1470.2 2794.8 1467.6 2792.4 1465.9 2790.3C1464.2 2788.1 1462.6 2786.7 1463.0 2784.6Z" fill="#b5624f"/>
<g clip-path="url(#tc19)">
<ellipse cx="1501.8" cy="2809.7" rx="20.1" ry="5.0" fill="#84251c" fill-opacity="0.8" filter="url(#b3)"/>
<ellipse cx="1513.2" cy="2798.2" rx="9.3" ry="4.0" fill="#e6b8a8" fill-opacity="0.95" filter="url(#b2)"/>
<ellipse cx="1483.1" cy="2787.4" rx="14.3" ry="8.6" fill="#a25a40" fill-opacity="0.7" filter="url(#b4)"/>
<ellipse cx="1520.4" cy="2783.1" rx="10.0" ry="7.2" fill="#8b2b1f" fill-opacity="0.7" filter="url(#b3)"/>
<ellipse cx="1539.1" cy="2795.3" rx="2.9" ry="2.3" fill="#d8b0a4" fill-opacity="0.8" filter="url(#b2)"/>
</g></g>
<path d="M1643.0 2794.6C1643.3 2791.0 1644.9 2786.7 1647.3 2783.1C1649.7 2779.5 1653.3 2776.4 1657.4 2773.1C1661.4 2769.7 1666.5 2766.1 1671.7 2763.0C1677.0 2759.9 1682.7 2756.6 1688.9 2754.4C1695.2 2752.3 1702.3 2751.0 1709.0 2750.1C1715.7 2749.3 1722.7 2749.0 1729.1 2749.4C1735.6 2749.8 1741.8 2750.5 1747.8 2752.3C1753.7 2754.1 1760.2 2756.7 1765.0 2760.2C1769.8 2763.6 1773.3 2768.3 1776.4 2773.1C1779.6 2777.9 1782.4 2783.6 1783.6 2788.9C1784.8 2794.1 1784.6 2799.6 1783.6 2804.6C1782.7 2809.7 1780.8 2814.7 1777.9 2819.0C1775.0 2823.3 1771.2 2827.6 1766.4 2830.5C1761.6 2833.3 1755.4 2834.9 1749.2 2836.2C1743.0 2837.5 1735.3 2838.4 1729.1 2838.4C1722.9 2838.4 1717.2 2837.5 1711.9 2836.2C1706.6 2834.9 1701.9 2833.1 1697.5 2830.5C1693.2 2827.8 1689.4 2823.0 1686.1 2820.4C1682.7 2817.8 1681.1 2815.6 1677.5 2814.7C1673.9 2813.7 1668.6 2815.2 1664.6 2814.7C1660.5 2814.2 1656.2 2813.5 1653.1 2811.8C1650.0 2810.1 1647.6 2807.5 1645.9 2804.6C1644.2 2801.8 1642.8 2798.2 1643.0 2794.6Z" fill="#4a3c32" fill-opacity="0.3" filter="url(#b6)" transform="translate(3,2)"/>
<path d="M1643.0 2794.6C1643.3 2791.0 1644.9 2786.7 1647.3 2783.1C1649.7 2779.5 1653.3 2776.4 1657.4 2773.1C1661.4 2769.7 1666.5 2766.1 1671.7 2763.0C1677.0 2759.9 1682.7 2756.6 1688.9 2754.4C1695.2 2752.3 1702.3 2751.0 1709.0 2750.1C1715.7 2749.3 1722.7 2749.0 1729.1 2749.4C1735.6 2749.8 1741.8 2750.5 1747.8 2752.3C1753.7 2754.1 1760.2 2756.7 1765.0 2760.2C1769.8 2763.6 1773.3 2768.3 1776.4 2773.1C1779.6 2777.9 1782.4 2783.6 1783.6 2788.9C1784.8 2794.1 1784.6 2799.6 1783.6 2804.6C1782.7 2809.7 1780.8 2814.7 1777.9 2819.0C1775.0 2823.3 1771.2 2827.6 1766.4 2830.5C1761.6 2833.3 1755.4 2834.9 1749.2 2836.2C1743.0 2837.5 1735.3 2838.4 1729.1 2838.4C1722.9 2838.4 1717.2 2837.5 1711.9 2836.2C1706.6 2834.9 1701.9 2833.1 1697.5 2830.5C1693.2 2827.8 1689.4 2823.0 1686.1 2820.4C1682.7 2817.8 1681.1 2815.6 1677.5 2814.7C1673.9 2813.7 1668.6 2815.2 1664.6 2814.7C1660.5 2814.2 1656.2 2813.5 1653.1 2811.8C1650.0 2810.1 1647.6 2807.5 1645.9 2804.6C1644.2 2801.8 1642.8 2798.2 1643.0 2794.6Z" fill="#c3b3a6" stroke="#c3b3a6" stroke-width="3" stroke-opacity="0.5" filter="url(#b2)"/>
<g filter="url(#tex)">
<path d="M1643.0 2794.6C1643.3 2791.0 1644.9 2786.7 1647.3 2783.1C1649.7 2779.5 1653.3 2776.4 1657.4 2773.1C1661.4 2769.7 1666.5 2766.1 1671.7 2763.0C1677.0 2759.9 1682.7 2756.6 1688.9 2754.4C1695.2 2752.3 1702.3 2751.0 1709.0 2750.1C1715.7 2749.3 1722.7 2749.0 1729.1 2749.4C1735.6 2749.8 1741.8 2750.5 1747.8 2752.3C1753.7 2754.1 1760.2 2756.7 1765.0 2760.2C1769.8 2763.6 1773.3 2768.3 1776.4 2773.1C1779.6 2777.9 1782.4 2783.6 1783.6 2788.9C1784.8 2794.1 1784.6 2799.6 1783.6 2804.6C1782.7 2809.7 1780.8 2814.7 1777.9 2819.0C1775.0 2823.3 1771.2 2827.6 1766.4 2830.5C1761.6 2833.3 1755.4 2834.9 1749.2 2836.2C1743.0 2837.5 1735.3 2838.4 1729.1 2838.4C1722.9 2838.4 1717.2 2837.5 1711.9 2836.2C1706.6 2834.9 1701.9 2833.1 1697.5 2830.5C1693.2 2827.8 1689.4 2823.0 1686.1 2820.4C1682.7 2817.8 1681.1 2815.6 1677.5 2814.7C1673.9 2813.7 1668.6 2815.2 1664.6 2814.7C1660.5 2814.2 1656.2 2813.5 1653.1 2811.8C1650.0 2810.1 1647.6 2807.5 1645.9 2804.6C1644.2 2801.8 1642.8 2798.2 1643.0 2794.6Z" fill="#863e27"/>
<g clip-path="url(#tc20)">
<ellipse cx="1687.5" cy="2763.0" rx="15.8" ry="8.6" fill="#3e0908" fill-opacity="0.9" filter="url(#b4)"/>
<ellipse cx="1723.4" cy="2764.5" rx="37.3" ry="12.9" fill="#601c14" fill-opacity="0.8" filter="url(#b6)"/>
<ellipse cx="1717.6" cy="2814.7" rx="31.6" ry="15.8" fill="#9a5438" fill-opacity="0.8" filter="url(#b6)"/>
<ellipse cx="1654.5" cy="2790.3" rx="10.0" ry="12.9" fill="#954938" fill-opacity="0.7" filter="url(#b4)"/>
<ellipse cx="1772.1" cy="2794.6" rx="10.0" ry="25.8" fill="#823a25" fill-opacity="0.6" filter="url(#b4)"/>
<ellipse cx="1726.2" cy="2790.3" rx="5.7" ry="5.7" fill="#a66b58" fill-opacity="0.7" filter="url(#b3)"/>
<ellipse cx="1657.4" cy="2808.9" rx="11.5" ry="5.7" fill="#671a10" fill-opacity="0.7" filter="url(#b3)"/>
<ellipse cx="1750.6" cy="2774.5" rx="12.9" ry="12.9" fill="#89432b" fill-opacity="0.6" filter="url(#b4)"/>
</g></g>
<path d="M1892.4 2784.6C1892.5 2779.6 1893.7 2772.6 1895.9 2767.4C1898.2 2762.1 1901.7 2756.9 1906.0 2753.0C1910.3 2749.2 1916.0 2746.5 1921.8 2744.4C1927.5 2742.4 1934.0 2741.3 1940.4 2740.8C1946.9 2740.4 1954.0 2740.7 1960.5 2741.6C1967.0 2742.4 1973.4 2743.7 1979.2 2745.9C1984.9 2748.0 1990.6 2750.9 1994.9 2754.5C1999.2 2758.1 2002.5 2762.8 2005.0 2767.4C2007.5 2771.9 2009.3 2776.7 2010.0 2781.7C2010.7 2786.7 2010.6 2792.7 2009.3 2797.5C2008.0 2802.3 2005.5 2806.6 2002.1 2810.4C1998.8 2814.2 1994.2 2817.8 1989.2 2820.5C1984.2 2823.1 1978.0 2824.8 1972.0 2826.2C1966.0 2827.6 1959.5 2828.8 1953.3 2829.1C1947.1 2829.3 1940.7 2829.1 1934.7 2827.6C1928.7 2826.2 1922.7 2823.6 1917.5 2820.5C1912.2 2817.4 1906.8 2812.8 1903.1 2809.0C1899.4 2805.2 1897.0 2801.6 1895.2 2797.5C1893.4 2793.4 1892.2 2789.6 1892.4 2784.6Z" fill="#4a3c32" fill-opacity="0.3" filter="url(#b6)" transform="translate(3,2)"/>
<path d="M1892.4 2784.6C1892.5 2779.6 1893.7 2772.6 1895.9 2767.4C1898.2 2762.1 1901.7 2756.9 1906.0 2753.0C1910.3 2749.2 1916.0 2746.5 1921.8 2744.4C1927.5 2742.4 1934.0 2741.3 1940.4 2740.8C1946.9 2740.4 1954.0 2740.7 1960.5 2741.6C1967.0 2742.4 1973.4 2743.7 1979.2 2745.9C1984.9 2748.0 1990.6 2750.9 1994.9 2754.5C1999.2 2758.1 2002.5 2762.8 2005.0 2767.4C2007.5 2771.9 2009.3 2776.7 2010.0 2781.7C2010.7 2786.7 2010.6 2792.7 2009.3 2797.5C2008.0 2802.3 2005.5 2806.6 2002.1 2810.4C1998.8 2814.2 1994.2 2817.8 1989.2 2820.5C1984.2 2823.1 1978.0 2824.8 1972.0 2826.2C1966.0 2827.6 1959.5 2828.8 1953.3 2829.1C1947.1 2829.3 1940.7 2829.1 1934.7 2827.6C1928.7 2826.2 1922.7 2823.6 1917.5 2820.5C1912.2 2817.4 1906.8 2812.8 1903.1 2809.0C1899.4 2805.2 1897.0 2801.6 1895.2 2797.5C1893.4 2793.4 1892.2 2789.6 1892.4 2784.6Z" fill="#b7a89a" stroke="#b7a89a" stroke-width="3" stroke-opacity="0.5" filter="url(#b2)"/>
<g filter="url(#tex)">
<path d="M1892.4 2784.6C1892.5 2779.6 1893.7 2772.6 1895.9 2767.4C1898.2 2762.1 1901.7 2756.9 1906.0 2753.0C1910.3 2749.2 1916.0 2746.5 1921.8 2744.4C1927.5 2742.4 1934.0 2741.3 1940.4 2740.8C1946.9 2740.4 1954.0 2740.7 1960.5 2741.6C1967.0 2742.4 1973.4 2743.7 1979.2 2745.9C1984.9 2748.0 1990.6 2750.9 1994.9 2754.5C1999.2 2758.1 2002.5 2762.8 2005.0 2767.4C2007.5 2771.9 2009.3 2776.7 2010.0 2781.7C2010.7 2786.7 2010.6 2792.7 2009.3 2797.5C2008.0 2802.3 2005.5 2806.6 2002.1 2810.4C1998.8 2814.2 1994.2 2817.8 1989.2 2820.5C1984.2 2823.1 1978.0 2824.8 1972.0 2826.2C1966.0 2827.6 1959.5 2828.8 1953.3 2829.1C1947.1 2829.3 1940.7 2829.1 1934.7 2827.6C1928.7 2826.2 1922.7 2823.6 1917.5 2820.5C1912.2 2817.4 1906.8 2812.8 1903.1 2809.0C1899.4 2805.2 1897.0 2801.6 1895.2 2797.5C1893.4 2793.4 1892.2 2789.6 1892.4 2784.6Z" fill="#752914"/>
<g clip-path="url(#tc21)">
<ellipse cx="1982.0" cy="2761.6" rx="21.5" ry="15.8" fill="#3a0807" fill-opacity="0.9" filter="url(#b6)"/>
<ellipse cx="1904.6" cy="2784.6" rx="12.9" ry="25.8" fill="#8b4724" fill-opacity="0.8" filter="url(#b4)"/>
<ellipse cx="1970.5" cy="2784.6" rx="10.0" ry="15.8" fill="#8b4b35" fill-opacity="0.85" filter="url(#b3)"/>
<ellipse cx="1953.3" cy="2804.7" rx="12.9" ry="7.2" fill="#894932" fill-opacity="0.8" filter="url(#b3)" transform="rotate(-25 1953.3 2804.7)"/>
<ellipse cx="1940.4" cy="2781.7" rx="12.9" ry="17.2" fill="#62180b" fill-opacity="0.6" filter="url(#b4)"/>
<ellipse cx="1983.5" cy="2813.3" rx="15.8" ry="8.6" fill="#731810" fill-opacity="0.6" filter="url(#b4)"/>
<ellipse cx="1931.8" cy="2757.3" rx="15.8" ry="8.6" fill="#823825" fill-opacity="0.6" filter="url(#b4)"/>
</g></g>
<path d="M2138.3 2796.1C2138.1 2791.5 2138.6 2785.6 2140.4 2780.3C2142.2 2775.0 2145.2 2769.1 2149.0 2764.5C2152.9 2760.0 2158.1 2755.8 2163.4 2753.0C2168.6 2750.3 2174.8 2748.7 2180.6 2748.0C2186.3 2747.3 2192.1 2747.7 2197.8 2748.7C2203.5 2749.8 2209.8 2752.1 2215.0 2754.5C2220.3 2756.9 2225.2 2760.0 2229.4 2763.1C2233.5 2766.2 2239.2 2769.5 2240.1 2773.1C2241.1 2776.7 2237.1 2780.8 2235.1 2784.6C2233.1 2788.4 2230.3 2792.2 2227.9 2796.1C2225.5 2799.9 2223.6 2803.7 2220.8 2807.5C2217.9 2811.4 2214.8 2815.4 2210.7 2819.0C2206.6 2822.6 2201.6 2826.9 2196.4 2829.1C2191.1 2831.2 2184.9 2832.2 2179.2 2831.9C2173.4 2831.7 2167.0 2829.8 2161.9 2827.6C2156.9 2825.5 2152.5 2822.4 2149.0 2819.0C2145.6 2815.7 2142.9 2811.4 2141.1 2807.5C2139.3 2803.7 2138.4 2800.6 2138.3 2796.1Z" fill="#4a3c32" fill-opacity="0.3" filter="url(#b6)" transform="translate(3,2)"/>
<path d="M2138.3 2796.1C2138.1 2791.5 2138.6 2785.6 2140.4 2780.3C2142.2 2775.0 2145.2 2769.1 2149.0 2764.5C2152.9 2760.0 2158.1 2755.8 2163.4 2753.0C2168.6 2750.3 2174.8 2748.7 2180.6 2748.0C2186.3 2747.3 2192.1 2747.7 2197.8 2748.7C2203.5 2749.8 2209.8 2752.1 2215.0 2754.5C2220.3 2756.9 2225.2 2760.0 2229.4 2763.1C2233.5 2766.2 2239.2 2769.5 2240.1 2773.1C2241.1 2776.7 2237.1 2780.8 2235.1 2784.6C2233.1 2788.4 2230.3 2792.2 2227.9 2796.1C2225.5 2799.9 2223.6 2803.7 2220.8 2807.5C2217.9 2811.4 2214.8 2815.4 2210.7 2819.0C2206.6 2822.6 2201.6 2826.9 2196.4 2829.1C2191.1 2831.2 2184.9 2832.2 2179.2 2831.9C2173.4 2831.7 2167.0 2829.8 2161.9 2827.6C2156.9 2825.5 2152.5 2822.4 2149.0 2819.0C2145.6 2815.7 2142.9 2811.4 2141.1 2807.5C2139.3 2803.7 2138.4 2800.6 2138.3 2796.1Z" fill="#b9aa9c" stroke="#b9aa9c" stroke-width="3" stroke-opacity="0.5" filter="url(#b2)"/>
<g filter="url(#tex)">
<path d="M2138.3 2796.1C2138.1 2791.5 2138.6 2785.6 2140.4 2780.3C2142.2 2775.0 2145.2 2769.1 2149.0 2764.5C2152.9 2760.0 2158.1 2755.8 2163.4 2753.0C2168.6 2750.3 2174.8 2748.7 2180.6 2748.0C2186.3 2747.3 2192.1 2747.7 2197.8 2748.7C2203.5 2749.8 2209.8 2752.1 2215.0 2754.5C2220.3 2756.9 2225.2 2760.0 2229.4 2763.1C2233.5 2766.2 2239.2 2769.5 2240.1 2773.1C2241.1 2776.7 2237.1 2780.8 2235.1 2784.6C2233.1 2788.4 2230.3 2792.2 2227.9 2796.1C2225.5 2799.9 2223.6 2803.7 2220.8 2807.5C2217.9 2811.4 2214.8 2815.4 2210.7 2819.0C2206.6 2822.6 2201.6 2826.9 2196.4 2829.1C2191.1 2831.2 2184.9 2832.2 2179.2 2831.9C2173.4 2831.7 2167.0 2829.8 2161.9 2827.6C2156.9 2825.5 2152.5 2822.4 2149.0 2819.0C2145.6 2815.7 2142.9 2811.4 2141.1 2807.5C2139.3 2803.7 2138.4 2800.6 2138.3 2796.1Z" fill="#601f14"/>
<g clip-path="url(#tc22)">
<ellipse cx="2147.6" cy="2804.7" rx="10.0" ry="17.2" fill="#360807" fill-opacity="0.85" filter="url(#b4)"/>
<ellipse cx="2186.3" cy="2757.3" rx="31.6" ry="8.6" fill="#4e110a" fill-opacity="0.8" filter="url(#b4)"/>
<ellipse cx="2183.5" cy="2784.6" rx="18.6" ry="15.8" fill="#753223" fill-opacity="0.8" filter="url(#b6)"/>
<ellipse cx="2220.8" cy="2778.9" rx="10.0" ry="12.9" fill="#671a14" fill-opacity="0.6" filter="url(#b4)"/>
<ellipse cx="2209.3" cy="2809.0" rx="3.2" ry="3.2" fill="#d3a693" fill-opacity="0.7" filter="url(#b2)"/>
<ellipse cx="2180.6" cy="2810.4" rx="18.6" ry="12.9" fill="#621c14" fill-opacity="0.6" filter="url(#b4)"/>
</g></g>
</g>
</g>
</svg>
</body>
</html>
